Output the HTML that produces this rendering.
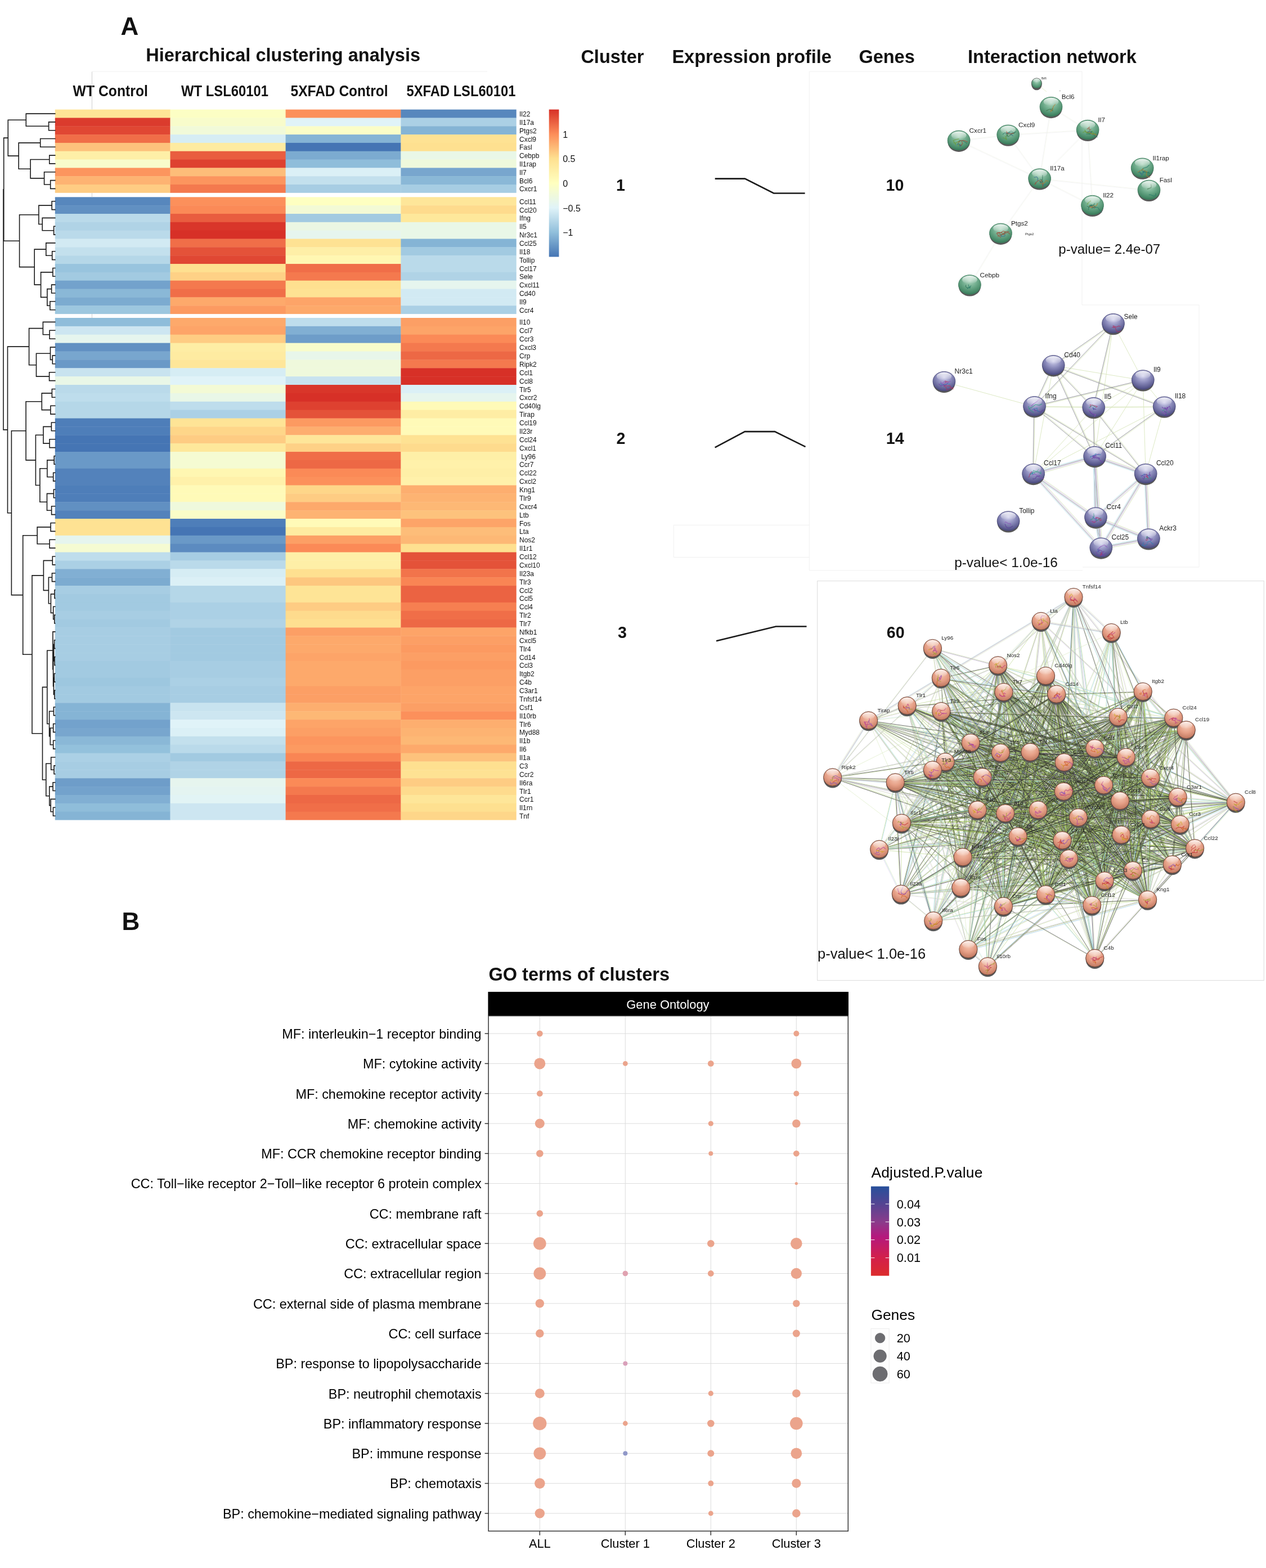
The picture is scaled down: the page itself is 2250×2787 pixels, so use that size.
<!DOCTYPE html>
<html lang="en"><head><meta charset="utf-8"><title>Figure</title>
<style>
html,body{margin:0;padding:0;background:#fff;}
body{width:2250px;height:2787px;overflow:hidden;}
svg{display:block;}
text{white-space:pre;}
</style></head><body>
<svg width="2250" height="2787" viewBox="0 0 2250 2787">
<rect width="2250" height="2787" fill="#fff"/>
<g>
<rect x="97.8" y="194.65" width="205.1" height="15.22" fill="#fee496"/>
<rect x="302.5" y="194.65" width="205.5" height="15.22" fill="#fcfec4"/>
<rect x="507.6" y="194.65" width="205.2" height="15.22" fill="#fc905b"/>
<rect x="712.4" y="194.65" width="205.3" height="15.22" fill="#5787bd"/>
<rect x="97.8" y="209.47" width="205.1" height="15.22" fill="#db3b2d"/>
<rect x="302.5" y="209.47" width="205.5" height="15.22" fill="#f8fccb"/>
<rect x="507.6" y="209.47" width="205.2" height="15.22" fill="#e0f3f8"/>
<rect x="712.4" y="209.47" width="205.3" height="15.22" fill="#abd0e5"/>
<rect x="97.8" y="224.28" width="205.1" height="15.22" fill="#e04733"/>
<rect x="302.5" y="224.28" width="205.5" height="15.22" fill="#f1fad9"/>
<rect x="507.6" y="224.28" width="205.2" height="15.22" fill="#fafdc8"/>
<rect x="712.4" y="224.28" width="205.3" height="15.22" fill="#85b4d5"/>
<rect x="97.8" y="239.1" width="205.1" height="15.22" fill="#f06e48"/>
<rect x="302.5" y="239.1" width="205.5" height="15.22" fill="#d6edf4"/>
<rect x="507.6" y="239.1" width="205.2" height="15.22" fill="#85b4d5"/>
<rect x="712.4" y="239.1" width="205.3" height="15.22" fill="#fee293"/>
<rect x="97.8" y="253.91" width="205.1" height="15.22" fill="#fdc27c"/>
<rect x="302.5" y="253.91" width="205.5" height="15.22" fill="#feeba1"/>
<rect x="507.6" y="253.91" width="205.2" height="15.22" fill="#4575b4"/>
<rect x="712.4" y="253.91" width="205.3" height="15.22" fill="#fee090"/>
<rect x="97.8" y="268.73" width="205.1" height="15.22" fill="#feefa7"/>
<rect x="302.5" y="268.73" width="205.5" height="15.22" fill="#e95d3f"/>
<rect x="507.6" y="268.73" width="205.2" height="15.22" fill="#7cabd0"/>
<rect x="712.4" y="268.73" width="205.3" height="15.22" fill="#e9f7e7"/>
<rect x="97.8" y="283.54" width="205.1" height="15.22" fill="#f8fccb"/>
<rect x="302.5" y="283.54" width="205.5" height="15.22" fill="#de4130"/>
<rect x="507.6" y="283.54" width="205.2" height="15.22" fill="#8fbdda"/>
<rect x="712.4" y="283.54" width="205.3" height="15.22" fill="#eff9dc"/>
<rect x="97.8" y="298.36" width="205.1" height="15.22" fill="#fc955e"/>
<rect x="302.5" y="298.36" width="205.5" height="15.22" fill="#fdbd79"/>
<rect x="507.6" y="298.36" width="205.2" height="15.22" fill="#dbf0f6"/>
<rect x="712.4" y="298.36" width="205.3" height="15.22" fill="#78a6ce"/>
<rect x="97.8" y="313.17" width="205.1" height="15.22" fill="#fdb372"/>
<rect x="302.5" y="313.17" width="205.5" height="15.22" fill="#fc955e"/>
<rect x="507.6" y="313.17" width="205.2" height="15.22" fill="#c3e0ed"/>
<rect x="712.4" y="313.17" width="205.3" height="15.22" fill="#8ab8d7"/>
<rect x="97.8" y="327.99" width="205.1" height="14.82" fill="#fecc83"/>
<rect x="302.5" y="327.99" width="205.5" height="14.82" fill="#f4794e"/>
<rect x="507.6" y="327.99" width="205.2" height="14.82" fill="#a7cde3"/>
<rect x="712.4" y="327.99" width="205.3" height="14.82" fill="#a7cde3"/>
<rect x="97.8" y="350.3" width="205.1" height="15.24" fill="#5787bd"/>
<rect x="302.5" y="350.3" width="205.5" height="15.24" fill="#fc905b"/>
<rect x="507.6" y="350.3" width="205.2" height="15.24" fill="#feffc1"/>
<rect x="712.4" y="350.3" width="205.3" height="15.24" fill="#fee699"/>
<rect x="97.8" y="365.14" width="205.1" height="15.24" fill="#6190c2"/>
<rect x="302.5" y="365.14" width="205.5" height="15.24" fill="#fb8a57"/>
<rect x="507.6" y="365.14" width="205.2" height="15.24" fill="#f3fad5"/>
<rect x="712.4" y="365.14" width="205.3" height="15.24" fill="#fedb8d"/>
<rect x="97.8" y="379.99" width="205.1" height="15.24" fill="#badaea"/>
<rect x="302.5" y="379.99" width="205.5" height="15.24" fill="#e95d3f"/>
<rect x="507.6" y="379.99" width="205.2" height="15.24" fill="#a2cae1"/>
<rect x="712.4" y="379.99" width="205.3" height="15.24" fill="#fee89b"/>
<rect x="97.8" y="394.83" width="205.1" height="15.24" fill="#b0d3e6"/>
<rect x="302.5" y="394.83" width="205.5" height="15.24" fill="#d9362a"/>
<rect x="507.6" y="394.83" width="205.2" height="15.24" fill="#ebf7e3"/>
<rect x="712.4" y="394.83" width="205.3" height="15.24" fill="#e9f7e7"/>
<rect x="97.8" y="409.67" width="205.1" height="15.24" fill="#badaea"/>
<rect x="302.5" y="409.67" width="205.5" height="15.24" fill="#d73027"/>
<rect x="507.6" y="409.67" width="205.2" height="15.24" fill="#e6f5ee"/>
<rect x="712.4" y="409.67" width="205.3" height="15.24" fill="#e9f7e7"/>
<rect x="97.8" y="424.51" width="205.1" height="15.24" fill="#d2eaf3"/>
<rect x="302.5" y="424.51" width="205.5" height="15.24" fill="#f06e48"/>
<rect x="507.6" y="424.51" width="205.2" height="15.24" fill="#fee293"/>
<rect x="712.4" y="424.51" width="205.3" height="15.24" fill="#85b4d5"/>
<rect x="97.8" y="439.36" width="205.1" height="15.24" fill="#c3e0ed"/>
<rect x="302.5" y="439.36" width="205.5" height="15.24" fill="#e45239"/>
<rect x="507.6" y="439.36" width="205.2" height="15.24" fill="#feefa7"/>
<rect x="712.4" y="439.36" width="205.3" height="15.24" fill="#a2cae1"/>
<rect x="97.8" y="454.2" width="205.1" height="15.24" fill="#b5d7e8"/>
<rect x="302.5" y="454.2" width="205.5" height="15.24" fill="#e04733"/>
<rect x="507.6" y="454.2" width="205.2" height="15.24" fill="#fff7b2"/>
<rect x="712.4" y="454.2" width="205.3" height="15.24" fill="#badaea"/>
<rect x="97.8" y="469.04" width="205.1" height="15.24" fill="#98c4de"/>
<rect x="302.5" y="469.04" width="205.5" height="15.24" fill="#fee090"/>
<rect x="507.6" y="469.04" width="205.2" height="15.24" fill="#f06e48"/>
<rect x="712.4" y="469.04" width="205.3" height="15.24" fill="#badaea"/>
<rect x="97.8" y="483.89" width="205.1" height="15.24" fill="#a2cae1"/>
<rect x="302.5" y="483.89" width="205.5" height="15.24" fill="#fed186"/>
<rect x="507.6" y="483.89" width="205.2" height="15.24" fill="#f4794e"/>
<rect x="712.4" y="483.89" width="205.3" height="15.24" fill="#b0d3e6"/>
<rect x="97.8" y="498.73" width="205.1" height="15.24" fill="#73a2cc"/>
<rect x="302.5" y="498.73" width="205.5" height="15.24" fill="#f4794e"/>
<rect x="507.6" y="498.73" width="205.2" height="15.24" fill="#fee090"/>
<rect x="712.4" y="498.73" width="205.3" height="15.24" fill="#e6f5ee"/>
<rect x="97.8" y="513.57" width="205.1" height="15.24" fill="#8ab8d7"/>
<rect x="302.5" y="513.57" width="205.5" height="15.24" fill="#f06e48"/>
<rect x="507.6" y="513.57" width="205.2" height="15.24" fill="#fee293"/>
<rect x="712.4" y="513.57" width="205.3" height="15.24" fill="#d2eaf3"/>
<rect x="97.8" y="528.41" width="205.1" height="15.24" fill="#7cabd0"/>
<rect x="302.5" y="528.41" width="205.5" height="15.24" fill="#fda96b"/>
<rect x="507.6" y="528.41" width="205.2" height="15.24" fill="#fda468"/>
<rect x="712.4" y="528.41" width="205.3" height="15.24" fill="#d2eaf3"/>
<rect x="97.8" y="543.26" width="205.1" height="14.84" fill="#9dc7df"/>
<rect x="302.5" y="543.26" width="205.5" height="14.84" fill="#fc9a61"/>
<rect x="507.6" y="543.26" width="205.2" height="14.84" fill="#fda96b"/>
<rect x="712.4" y="543.26" width="205.3" height="14.84" fill="#abd0e5"/>
<rect x="97.8" y="565" width="205.1" height="15.28" fill="#8fbdda"/>
<rect x="302.5" y="565" width="205.5" height="15.28" fill="#fda96b"/>
<rect x="507.6" y="565" width="205.2" height="15.28" fill="#beddec"/>
<rect x="712.4" y="565" width="205.3" height="15.28" fill="#fc9f65"/>
<rect x="97.8" y="579.88" width="205.1" height="15.28" fill="#cde6f1"/>
<rect x="302.5" y="579.88" width="205.5" height="15.28" fill="#fda468"/>
<rect x="507.6" y="579.88" width="205.2" height="15.28" fill="#81afd3"/>
<rect x="712.4" y="579.88" width="205.3" height="15.28" fill="#fda468"/>
<rect x="97.8" y="594.75" width="205.1" height="15.28" fill="#e6f5ee"/>
<rect x="302.5" y="594.75" width="205.5" height="15.28" fill="#fecc83"/>
<rect x="507.6" y="594.75" width="205.2" height="15.28" fill="#6e9dc9"/>
<rect x="712.4" y="594.75" width="205.3" height="15.28" fill="#fb8a57"/>
<rect x="97.8" y="609.63" width="205.1" height="15.28" fill="#6190c2"/>
<rect x="302.5" y="609.63" width="205.5" height="15.28" fill="#feeda4"/>
<rect x="507.6" y="609.63" width="205.2" height="15.28" fill="#f8fccb"/>
<rect x="712.4" y="609.63" width="205.3" height="15.28" fill="#f4794e"/>
<rect x="97.8" y="624.51" width="205.1" height="15.28" fill="#78a6ce"/>
<rect x="302.5" y="624.51" width="205.5" height="15.28" fill="#feeba1"/>
<rect x="507.6" y="624.51" width="205.2" height="15.28" fill="#e8f6ea"/>
<rect x="712.4" y="624.51" width="205.3" height="15.28" fill="#ed6845"/>
<rect x="97.8" y="639.38" width="205.1" height="15.28" fill="#6a99c7"/>
<rect x="302.5" y="639.38" width="205.5" height="15.28" fill="#fee699"/>
<rect x="507.6" y="639.38" width="205.2" height="15.28" fill="#eff9dc"/>
<rect x="712.4" y="639.38" width="205.3" height="15.28" fill="#f4794e"/>
<rect x="97.8" y="654.26" width="205.1" height="15.28" fill="#c8e3ef"/>
<rect x="302.5" y="654.26" width="205.5" height="15.28" fill="#d6edf4"/>
<rect x="507.6" y="654.26" width="205.2" height="15.28" fill="#eff9dc"/>
<rect x="712.4" y="654.26" width="205.3" height="15.28" fill="#d73027"/>
<rect x="97.8" y="669.14" width="205.1" height="15.28" fill="#e9f7e7"/>
<rect x="302.5" y="669.14" width="205.5" height="15.28" fill="#e0f3f8"/>
<rect x="507.6" y="669.14" width="205.2" height="15.28" fill="#c8e3ef"/>
<rect x="712.4" y="669.14" width="205.3" height="15.28" fill="#d73027"/>
<rect x="97.8" y="684.01" width="205.1" height="15.28" fill="#badaea"/>
<rect x="302.5" y="684.01" width="205.5" height="15.28" fill="#f3fad5"/>
<rect x="507.6" y="684.01" width="205.2" height="15.28" fill="#d9362a"/>
<rect x="712.4" y="684.01" width="205.3" height="15.28" fill="#dbf0f6"/>
<rect x="97.8" y="698.89" width="205.1" height="15.28" fill="#beddec"/>
<rect x="302.5" y="698.89" width="205.5" height="15.28" fill="#e9f7e7"/>
<rect x="507.6" y="698.89" width="205.2" height="15.28" fill="#d73027"/>
<rect x="712.4" y="698.89" width="205.3" height="15.28" fill="#e6f5ee"/>
<rect x="97.8" y="713.77" width="205.1" height="15.28" fill="#b5d7e8"/>
<rect x="302.5" y="713.77" width="205.5" height="15.28" fill="#beddec"/>
<rect x="507.6" y="713.77" width="205.2" height="15.28" fill="#de4130"/>
<rect x="712.4" y="713.77" width="205.3" height="15.28" fill="#fffab8"/>
<rect x="97.8" y="728.64" width="205.1" height="15.28" fill="#b5d7e8"/>
<rect x="302.5" y="728.64" width="205.5" height="15.28" fill="#abd0e5"/>
<rect x="507.6" y="728.64" width="205.2" height="15.28" fill="#e45239"/>
<rect x="712.4" y="728.64" width="205.3" height="15.28" fill="#feeda4"/>
<rect x="97.8" y="743.52" width="205.1" height="15.28" fill="#4e7eb9"/>
<rect x="302.5" y="743.52" width="205.5" height="15.28" fill="#fee496"/>
<rect x="507.6" y="743.52" width="205.2" height="15.28" fill="#fc9a61"/>
<rect x="712.4" y="743.52" width="205.3" height="15.28" fill="#fffab8"/>
<rect x="97.8" y="758.4" width="205.1" height="15.28" fill="#4e7eb9"/>
<rect x="302.5" y="758.4" width="205.5" height="15.28" fill="#fed689"/>
<rect x="507.6" y="758.4" width="205.2" height="15.28" fill="#fdae6f"/>
<rect x="712.4" y="758.4" width="205.3" height="15.28" fill="#fffab8"/>
<rect x="97.8" y="773.27" width="205.1" height="15.28" fill="#4575b4"/>
<rect x="302.5" y="773.27" width="205.5" height="15.28" fill="#fecc83"/>
<rect x="507.6" y="773.27" width="205.2" height="15.28" fill="#fee699"/>
<rect x="712.4" y="773.27" width="205.3" height="15.28" fill="#fee293"/>
<rect x="97.8" y="788.15" width="205.1" height="15.28" fill="#4575b4"/>
<rect x="302.5" y="788.15" width="205.5" height="15.28" fill="#fee89b"/>
<rect x="507.6" y="788.15" width="205.2" height="15.28" fill="#fed186"/>
<rect x="712.4" y="788.15" width="205.3" height="15.28" fill="#fedb8d"/>
<rect x="97.8" y="803.03" width="205.1" height="15.28" fill="#6a99c7"/>
<rect x="302.5" y="803.03" width="205.5" height="15.28" fill="#f5fbd2"/>
<rect x="507.6" y="803.03" width="205.2" height="15.28" fill="#f06e48"/>
<rect x="712.4" y="803.03" width="205.3" height="15.28" fill="#feefa7"/>
<rect x="97.8" y="817.9" width="205.1" height="15.28" fill="#6a99c7"/>
<rect x="302.5" y="817.9" width="205.5" height="15.28" fill="#f5fbd2"/>
<rect x="507.6" y="817.9" width="205.2" height="15.28" fill="#ed6845"/>
<rect x="712.4" y="817.9" width="205.3" height="15.28" fill="#fff1aa"/>
<rect x="97.8" y="832.78" width="205.1" height="15.28" fill="#5382bb"/>
<rect x="302.5" y="832.78" width="205.5" height="15.28" fill="#fff7b2"/>
<rect x="507.6" y="832.78" width="205.2" height="15.28" fill="#fb8a57"/>
<rect x="712.4" y="832.78" width="205.3" height="15.28" fill="#feefa7"/>
<rect x="97.8" y="847.66" width="205.1" height="15.28" fill="#5382bb"/>
<rect x="302.5" y="847.66" width="205.5" height="15.28" fill="#fff1aa"/>
<rect x="507.6" y="847.66" width="205.2" height="15.28" fill="#fc905b"/>
<rect x="712.4" y="847.66" width="205.3" height="15.28" fill="#fff1aa"/>
<rect x="97.8" y="862.53" width="205.1" height="15.28" fill="#4e7eb9"/>
<rect x="302.5" y="862.53" width="205.5" height="15.28" fill="#fffab8"/>
<rect x="507.6" y="862.53" width="205.2" height="15.28" fill="#fed689"/>
<rect x="712.4" y="862.53" width="205.3" height="15.28" fill="#fdae6f"/>
<rect x="97.8" y="877.41" width="205.1" height="15.28" fill="#4e7eb9"/>
<rect x="302.5" y="877.41" width="205.5" height="15.28" fill="#fffab8"/>
<rect x="507.6" y="877.41" width="205.2" height="15.28" fill="#fecc83"/>
<rect x="712.4" y="877.41" width="205.3" height="15.28" fill="#fdb372"/>
<rect x="97.8" y="892.29" width="205.1" height="15.28" fill="#6190c2"/>
<rect x="302.5" y="892.29" width="205.5" height="15.28" fill="#eff9dc"/>
<rect x="507.6" y="892.29" width="205.2" height="15.28" fill="#fda96b"/>
<rect x="712.4" y="892.29" width="205.3" height="15.28" fill="#fdb875"/>
<rect x="97.8" y="907.16" width="205.1" height="15.28" fill="#5382bb"/>
<rect x="302.5" y="907.16" width="205.5" height="15.28" fill="#fafdc8"/>
<rect x="507.6" y="907.16" width="205.2" height="15.28" fill="#fdb372"/>
<rect x="712.4" y="907.16" width="205.3" height="15.28" fill="#fdc27c"/>
<rect x="97.8" y="922.04" width="205.1" height="15.28" fill="#fee293"/>
<rect x="302.5" y="922.04" width="205.5" height="15.28" fill="#4e7eb9"/>
<rect x="507.6" y="922.04" width="205.2" height="15.28" fill="#fffab8"/>
<rect x="712.4" y="922.04" width="205.3" height="15.28" fill="#fda468"/>
<rect x="97.8" y="936.92" width="205.1" height="15.28" fill="#fee293"/>
<rect x="302.5" y="936.92" width="205.5" height="15.28" fill="#4575b4"/>
<rect x="507.6" y="936.92" width="205.2" height="15.28" fill="#feeba1"/>
<rect x="712.4" y="936.92" width="205.3" height="15.28" fill="#fdbd79"/>
<rect x="97.8" y="951.79" width="205.1" height="15.28" fill="#e6f5ee"/>
<rect x="302.5" y="951.79" width="205.5" height="15.28" fill="#6a99c7"/>
<rect x="507.6" y="951.79" width="205.2" height="15.28" fill="#fc9f65"/>
<rect x="712.4" y="951.79" width="205.3" height="15.28" fill="#fdb875"/>
<rect x="97.8" y="966.67" width="205.1" height="15.28" fill="#f5fbd2"/>
<rect x="302.5" y="966.67" width="205.5" height="15.28" fill="#5c8bc0"/>
<rect x="507.6" y="966.67" width="205.2" height="15.28" fill="#fb8a57"/>
<rect x="712.4" y="966.67" width="205.3" height="15.28" fill="#fee090"/>
<rect x="97.8" y="981.55" width="205.1" height="15.28" fill="#beddec"/>
<rect x="302.5" y="981.55" width="205.5" height="15.28" fill="#a7cde3"/>
<rect x="507.6" y="981.55" width="205.2" height="15.28" fill="#feefa7"/>
<rect x="712.4" y="981.55" width="205.3" height="15.28" fill="#e45239"/>
<rect x="97.8" y="996.42" width="205.1" height="15.28" fill="#abd0e5"/>
<rect x="302.5" y="996.42" width="205.5" height="15.28" fill="#badaea"/>
<rect x="507.6" y="996.42" width="205.2" height="15.28" fill="#feefa7"/>
<rect x="712.4" y="996.42" width="205.3" height="15.28" fill="#e45239"/>
<rect x="97.8" y="1011.3" width="205.1" height="15.28" fill="#81afd3"/>
<rect x="302.5" y="1011.3" width="205.5" height="15.28" fill="#d6edf4"/>
<rect x="507.6" y="1011.3" width="205.2" height="15.28" fill="#fee090"/>
<rect x="712.4" y="1011.3" width="205.3" height="15.28" fill="#f2744b"/>
<rect x="97.8" y="1026.18" width="205.1" height="15.28" fill="#7cabd0"/>
<rect x="302.5" y="1026.18" width="205.5" height="15.28" fill="#dbf0f6"/>
<rect x="507.6" y="1026.18" width="205.2" height="15.28" fill="#fdc77f"/>
<rect x="712.4" y="1026.18" width="205.3" height="15.28" fill="#f98554"/>
<rect x="97.8" y="1041.05" width="205.1" height="15.28" fill="#a7cde3"/>
<rect x="302.5" y="1041.05" width="205.5" height="15.28" fill="#b5d7e8"/>
<rect x="507.6" y="1041.05" width="205.2" height="15.28" fill="#fee496"/>
<rect x="712.4" y="1041.05" width="205.3" height="15.28" fill="#eb6342"/>
<rect x="97.8" y="1055.93" width="205.1" height="15.28" fill="#a2cae1"/>
<rect x="302.5" y="1055.93" width="205.5" height="15.28" fill="#b5d7e8"/>
<rect x="507.6" y="1055.93" width="205.2" height="15.28" fill="#fee496"/>
<rect x="712.4" y="1055.93" width="205.3" height="15.28" fill="#eb6342"/>
<rect x="97.8" y="1070.81" width="205.1" height="15.28" fill="#a2cae1"/>
<rect x="302.5" y="1070.81" width="205.5" height="15.28" fill="#abd0e5"/>
<rect x="507.6" y="1070.81" width="205.2" height="15.28" fill="#fecc83"/>
<rect x="712.4" y="1070.81" width="205.3" height="15.28" fill="#f67f51"/>
<rect x="97.8" y="1085.68" width="205.1" height="15.28" fill="#a7cde3"/>
<rect x="302.5" y="1085.68" width="205.5" height="15.28" fill="#abd0e5"/>
<rect x="507.6" y="1085.68" width="205.2" height="15.28" fill="#fedb8d"/>
<rect x="712.4" y="1085.68" width="205.3" height="15.28" fill="#f06e48"/>
<rect x="97.8" y="1100.56" width="205.1" height="15.28" fill="#a2cae1"/>
<rect x="302.5" y="1100.56" width="205.5" height="15.28" fill="#b0d3e6"/>
<rect x="507.6" y="1100.56" width="205.2" height="15.28" fill="#fee090"/>
<rect x="712.4" y="1100.56" width="205.3" height="15.28" fill="#ed6845"/>
<rect x="97.8" y="1115.44" width="205.1" height="15.28" fill="#a7cde3"/>
<rect x="302.5" y="1115.44" width="205.5" height="15.28" fill="#a2cae1"/>
<rect x="507.6" y="1115.44" width="205.2" height="15.28" fill="#fc9f65"/>
<rect x="712.4" y="1115.44" width="205.3" height="15.28" fill="#fda468"/>
<rect x="97.8" y="1130.31" width="205.1" height="15.28" fill="#a7cde3"/>
<rect x="302.5" y="1130.31" width="205.5" height="15.28" fill="#a2cae1"/>
<rect x="507.6" y="1130.31" width="205.2" height="15.28" fill="#fda96b"/>
<rect x="712.4" y="1130.31" width="205.3" height="15.28" fill="#fc9f65"/>
<rect x="97.8" y="1145.19" width="205.1" height="15.28" fill="#a7cde3"/>
<rect x="302.5" y="1145.19" width="205.5" height="15.28" fill="#a2cae1"/>
<rect x="507.6" y="1145.19" width="205.2" height="15.28" fill="#fda96b"/>
<rect x="712.4" y="1145.19" width="205.3" height="15.28" fill="#fc9a61"/>
<rect x="97.8" y="1160.07" width="205.1" height="15.28" fill="#a7cde3"/>
<rect x="302.5" y="1160.07" width="205.5" height="15.28" fill="#a2cae1"/>
<rect x="507.6" y="1160.07" width="205.2" height="15.28" fill="#fda468"/>
<rect x="712.4" y="1160.07" width="205.3" height="15.28" fill="#fc9f65"/>
<rect x="97.8" y="1174.94" width="205.1" height="15.28" fill="#a2cae1"/>
<rect x="302.5" y="1174.94" width="205.5" height="15.28" fill="#a7cde3"/>
<rect x="507.6" y="1174.94" width="205.2" height="15.28" fill="#fda96b"/>
<rect x="712.4" y="1174.94" width="205.3" height="15.28" fill="#fc9a61"/>
<rect x="97.8" y="1189.82" width="205.1" height="15.28" fill="#a2cae1"/>
<rect x="302.5" y="1189.82" width="205.5" height="15.28" fill="#a7cde3"/>
<rect x="507.6" y="1189.82" width="205.2" height="15.28" fill="#fda96b"/>
<rect x="712.4" y="1189.82" width="205.3" height="15.28" fill="#fc9f65"/>
<rect x="97.8" y="1204.7" width="205.1" height="15.28" fill="#9dc7df"/>
<rect x="302.5" y="1204.7" width="205.5" height="15.28" fill="#abd0e5"/>
<rect x="507.6" y="1204.7" width="205.2" height="15.28" fill="#fda96b"/>
<rect x="712.4" y="1204.7" width="205.3" height="15.28" fill="#fc9f65"/>
<rect x="97.8" y="1219.57" width="205.1" height="15.28" fill="#a2cae1"/>
<rect x="302.5" y="1219.57" width="205.5" height="15.28" fill="#a7cde3"/>
<rect x="507.6" y="1219.57" width="205.2" height="15.28" fill="#fc9f65"/>
<rect x="712.4" y="1219.57" width="205.3" height="15.28" fill="#fda468"/>
<rect x="97.8" y="1234.45" width="205.1" height="15.28" fill="#a2cae1"/>
<rect x="302.5" y="1234.45" width="205.5" height="15.28" fill="#a7cde3"/>
<rect x="507.6" y="1234.45" width="205.2" height="15.28" fill="#fc9f65"/>
<rect x="712.4" y="1234.45" width="205.3" height="15.28" fill="#fda468"/>
<rect x="97.8" y="1249.33" width="205.1" height="15.28" fill="#85b4d5"/>
<rect x="302.5" y="1249.33" width="205.5" height="15.28" fill="#c8e3ef"/>
<rect x="507.6" y="1249.33" width="205.2" height="15.28" fill="#fdae6f"/>
<rect x="712.4" y="1249.33" width="205.3" height="15.28" fill="#fc9f65"/>
<rect x="97.8" y="1264.2" width="205.1" height="15.28" fill="#85b4d5"/>
<rect x="302.5" y="1264.2" width="205.5" height="15.28" fill="#cde6f1"/>
<rect x="507.6" y="1264.2" width="205.2" height="15.28" fill="#fdb875"/>
<rect x="712.4" y="1264.2" width="205.3" height="15.28" fill="#fc905b"/>
<rect x="97.8" y="1279.08" width="205.1" height="15.28" fill="#73a2cc"/>
<rect x="302.5" y="1279.08" width="205.5" height="15.28" fill="#e0f3f8"/>
<rect x="507.6" y="1279.08" width="205.2" height="15.28" fill="#fda468"/>
<rect x="712.4" y="1279.08" width="205.3" height="15.28" fill="#fdae6f"/>
<rect x="97.8" y="1293.96" width="205.1" height="15.28" fill="#78a6ce"/>
<rect x="302.5" y="1293.96" width="205.5" height="15.28" fill="#dbf0f6"/>
<rect x="507.6" y="1293.96" width="205.2" height="15.28" fill="#fc9f65"/>
<rect x="712.4" y="1293.96" width="205.3" height="15.28" fill="#fdb372"/>
<rect x="97.8" y="1308.83" width="205.1" height="15.28" fill="#8ab8d7"/>
<rect x="302.5" y="1308.83" width="205.5" height="15.28" fill="#c3e0ed"/>
<rect x="507.6" y="1308.83" width="205.2" height="15.28" fill="#fc955e"/>
<rect x="712.4" y="1308.83" width="205.3" height="15.28" fill="#fdb875"/>
<rect x="97.8" y="1323.71" width="205.1" height="15.28" fill="#93c1dc"/>
<rect x="302.5" y="1323.71" width="205.5" height="15.28" fill="#badaea"/>
<rect x="507.6" y="1323.71" width="205.2" height="15.28" fill="#fc9a61"/>
<rect x="712.4" y="1323.71" width="205.3" height="15.28" fill="#fda96b"/>
<rect x="97.8" y="1338.59" width="205.1" height="15.28" fill="#abd0e5"/>
<rect x="302.5" y="1338.59" width="205.5" height="15.28" fill="#a2cae1"/>
<rect x="507.6" y="1338.59" width="205.2" height="15.28" fill="#f98554"/>
<rect x="712.4" y="1338.59" width="205.3" height="15.28" fill="#fdc27c"/>
<rect x="97.8" y="1353.46" width="205.1" height="15.28" fill="#a7cde3"/>
<rect x="302.5" y="1353.46" width="205.5" height="15.28" fill="#b0d3e6"/>
<rect x="507.6" y="1353.46" width="205.2" height="15.28" fill="#ed6845"/>
<rect x="712.4" y="1353.46" width="205.3" height="15.28" fill="#fee090"/>
<rect x="97.8" y="1368.34" width="205.1" height="15.28" fill="#a7cde3"/>
<rect x="302.5" y="1368.34" width="205.5" height="15.28" fill="#b0d3e6"/>
<rect x="507.6" y="1368.34" width="205.2" height="15.28" fill="#ed6845"/>
<rect x="712.4" y="1368.34" width="205.3" height="15.28" fill="#fee293"/>
<rect x="97.8" y="1383.22" width="205.1" height="15.28" fill="#6e9dc9"/>
<rect x="302.5" y="1383.22" width="205.5" height="15.28" fill="#e6f5ee"/>
<rect x="507.6" y="1383.22" width="205.2" height="15.28" fill="#fb8a57"/>
<rect x="712.4" y="1383.22" width="205.3" height="15.28" fill="#fecc83"/>
<rect x="97.8" y="1398.09" width="205.1" height="15.28" fill="#73a2cc"/>
<rect x="302.5" y="1398.09" width="205.5" height="15.28" fill="#e4f4f1"/>
<rect x="507.6" y="1398.09" width="205.2" height="15.28" fill="#f4794e"/>
<rect x="712.4" y="1398.09" width="205.3" height="15.28" fill="#fedb8d"/>
<rect x="97.8" y="1412.97" width="205.1" height="15.28" fill="#81afd3"/>
<rect x="302.5" y="1412.97" width="205.5" height="15.28" fill="#e2f4f5"/>
<rect x="507.6" y="1412.97" width="205.2" height="15.28" fill="#ed6845"/>
<rect x="712.4" y="1412.97" width="205.3" height="15.28" fill="#fee699"/>
<rect x="97.8" y="1427.85" width="205.1" height="15.28" fill="#8fbdda"/>
<rect x="302.5" y="1427.85" width="205.5" height="15.28" fill="#cde6f1"/>
<rect x="507.6" y="1427.85" width="205.2" height="15.28" fill="#f06e48"/>
<rect x="712.4" y="1427.85" width="205.3" height="15.28" fill="#fee090"/>
<rect x="97.8" y="1442.72" width="205.1" height="14.88" fill="#85b4d5"/>
<rect x="302.5" y="1442.72" width="205.5" height="14.88" fill="#cde6f1"/>
<rect x="507.6" y="1442.72" width="205.2" height="14.88" fill="#f4794e"/>
<rect x="712.4" y="1442.72" width="205.3" height="14.88" fill="#fed689"/>
</g>
<g font-family="'Liberation Sans', Arial, Helvetica, sans-serif" font-size="12" fill="#111">
<text x="923" y="207.1" xml:space="preserve">Il22</text>
<text x="923" y="221.9" xml:space="preserve">Il17a</text>
<text x="923" y="236.7" xml:space="preserve">Ptgs2</text>
<text x="923" y="251.5" xml:space="preserve">Cxcl9</text>
<text x="923" y="266.3" xml:space="preserve">Fasl</text>
<text x="923" y="281.1" xml:space="preserve">Cebpb</text>
<text x="923" y="295.9" xml:space="preserve">Il1rap</text>
<text x="923" y="310.8" xml:space="preserve">Il7</text>
<text x="923" y="325.6" xml:space="preserve">Bcl6</text>
<text x="923" y="340.4" xml:space="preserve">Cxcr1</text>
<text x="923" y="362.7" xml:space="preserve">Ccl11</text>
<text x="923" y="377.6" xml:space="preserve">Ccl20</text>
<text x="923" y="392.4" xml:space="preserve">Ifng</text>
<text x="923" y="407.2" xml:space="preserve">Il5</text>
<text x="923" y="422.1" xml:space="preserve">Nr3c1</text>
<text x="923" y="436.9" xml:space="preserve">Ccl25</text>
<text x="923" y="451.8" xml:space="preserve">Il18</text>
<text x="923" y="466.6" xml:space="preserve">Tollip</text>
<text x="923" y="481.5" xml:space="preserve">Ccl17</text>
<text x="923" y="496.3" xml:space="preserve">Sele</text>
<text x="923" y="511.1" xml:space="preserve">Cxcl11</text>
<text x="923" y="526" xml:space="preserve">Cd40</text>
<text x="923" y="540.8" xml:space="preserve">Il9</text>
<text x="923" y="555.7" xml:space="preserve">Ccr4</text>
<text x="923" y="577.4" xml:space="preserve">Il10</text>
<text x="923" y="592.3" xml:space="preserve">Ccl7</text>
<text x="923" y="607.2" xml:space="preserve">Ccr3</text>
<text x="923" y="622.1" xml:space="preserve">Cxcl3</text>
<text x="923" y="636.9" xml:space="preserve">Crp</text>
<text x="923" y="651.8" xml:space="preserve">Ripk2</text>
<text x="923" y="666.7" xml:space="preserve">Ccl1</text>
<text x="923" y="681.6" xml:space="preserve">Ccl8</text>
<text x="923" y="696.5" xml:space="preserve">Tlr5</text>
<text x="923" y="711.3" xml:space="preserve">Cxcr2</text>
<text x="923" y="726.2" xml:space="preserve">Cd40lg</text>
<text x="923" y="741.1" xml:space="preserve">Tirap</text>
<text x="923" y="756" xml:space="preserve">Ccl19</text>
<text x="923" y="770.8" xml:space="preserve">Il23r</text>
<text x="923" y="785.7" xml:space="preserve">Ccl24</text>
<text x="923" y="800.6" xml:space="preserve">Cxcl1</text>
<text x="923" y="815.5" xml:space="preserve"> Ly96</text>
<text x="923" y="830.3" xml:space="preserve">Ccr7</text>
<text x="923" y="845.2" xml:space="preserve">Ccl22</text>
<text x="923" y="860.1" xml:space="preserve">Cxcl2</text>
<text x="923" y="875" xml:space="preserve">Kng1</text>
<text x="923" y="889.8" xml:space="preserve">Tlr9</text>
<text x="923" y="904.7" xml:space="preserve">Cxcr4</text>
<text x="923" y="919.6" xml:space="preserve">Ltb</text>
<text x="923" y="934.5" xml:space="preserve">Fos</text>
<text x="923" y="949.4" xml:space="preserve">Lta</text>
<text x="923" y="964.2" xml:space="preserve">Nos2</text>
<text x="923" y="979.1" xml:space="preserve">Il1r1</text>
<text x="923" y="994" xml:space="preserve">Ccl12</text>
<text x="923" y="1008.9" xml:space="preserve">Cxcl10</text>
<text x="923" y="1023.7" xml:space="preserve">Il23a</text>
<text x="923" y="1038.6" xml:space="preserve">Tlr3</text>
<text x="923" y="1053.5" xml:space="preserve">Ccl2</text>
<text x="923" y="1068.4" xml:space="preserve">Ccl5</text>
<text x="923" y="1083.2" xml:space="preserve">Ccl4</text>
<text x="923" y="1098.1" xml:space="preserve">Tlr2</text>
<text x="923" y="1113" xml:space="preserve">Tlr7</text>
<text x="923" y="1127.9" xml:space="preserve">Nfkb1</text>
<text x="923" y="1142.8" xml:space="preserve">Cxcl5</text>
<text x="923" y="1157.6" xml:space="preserve">Tlr4</text>
<text x="923" y="1172.5" xml:space="preserve">Cd14</text>
<text x="923" y="1187.4" xml:space="preserve">Ccl3</text>
<text x="923" y="1202.3" xml:space="preserve">Itgb2</text>
<text x="923" y="1217.1" xml:space="preserve">C4b</text>
<text x="923" y="1232" xml:space="preserve">C3ar1</text>
<text x="923" y="1246.9" xml:space="preserve">Tnfsf14</text>
<text x="923" y="1261.8" xml:space="preserve">Csf1</text>
<text x="923" y="1276.6" xml:space="preserve">Il10rb</text>
<text x="923" y="1291.5" xml:space="preserve">Tlr6</text>
<text x="923" y="1306.4" xml:space="preserve">Myd88</text>
<text x="923" y="1321.3" xml:space="preserve">Il1b</text>
<text x="923" y="1336.1" xml:space="preserve">Il6</text>
<text x="923" y="1351" xml:space="preserve">Il1a</text>
<text x="923" y="1365.9" xml:space="preserve">C3</text>
<text x="923" y="1380.8" xml:space="preserve">Ccr2</text>
<text x="923" y="1395.7" xml:space="preserve">Il6ra</text>
<text x="923" y="1410.5" xml:space="preserve">Tlr1</text>
<text x="923" y="1425.4" xml:space="preserve">Ccr1</text>
<text x="923" y="1440.3" xml:space="preserve">Il1rn</text>
<text x="923" y="1455.2" xml:space="preserve">Tnf</text>
</g>
<path d="M86.6 216.9L97.8 216.9M86.6 231.7L97.8 231.7M86.6 216.9L86.6 231.7M46.3 202.1L97.8 202.1M46.3 224.3L86.6 224.3M46.3 202.1L46.3 224.3M71.7 246.5L97.8 246.5M71.7 261.3L97.8 261.3M71.7 246.5L71.7 261.3M87.8 276.1L97.8 276.1M87.8 290.9L97.8 290.9M87.8 276.1L87.8 290.9M89.7 320.6L97.8 320.6M89.7 335.4L97.8 335.4M89.7 320.6L89.7 335.4M78.6 305.8L97.8 305.8M78.6 328L89.7 328M78.6 305.8L78.6 328M54.1 283.5L87.8 283.5M54.1 316.9L78.6 316.9M54.1 283.5L54.1 316.9M33.2 253.9L71.7 253.9M33.2 300.2L54.1 300.2M33.2 253.9L33.2 300.2M14.3 213.2L46.3 213.2M14.3 277.1L33.2 277.1M14.3 213.2L14.3 277.1M92.2 357.7L97.8 357.7M92.2 372.6L97.8 372.6M92.2 357.7L92.2 372.6M95.6 402.2L97.8 402.2M95.6 417.1L97.8 417.1M95.6 402.2L95.6 417.1M75.2 387.4L97.8 387.4M75.2 409.7L95.6 409.7M75.2 387.4L75.2 409.7M68.9 365.1L92.2 365.1M68.9 398.5L75.2 398.5M68.9 365.1L68.9 398.5M92.7 446.8L97.8 446.8M92.7 461.6L97.8 461.6M92.7 446.8L92.7 461.6M81.8 431.9L97.8 431.9M81.8 454.2L92.7 454.2M81.8 431.9L81.8 454.2M93.9 476.5L97.8 476.5M93.9 491.3L97.8 491.3M93.9 476.5L93.9 491.3M91.6 506.1L97.8 506.1M91.6 521L97.8 521M91.6 506.1L91.6 521M88.9 535.8L97.8 535.8M88.9 550.7L97.8 550.7M88.9 535.8L88.9 550.7M83.9 513.6L91.6 513.6M83.9 543.3L88.9 543.3M83.9 513.6L83.9 543.3M72.6 483.9L93.9 483.9M72.6 528.4L83.9 528.4M72.6 483.9L72.6 528.4M61.2 443.1L81.8 443.1M61.2 506.1L72.6 506.1M61.2 443.1L61.2 506.1M34.6 381.8L68.9 381.8M34.6 474.6L61.2 474.6M34.6 381.8L34.6 474.6M6.7 245.1L14.3 245.1M6.7 428.2L34.6 428.2M6.7 245.1L6.7 428.2M88.1 587.3L97.8 587.3M88.1 602.2L97.8 602.2M88.1 587.3L88.1 602.2M76.4 572.4L97.8 572.4M76.4 594.8L88.1 594.8M76.4 572.4L76.4 594.8M93.3 631.9L97.8 631.9M93.3 646.8L97.8 646.8M93.3 631.9L93.3 646.8M89.5 617.1L97.8 617.1M89.5 639.4L93.3 639.4M89.5 617.1L89.5 639.4M87.6 661.7L97.8 661.7M87.6 676.6L97.8 676.6M87.6 661.7L87.6 676.6M64.5 628.2L89.5 628.2M64.5 669.1L87.6 669.1M64.5 628.2L64.5 669.1M51.6 583.6L76.4 583.6M51.6 648.7L64.5 648.7M51.6 583.6L51.6 648.7M92.4 691.5L97.8 691.5M92.4 706.3L97.8 706.3M92.4 691.5L92.4 706.3M89.9 721.2L97.8 721.2M89.9 736.1L97.8 736.1M89.9 721.2L89.9 736.1M74.3 698.9L92.4 698.9M74.3 728.6L89.9 728.6M74.3 698.9L74.3 728.6M91.4 751L97.8 751M91.4 765.8L97.8 765.8M91.4 751L91.4 765.8M88.1 780.7L97.8 780.7M88.1 795.6L97.8 795.6M88.1 780.7L88.1 795.6M77 758.4L91.4 758.4M77 788.1L88.1 788.1M77 758.4L77 788.1M96.2 810.5L97.8 810.5M96.2 825.3L97.8 825.3M96.2 810.5L96.2 825.3M94.7 840.2L97.8 840.2M94.7 855.1L97.8 855.1M94.7 840.2L94.7 855.1M83.9 817.9L96.2 817.9M83.9 847.7L94.7 847.7M83.9 817.9L83.9 847.7M95.4 870L97.8 870M95.4 884.8L97.8 884.8M95.4 870L95.4 884.8M91.6 899.7L97.8 899.7M91.6 914.6L97.8 914.6M91.6 899.7L91.6 914.6M83.5 877.4L95.4 877.4M83.5 907.2L91.6 907.2M83.5 877.4L83.5 907.2M70.9 832.8L83.9 832.8M70.9 892.3L83.5 892.3M70.9 832.8L70.9 892.3M63.4 773.3L77 773.3M63.4 862.5L70.9 862.5M63.4 773.3L63.4 862.5M46.1 713.8L74.3 713.8M46.1 817.9L63.4 817.9M46.1 713.8L46.1 817.9M90.1 929.5L97.8 929.5M90.1 944.4L97.8 944.4M90.1 929.5L90.1 944.4M88.1 959.2L97.8 959.2M88.1 974.1L97.8 974.1M88.1 959.2L88.1 974.1M66.2 936.9L90.1 936.9M66.2 966.7L88.1 966.7M66.2 936.9L66.2 966.7M93.3 989L97.8 989M93.3 1003.9L97.8 1003.9M93.3 989L93.3 1003.9M92.5 1018.7L97.8 1018.7M92.5 1033.6L97.8 1033.6M92.5 1018.7L92.5 1033.6M97 1048.5L97.8 1048.5M97 1063.4L97.8 1063.4M97 1048.5L97 1063.4M96.8 1093.1L97.8 1093.1M96.8 1108L97.8 1108M96.8 1093.1L96.8 1108M94.7 1078.2L97.8 1078.2M94.7 1100.6L96.8 1100.6M94.7 1078.2L94.7 1100.6M90.4 1055.9L97 1055.9M90.4 1089.4L94.7 1089.4M90.4 1055.9L90.4 1089.4M86.4 1026.2L92.5 1026.2M86.4 1072.7L90.4 1072.7M86.4 1026.2L86.4 1072.7M77.4 996.4L93.3 996.4M77.4 1049.4L86.4 1049.4M77.4 996.4L77.4 1049.4M96.6 1137.8L97.8 1137.8M96.6 1152.6L97.8 1152.6M96.6 1137.8L96.6 1152.6M97 1167.5L97.8 1167.5M97 1182.4L97.8 1182.4M97 1167.5L97 1182.4M95.6 1145.2L96.6 1145.2M95.6 1174.9L97 1174.9M95.6 1145.2L95.6 1174.9M96.4 1197.3L97.8 1197.3M96.4 1212.1L97.8 1212.1M96.4 1197.3L96.4 1212.1M96.9 1227L97.8 1227M96.9 1241.9L97.8 1241.9M96.9 1227L96.9 1241.9M95.4 1204.7L96.4 1204.7M95.4 1234.4L96.9 1234.4M95.4 1204.7L95.4 1234.4M94.6 1160.1L95.6 1160.1M94.6 1219.6L95.4 1219.6M94.6 1160.1L94.6 1219.6M93.9 1122.9L97.8 1122.9M93.9 1189.8L94.6 1189.8M93.9 1122.9L93.9 1189.8M95.4 1256.8L97.8 1256.8M95.4 1271.6L97.8 1271.6M95.4 1256.8L95.4 1271.6M94.7 1286.5L97.8 1286.5M94.7 1301.4L97.8 1301.4M94.7 1286.5L94.7 1301.4M94.7 1316.3L97.8 1316.3M94.7 1331.1L97.8 1331.1M94.7 1316.3L94.7 1331.1M89.3 1294L94.7 1294M89.3 1323.7L94.7 1323.7M89.3 1294L89.3 1323.7M87.6 1264.2L95.4 1264.2M87.6 1308.8L89.3 1308.8M87.6 1264.2L87.6 1308.8M83.8 1156.3L93.9 1156.3M83.8 1286.5L87.6 1286.5M83.8 1156.3L83.8 1286.5M96 1360.9L97.8 1360.9M96 1375.8L97.8 1375.8M96 1360.9L96 1375.8M90.7 1346L97.8 1346M90.7 1368.3L96 1368.3M90.7 1346L90.7 1368.3M94.1 1390.7L97.8 1390.7M94.1 1405.5L97.8 1405.5M94.1 1390.7L94.1 1405.5M94.5 1435.3L97.8 1435.3M94.5 1450.2L97.8 1450.2M94.5 1435.3L94.5 1450.2M90.2 1420.4L97.8 1420.4M90.2 1442.7L94.5 1442.7M90.2 1420.4L90.2 1442.7M87.8 1398.1L94.1 1398.1M87.8 1431.6L90.2 1431.6M87.8 1398.1L87.8 1431.6M81.8 1357.2L90.7 1357.2M81.8 1414.8L87.8 1414.8M81.8 1357.2L81.8 1414.8M75.5 1221.4L83.8 1221.4M75.5 1386L81.8 1386M75.5 1221.4L75.5 1386M57 1022.9L77.4 1022.9M57 1303.7L75.5 1303.7M57 1022.9L57 1303.7M40.7 951.8L66.2 951.8M40.7 1163.3L57 1163.3M40.7 951.8L40.7 1163.3M20.4 765.8L46.1 765.8M20.4 1057.6L40.7 1057.6M20.4 765.8L20.4 1057.6M13.5 616.1L51.6 616.1M13.5 911.7L20.4 911.7M13.5 616.1L13.5 911.7M6 336.7L6.7 336.7M6 763.9L13.5 763.9M6 336.7L6 763.9" stroke="#1a1a1a" stroke-width="1.6" fill="none" stroke-linecap="square"/>
<defs><linearGradient id="hb" x1="0" y1="0" x2="0" y2="1">
<stop offset="0%" stop-color="#D73027"/>
<stop offset="16.7%" stop-color="#FC8D59"/>
<stop offset="33.3%" stop-color="#FEE090"/>
<stop offset="50%" stop-color="#FFFFBF"/>
<stop offset="66.7%" stop-color="#E0F3F8"/>
<stop offset="83.3%" stop-color="#91BFDB"/>
<stop offset="100%" stop-color="#4575B4"/>
</linearGradient></defs>
<rect x="975.7" y="194.6" width="17.7" height="261.9" fill="url(#hb)"/>
<g font-family="'Liberation Sans', Arial, Helvetica, sans-serif" font-size="16" fill="#111">
<text x="1000.2" y="244.6">1</text>
<text x="1000.2" y="288.3">0.5</text>
<text x="1000.2" y="331.9">0</text>
<text x="1000.2" y="375.6">−0.5</text>
<text x="1000.2" y="419.2">−1</text>
</g>
<text x="214.5" y="62.3" font-family="'Liberation Sans', Arial, Helvetica, sans-serif" font-size="44" font-weight="bold" text-anchor="start" fill="#111">A</text>
<text x="216.5" y="1653.2" font-family="'Liberation Sans', Arial, Helvetica, sans-serif" font-size="44" font-weight="bold" text-anchor="start" fill="#111">B</text>
<text x="259.3" y="109.2" font-family="'Liberation Sans', Arial, Helvetica, sans-serif" font-size="32.5" font-weight="bold" text-anchor="start" fill="#111">Hierarchical clustering analysis</text>
<text x="1032.4" y="111.6" font-family="'Liberation Sans', Arial, Helvetica, sans-serif" font-size="32.5" font-weight="bold" text-anchor="start" fill="#111">Cluster</text>
<text x="1194.4" y="111.6" font-family="'Liberation Sans', Arial, Helvetica, sans-serif" font-size="32.5" font-weight="bold" text-anchor="start" fill="#111">Expression profile</text>
<text x="1526.4" y="111.6" font-family="'Liberation Sans', Arial, Helvetica, sans-serif" font-size="32.5" font-weight="bold" text-anchor="start" fill="#111">Genes</text>
<text x="1720" y="111.6" font-family="'Liberation Sans', Arial, Helvetica, sans-serif" font-size="32.5" font-weight="bold" text-anchor="start" fill="#111">Interaction network</text>
<text x="129.6" y="171" font-family="'Liberation Sans', Arial, Helvetica, sans-serif" font-size="27" font-weight="bold" text-anchor="start" fill="#111" textLength="133.4" lengthAdjust="spacingAndGlyphs">WT Control</text>
<text x="322" y="171" font-family="'Liberation Sans', Arial, Helvetica, sans-serif" font-size="27" font-weight="bold" text-anchor="start" fill="#111" textLength="155" lengthAdjust="spacingAndGlyphs">WT LSL60101</text>
<text x="516.5" y="171" font-family="'Liberation Sans', Arial, Helvetica, sans-serif" font-size="27" font-weight="bold" text-anchor="start" fill="#111" textLength="173.1" lengthAdjust="spacingAndGlyphs">5XFAD Control</text>
<text x="722.6" y="171" font-family="'Liberation Sans', Arial, Helvetica, sans-serif" font-size="27" font-weight="bold" text-anchor="start" fill="#111" textLength="193.8" lengthAdjust="spacingAndGlyphs">5XFAD LSL60101</text>
<text x="1103" y="338.5" font-family="'Liberation Sans', Arial, Helvetica, sans-serif" font-size="28.6" font-weight="bold" text-anchor="middle" fill="#111">1</text>
<text x="1103.5" y="788.9" font-family="'Liberation Sans', Arial, Helvetica, sans-serif" font-size="28.6" font-weight="bold" text-anchor="middle" fill="#111">2</text>
<text x="1106" y="1134.4" font-family="'Liberation Sans', Arial, Helvetica, sans-serif" font-size="28.6" font-weight="bold" text-anchor="middle" fill="#111">3</text>
<text x="1590.5" y="338.5" font-family="'Liberation Sans', Arial, Helvetica, sans-serif" font-size="28.6" font-weight="bold" text-anchor="middle" fill="#111">10</text>
<text x="1590.7" y="788.9" font-family="'Liberation Sans', Arial, Helvetica, sans-serif" font-size="28.6" font-weight="bold" text-anchor="middle" fill="#111">14</text>
<text x="1591.7" y="1134.4" font-family="'Liberation Sans', Arial, Helvetica, sans-serif" font-size="28.6" font-weight="bold" text-anchor="middle" fill="#111">60</text>
<polyline points="1270.7,317.6 1324,317.6 1375.1,343.5 1430.6,343.5" fill="none" stroke="#1a1a1a" stroke-width="2.6" stroke-linejoin="miter"/>
<polyline points="1270.6,795.3 1323.8,767.1 1377,767.1 1431.5,794.1" fill="none" stroke="#1a1a1a" stroke-width="2.6" stroke-linejoin="miter"/>
<polyline points="1273,1139.3 1379,1113.5 1433.5,1113.5" fill="none" stroke="#1a1a1a" stroke-width="2.6" stroke-linejoin="miter"/>
<g stroke="#f0f0f0" stroke-width="1" fill="none">
<path d="M163.5 127H866"/>
<path d="M163.5 127.5V194.5M163.5 343V350.3M163.5 558.1V565" stroke="#cfcfcf"/>
<path d="M1438.5 127H1923V542H2131V1008H1924"/>
<path d="M1438.3 127V1013.9H1924"/>
<path d="M1438.3 933.2H1197.2V990.5H1438.3"/>
</g>
<rect x="1452.6" y="1032.6" width="793.7" height="710" fill="none" stroke="#dcdcdc" stroke-width="1"/>
<defs>
<radialGradient id="gG" cx="0.5" cy="0.3" r="0.75"><stop offset="0" stop-color="#b0d6c0"/><stop offset="0.45" stop-color="#6fac8c"/><stop offset="0.85" stop-color="#408462"/><stop offset="1" stop-color="#2a6248"/></radialGradient>
<radialGradient id="gP" cx="0.5" cy="0.3" r="0.75"><stop offset="0" stop-color="#d0d0ec"/><stop offset="0.45" stop-color="#8c8cbc"/><stop offset="0.85" stop-color="#55558a"/><stop offset="1" stop-color="#3e3e6a"/></radialGradient>
<radialGradient id="gR" cx="0.5" cy="0.3" r="0.75"><stop offset="0" stop-color="#f4c6b2"/><stop offset="0.5" stop-color="#e6a087"/><stop offset="0.88" stop-color="#c47c64"/><stop offset="1" stop-color="#8a5040"/></radialGradient>
<linearGradient id="hl" x1="0" y1="0" x2="0" y2="1"><stop offset="0" stop-color="#fff" stop-opacity="0.85"/><stop offset="1" stop-color="#fff" stop-opacity="0"/></linearGradient>
</defs>
<path d="M1704 249.7L1791.6 239.6M1791.7 239.6L1933.1 230.9M1792.2 239.8L1848.1 317.6M1704.4 249.7L1847.9 317.4M1868.3 190L1933.4 230.9M1868.6 190.7L1848.2 318.1M1933.6 232L1848.1 318.5M1933.7 231.5L1942.1 365.5M1847.9 317.4L1941.8 364.9M1847.7 317.4L2042.1 337.8M1848.1 318.4L1779 415.7M1779.1 415.6L1724 507.2" stroke="#f0f2e6" stroke-width="0.65" fill="none"/>
<path d="M1704.2 250.9L1791.8 240.8M1791.7 240.8L1933.1 232.1M1791.2 240.6L1847.1 318.4M1703.8 250.9L1847.3 318.6M1867.7 191.2L1932.8 232.1M1867.4 190.5L1847 317.9M1932.6 231L1847.1 317.5M1932.5 231.5L1940.9 365.5M1847.3 318.6L1941.2 366.1M1847.5 318.6L2041.9 339M1847.1 317.6L1778 414.9M1777.9 415L1722.8 506.6" stroke="#efeff2" stroke-width="0.65" fill="none"/>
<path d="M1842.4 148.9L1860 163" stroke="#e6edcc" stroke-width="0.9" fill="none"/>
<ellipse cx="1842.4" cy="150.8" rx="9.2" ry="9.5" fill="#585858"/>
<ellipse cx="1842.4" cy="148" rx="9.1" ry="9.1" fill="url(#gG)" stroke="#555" stroke-width="0.9"/>
<ellipse cx="1842.4" cy="143.2" rx="6.3" ry="3.8" fill="url(#hl)"/>
<ellipse cx="1868" cy="192.5" rx="19.7" ry="17.7" fill="#585858"/>
<ellipse cx="1868" cy="189.7" rx="19.9" ry="17.3" fill="url(#gG)" stroke="#3f7a5e" stroke-width="0.9"/>
<polyline points="1859.5,196.9 1864.4,194.5 1866.9,194 1870.9,196.9 1869.7,192.2" fill="none" stroke="#3f6f4a" stroke-width="1.2" opacity="0.7"/>
<polyline points="1867.2,195.3 1867.6,198.3 1871,194.4 1871.8,189.7 1875.7,184.8" fill="none" stroke="#b07a30" stroke-width="1.2" opacity="0.7"/>
<ellipse cx="1868" cy="180.9" rx="13.4" ry="7.1" fill="url(#hl)"/>
<ellipse cx="1933.1" cy="233.4" rx="19.7" ry="17.7" fill="#585858"/>
<ellipse cx="1933.1" cy="230.6" rx="19.9" ry="17.3" fill="url(#gG)" stroke="#3f7a5e" stroke-width="0.9"/>
<polyline points="1931.8,234.4 1936.7,238.8 1939.8,237.3 1943.9,239.8 1950.6,244.1" fill="none" stroke="#2a7a6a" stroke-width="1.2" opacity="0.7"/>
<polyline points="1924.2,235.5 1928.7,233.5 1933.5,237.4 1940.4,237.4 1947.2,237.5" fill="none" stroke="#6a9a30" stroke-width="1.2" opacity="0.7"/>
<polyline points="1930.1,238.2 1935.8,238.3 1939.2,233.7 1939.3,236.6 1941.1,233.4" fill="none" stroke="#2a7a6a" stroke-width="1.2" opacity="0.7"/>
<polyline points="1931.9,229.8 1936,225.9 1935.4,229.3 1936.8,231.6 1939.1,229.7" fill="none" stroke="#a04838" stroke-width="1.2" opacity="0.7"/>
<polyline points="1927.7,230.7 1930.3,235.4 1935.3,235.8 1941.1,233.2 1943.8,237.6" fill="none" stroke="#6a9a30" stroke-width="1.2" opacity="0.7"/>
<polyline points="1931,235.3 1935.6,234.2 1941.4,238.6 1948,238.8 1947.1,241.5" fill="none" stroke="#b07a30" stroke-width="1.2" opacity="0.7"/>
<polyline points="1933.5,234.9 1933.3,234.9 1935.7,233.5 1936.9,233.9 1940.5,235" fill="none" stroke="#356a90" stroke-width="1.2" opacity="0.7"/>
<ellipse cx="1933.1" cy="221.8" rx="13.4" ry="7.1" fill="url(#hl)"/>
<ellipse cx="1791.7" cy="242.1" rx="19.7" ry="17.7" fill="#585858"/>
<ellipse cx="1791.7" cy="239.3" rx="19.9" ry="17.3" fill="url(#gG)" stroke="#3f7a5e" stroke-width="0.9"/>
<polyline points="1789.3,243.4 1788.9,239.3 1791.9,242.8 1798.4,238.2 1805,233.9" fill="none" stroke="#3f6f4a" stroke-width="1.2" opacity="0.7"/>
<polyline points="1790.8,240.2 1789.7,241.4 1790.8,237.2 1790.3,237.4 1789.8,235.2" fill="none" stroke="#6a9a30" stroke-width="1.2" opacity="0.7"/>
<polyline points="1787.6,238.8 1788.4,237.2 1793.7,234.8 1793.9,237.1 1800.8,241.7" fill="none" stroke="#356a90" stroke-width="1.2" opacity="0.7"/>
<polyline points="1781.8,239.1 1786.3,235.7 1790.7,237.5 1793.7,234.7 1800.5,237.7" fill="none" stroke="#2a7a6a" stroke-width="1.2" opacity="0.7"/>
<polyline points="1781.9,244.7 1787.2,246.3 1789.1,248.6 1788.2,245.8 1786.6,241.5" fill="none" stroke="#6a9a30" stroke-width="1.2" opacity="0.7"/>
<polyline points="1790.6,242 1790.9,237.1 1796.9,232.5 1802.3,237.1 1805.5,233.9" fill="none" stroke="#2a7a6a" stroke-width="1.2" opacity="0.7"/>
<polyline points="1789.1,237.9 1788.9,234 1792.1,237.9 1795.5,237.8 1802.1,236.7" fill="none" stroke="#a04838" stroke-width="1.2" opacity="0.7"/>
<ellipse cx="1791.7" cy="230.5" rx="13.4" ry="7.1" fill="url(#hl)"/>
<ellipse cx="1704.1" cy="252.2" rx="19.7" ry="17.7" fill="#585858"/>
<ellipse cx="1704.1" cy="249.4" rx="19.9" ry="17.3" fill="url(#gG)" stroke="#3f7a5e" stroke-width="0.9"/>
<polyline points="1704.6,257.2 1702.7,254.2 1703.7,259 1708.8,257.5 1708.7,259.2" fill="none" stroke="#6a9a30" stroke-width="1.2" opacity="0.7"/>
<polyline points="1705.1,256.5 1707.9,259.2 1710.8,254.9 1709.1,251.2 1708.6,251.6" fill="none" stroke="#a04838" stroke-width="1.2" opacity="0.7"/>
<polyline points="1704.2,251.6 1705.3,249.5 1711.2,250.5 1717.9,254.3 1717.1,254.9" fill="none" stroke="#2f6f58" stroke-width="1.2" opacity="0.7"/>
<polyline points="1698.6,258.2 1697.9,254.4 1696.9,255.3 1703.3,251.1 1706.3,251.8" fill="none" stroke="#6a9a30" stroke-width="1.2" opacity="0.7"/>
<polyline points="1700.8,257.5 1703,255.2 1708.1,258.5 1706.2,260.2 1705,256.4" fill="none" stroke="#356a90" stroke-width="1.2" opacity="0.7"/>
<polyline points="1703.5,253.9 1703,253.4 1707.2,250 1712.8,249.4 1719.6,252.4" fill="none" stroke="#a04838" stroke-width="1.2" opacity="0.7"/>
<polyline points="1697,252.7 1695.9,254.2 1694.3,249.4 1701.2,247.3 1704.6,246.9" fill="none" stroke="#6a9a30" stroke-width="1.2" opacity="0.7"/>
<ellipse cx="1704.1" cy="240.6" rx="13.4" ry="7.1" fill="url(#hl)"/>
<ellipse cx="1847.6" cy="319.9" rx="19.7" ry="17.7" fill="#585858"/>
<ellipse cx="1847.6" cy="317.1" rx="19.9" ry="17.3" fill="url(#gG)" stroke="#3f7a5e" stroke-width="0.9"/>
<polyline points="1849.3,325.6 1848.2,322.8 1851.9,327.6 1854.8,329.4 1858.8,327" fill="none" stroke="#356a90" stroke-width="1.2" opacity="0.7"/>
<polyline points="1841.8,324 1840.6,326.5 1839.4,327.3 1840.5,324.6 1847.3,320" fill="none" stroke="#a04838" stroke-width="1.2" opacity="0.7"/>
<polyline points="1848.3,318.6 1849.4,319 1852.6,319.9 1852.8,315.2 1853,311" fill="none" stroke="#2f6f58" stroke-width="1.2" opacity="0.7"/>
<polyline points="1837.7,315.5 1842.5,314.1 1844.8,317.6 1843.7,320.4 1844.7,320.5" fill="none" stroke="#356a90" stroke-width="1.2" opacity="0.7"/>
<polyline points="1849.4,324.1 1850.3,320.2 1853,324.3 1853.7,328.2 1852.9,332.3" fill="none" stroke="#a04838" stroke-width="1.2" opacity="0.7"/>
<polyline points="1847.2,325 1852.9,327.4 1857.2,324.2 1859.1,320.8 1863.6,322.5" fill="none" stroke="#b07a30" stroke-width="1.2" opacity="0.7"/>
<polyline points="1847.3,321.2 1850.2,324.6 1852.3,323.6 1853.4,321.2 1851.6,322.7" fill="none" stroke="#2f6f58" stroke-width="1.2" opacity="0.7"/>
<ellipse cx="1847.6" cy="308.3" rx="13.4" ry="7.1" fill="url(#hl)"/>
<ellipse cx="2030.2" cy="301.1" rx="19.7" ry="17.7" fill="#585858"/>
<ellipse cx="2030.2" cy="298.3" rx="19.9" ry="17.3" fill="url(#gG)" stroke="#3f7a5e" stroke-width="0.9"/>
<polyline points="2028.5,302.7 2031.9,299.1 2038.8,296.9 2041.9,293.7 2040.7,293.5" fill="none" stroke="#2a7a6a" stroke-width="1.2" opacity="0.7"/>
<polyline points="2031.3,306.4 2035.1,303.7 2035.9,305.5 2042.6,307.6 2043.7,308.7" fill="none" stroke="#2a7a6a" stroke-width="1.2" opacity="0.7"/>
<polyline points="2022.7,306.3 2027.7,307.8 2029,307.9 2034.2,304.9 2034.9,303" fill="none" stroke="#2a7a6a" stroke-width="1.2" opacity="0.7"/>
<polyline points="2029,302.9 2034.8,306.8 2041.6,307.5 2041.1,305 2041.1,305.7" fill="none" stroke="#2a7a6a" stroke-width="1.2" opacity="0.7"/>
<polyline points="2024.8,303.3 2026.3,306.7 2029.3,311.6 2032,307.6 2032.3,303.6" fill="none" stroke="#356a90" stroke-width="1.2" opacity="0.7"/>
<polyline points="2031.9,303.1 2038.7,304.9 2037.4,308.4 2037.5,311.9 2044.1,315.9" fill="none" stroke="#b07a30" stroke-width="1.2" opacity="0.7"/>
<polyline points="2021.6,306.2 2028.3,302.4 2031.8,301.5 2030.8,299.5 2031.1,302" fill="none" stroke="#b07a30" stroke-width="1.2" opacity="0.7"/>
<ellipse cx="2030.2" cy="289.5" rx="13.4" ry="7.1" fill="url(#hl)"/>
<ellipse cx="2042" cy="340.3" rx="19.7" ry="17.7" fill="#585858"/>
<ellipse cx="2042" cy="337.5" rx="19.9" ry="17.3" fill="url(#gG)" stroke="#3f7a5e" stroke-width="0.9"/>
<polyline points="2038.9,336.1 2045.8,333.5 2046.1,330.3 2045.4,327.3 2046.2,329.9" fill="none" stroke="#3f6f4a" stroke-width="1.2" opacity="0.7"/>
<polyline points="2041.7,346.1 2044.7,346 2050.4,348.6 2053.6,347.5 2054.2,343.6" fill="none" stroke="#2a7a6a" stroke-width="1.2" opacity="0.7"/>
<ellipse cx="2042" cy="328.7" rx="13.4" ry="7.1" fill="url(#hl)"/>
<ellipse cx="1941.5" cy="367.4" rx="19.7" ry="17.7" fill="#585858"/>
<ellipse cx="1941.5" cy="364.6" rx="19.9" ry="17.3" fill="url(#gG)" stroke="#3f7a5e" stroke-width="0.9"/>
<polyline points="1931.5,366 1935.6,368.2 1939.5,364 1940.9,367 1942.9,368.8" fill="none" stroke="#2f6f58" stroke-width="1.2" opacity="0.7"/>
<polyline points="1936.7,367.6 1937.5,366.6 1942.6,368.4 1945.1,369.9 1946.5,367" fill="none" stroke="#a04838" stroke-width="1.2" opacity="0.7"/>
<polyline points="1940.1,370.7 1944.8,367.7 1951.2,368.7 1953.9,373 1958.3,377.8" fill="none" stroke="#2a7a6a" stroke-width="1.2" opacity="0.7"/>
<polyline points="1937.8,366.7 1935.8,365.6 1937.7,364.6 1943.5,365.5 1948.2,369.4" fill="none" stroke="#2a7a6a" stroke-width="1.2" opacity="0.7"/>
<polyline points="1934.4,373.1 1935,368.4 1939.6,365 1944.6,363.9 1945.1,360.8" fill="none" stroke="#2f6f58" stroke-width="1.2" opacity="0.7"/>
<polyline points="1935.6,365.7 1940,369.4 1943,365.9 1948.6,365.8 1950.8,361.3" fill="none" stroke="#b07a30" stroke-width="1.2" opacity="0.7"/>
<polyline points="1932.2,363.6 1934.2,360.2 1938.7,356.9 1937.5,358.2 1938,356.3" fill="none" stroke="#6a9a30" stroke-width="1.2" opacity="0.7"/>
<ellipse cx="1941.5" cy="355.8" rx="13.4" ry="7.1" fill="url(#hl)"/>
<ellipse cx="1778.5" cy="417.2" rx="19.7" ry="17.7" fill="#585858"/>
<ellipse cx="1778.5" cy="414.4" rx="19.9" ry="17.3" fill="url(#gG)" stroke="#3f7a5e" stroke-width="0.9"/>
<polyline points="1771.6,413.4 1777.2,413.7 1778.5,413.8 1783.2,410.5 1787.2,412.6" fill="none" stroke="#a04838" stroke-width="1.2" opacity="0.7"/>
<polyline points="1777.4,416.8 1779,416.6 1779.3,417.7 1783.8,415.4 1787.4,412.8" fill="none" stroke="#3f6f4a" stroke-width="1.2" opacity="0.7"/>
<polyline points="1775.9,416 1777.8,418.6 1783,415.5 1786.7,412.2 1793.5,411.7" fill="none" stroke="#a04838" stroke-width="1.2" opacity="0.7"/>
<polyline points="1779.9,417.5 1779.3,420.3 1785.5,419.7 1786.3,418.7 1785.3,415.8" fill="none" stroke="#356a90" stroke-width="1.2" opacity="0.7"/>
<polyline points="1773.2,417.9 1772.1,414.8 1770.5,415.7 1776.6,412.9 1774.9,414.9" fill="none" stroke="#a04838" stroke-width="1.2" opacity="0.7"/>
<polyline points="1773.7,419.7 1774.2,420.8 1773.8,418 1773.9,417.6 1778.7,422.2" fill="none" stroke="#a04838" stroke-width="1.2" opacity="0.7"/>
<polyline points="1775.4,414.9 1779.9,413.2 1783.3,417.3 1790.4,412.8 1795.6,416.3" fill="none" stroke="#a04838" stroke-width="1.2" opacity="0.7"/>
<ellipse cx="1778.5" cy="405.6" rx="13.4" ry="7.1" fill="url(#hl)"/>
<ellipse cx="1723.4" cy="508.8" rx="19.7" ry="17.7" fill="#585858"/>
<ellipse cx="1723.4" cy="506" rx="19.9" ry="17.3" fill="url(#gG)" stroke="#3f7a5e" stroke-width="0.9"/>
<polyline points="1716.7,506.3 1716.2,509.5 1720.1,512.4 1718.3,511.3 1724.3,511.7" fill="none" stroke="#2f6f58" stroke-width="1.2" opacity="0.7"/>
<polyline points="1718.9,513.2 1725.1,508.6 1723.7,511.9 1722,509.7 1721.1,505.6" fill="none" stroke="#2a7a6a" stroke-width="1.2" opacity="0.7"/>
<ellipse cx="1723.4" cy="497.2" rx="13.4" ry="7.1" fill="url(#hl)"/>
<g font-family="'Liberation Sans', Arial, Helvetica, sans-serif" font-size="11.7" fill="#1c1c1c">
<text x="1886.8" y="176.3">Bcl6</text>
<text x="1951.6" y="217.2">Il7</text>
<text x="1810.1" y="225.8">Cxcl9</text>
<text x="1722.6" y="235.9">Cxcr1</text>
<text x="1866.3" y="303">Il17a</text>
<text x="2048.6" y="284.6">Il1rap</text>
<text x="2060.7" y="323.7">Fasl</text>
<text x="1960.2" y="351.1">Il22</text>
<text x="1796.9" y="400.9">Ptgs2</text>
<text x="1741.6" y="492.5">Cebpb</text>
<text x="1851" y="140.8" font-size="4.5">Bcl6</text>
<text x="1822" y="417.5" font-size="6">Ptgs2</text>
<text x="1882.5" y="162" font-size="2.5">Il7</text>
</g>
<text x="1881.3" y="451.3" font-family="'Liberation Sans', Arial, Helvetica, sans-serif" font-size="24" font-weight="normal" text-anchor="start" fill="#111">p-value= 2.4e-07</text>
<path d="M1979 576.4L1872.7 650.5M1979.1 576.3L1839.1 723.4M1979.3 575.9L1944.5 724.9M1978.5 575.7L2031.3 676M1978.5 575.7L1945.6 811.6M1872.2 649.8L2031.3 676M1872.5 649L2069.5 722.4M1873 650.2L1839.3 723.2M1872.8 649.2L1944.3 724.1M1873 649.4L1946.4 811.2M1872.2 649.8L1836.6 842.6M1677.9 678.6L1838.5 722.8M2031.5 676.8L1838.7 723.6M2031.3 676L1943.7 724.7M2031.3 676L2069.2 723.2M2031.3 676L2036.2 842.6M2031.3 676L1945.6 811.6M2031.3 676L1836.6 842.6M1838.5 722.8L1943.7 724.7M1838.5 722.8L2069.2 723.2M1839 722.1L1946.1 810.9M1839.3 722.8L1837.4 842.6M1838.9 722.1L2036.6 841.9M1943.7 724.7L2069.2 723.2M1944.5 724.7L1946.4 811.6M1944.4 724.2L2036.9 842.1M1943.7 724.7L1836.6 842.6M2069.7 723.9L1946.1 812.3M2069.2 723.2L2036.2 842.6M2069.2 723.2L1836.6 842.6M1946.3 814.1L1837.3 845.1M1946.4 809.2L2037 840.2M1948.1 811.6L1950 920.1M1948.1 811.4L1959.3 973.9M1838.1 840.5L1949 918M1838.5 840.9L1958.7 972.4M2037.9 844.5L1949.2 922M2038.7 842.5L2043.9 957.9M2038.4 843.9L1959 975.4M1948.5 917.7L2042.4 955.6M1950 919.7L1959.3 973.7M2041.9 960.5L1957.3 976.6" stroke="#d9e6bd" stroke-width="0.9" fill="none"/>
<path d="M1978 575L1871.7 649.1M1977.9 575.1L1837.9 722.2M1977.7 575.5L1942.9 724.5M1871.9 650.6L2068.9 724M1871.4 649.4L1837.7 722.4M1871.6 650.4L1943.1 725.3M1871.4 650.2L1944.8 812M2031.1 675.2L1838.3 722M1838 723.5L1945.1 812.3M1837.7 722.8L1835.8 842.6M1838.1 723.5L2035.8 843.3M1942.9 724.7L1944.8 811.6M1943 725.2L2035.5 843.1M2068.7 722.5L1945.1 810.9M1945.4 810.8L1836.4 841.8M1945.3 812.4L2035.9 843.4M1944.8 811.6L1946.7 920.1M1944.8 811.7L1956 974.2M1836.1 843.3L1947 920.8M1836 843.2L1956.2 974.7M2035.6 842L1946.9 919.5M2035.4 842.6L2040.6 958M2035.5 842.2L1956.1 973.7M1947.2 920.9L2041.1 958.8M1946.7 920.2L1956 974.2M2041.2 957.2L1956.6 973.3" stroke="#8e8e96" stroke-width="0.9" fill="none"/>
<path d="M1945.8 812.4L1836.8 843.4M1945.9 810.8L2036.5 841.8M1946.4 811.6L1948.3 920.1M1946.4 811.5L1957.6 974M1837.1 841.9L1948 919.4M1837.2 842L1957.4 973.5M2036.8 843.2L1948.1 920.7M2037 842.6L2042.2 958M2036.9 843L1957.5 974.5M1947.8 919.3L2041.7 957.2M1948.3 920L1957.6 974M2041.6 958.8L1957 974.9" stroke="#cdbbe2" stroke-width="0.9" fill="none"/>
<path d="M1944.9 809.1L1835.9 840.1M1944.8 814L2035.4 845M1943.1 811.6L1945 920.1M1943.1 811.8L1954.3 974.3M1835.1 844.7L1946 922.2M1834.7 844.3L1954.9 975.8M2034.5 840.7L1945.8 918.2M2033.7 842.7L2038.9 958.1M2034 841.3L1954.6 972.8M1946.5 922.5L2040.4 960.4M1945 920.5L1954.3 974.5M2040.9 955.5L1956.3 971.6" stroke="#b8deeb" stroke-width="0.9" fill="none"/>
<ellipse cx="1978.5" cy="577.6" rx="19.7" ry="17.7" fill="#585858"/>
<ellipse cx="1978.5" cy="574.8" rx="19.9" ry="17.3" fill="url(#gP)" stroke="#4a4a78" stroke-width="0.9"/>
<polyline points="1980,583.1 1978.5,579 1984.1,581.3 1988.2,579.4 1991.7,580.5" fill="none" stroke="#b03060" stroke-width="1.2" opacity="0.7"/>
<polyline points="1976.1,581.6 1982,581.7 1983.3,586 1985.9,589.9 1991.8,588.6" fill="none" stroke="#b03060" stroke-width="1.2" opacity="0.7"/>
<ellipse cx="1978.5" cy="566" rx="13.4" ry="7.1" fill="url(#hl)"/>
<ellipse cx="1872.2" cy="651.7" rx="19.7" ry="17.7" fill="#585858"/>
<ellipse cx="1872.2" cy="648.9" rx="19.9" ry="17.3" fill="url(#gP)" stroke="#4a4a78" stroke-width="0.9"/>
<ellipse cx="1872.2" cy="640.1" rx="13.4" ry="7.1" fill="url(#hl)"/>
<ellipse cx="1677.9" cy="680.5" rx="19.7" ry="17.7" fill="#585858"/>
<ellipse cx="1677.9" cy="677.7" rx="19.9" ry="17.3" fill="url(#gP)" stroke="#4a4a78" stroke-width="0.9"/>
<polyline points="1678.6,681.5 1681.7,678.9 1679.9,677.2 1679.1,677.3 1686.2,679" fill="none" stroke="#b03060" stroke-width="1.2" opacity="0.7"/>
<polyline points="1676.7,685.6 1681.6,688.4 1682.8,693.2 1689.6,689.8 1694.5,692" fill="none" stroke="#b03060" stroke-width="1.2" opacity="0.7"/>
<polyline points="1671.1,681.2 1673.8,684.2 1677.8,683.7 1684.1,682.2 1688.7,682.8" fill="none" stroke="#2f7fb0" stroke-width="1.2" opacity="0.7"/>
<polyline points="1677.7,684.8 1683.7,685.9 1688.7,685.7 1689.4,688.7 1695,689.3" fill="none" stroke="#b03060" stroke-width="1.2" opacity="0.7"/>
<polyline points="1671.5,678.2 1674.2,682.4 1677.9,678.2 1683.3,680.5 1689.6,677.4" fill="none" stroke="#8a50b8" stroke-width="1.2" opacity="0.7"/>
<polyline points="1668.3,682.2 1672.6,686.3 1677.4,682.7 1677.8,686 1684.4,681.6" fill="none" stroke="#7040a8" stroke-width="1.2" opacity="0.7"/>
<ellipse cx="1677.9" cy="668.9" rx="13.4" ry="7.1" fill="url(#hl)"/>
<ellipse cx="2031.3" cy="677.9" rx="19.7" ry="17.7" fill="#585858"/>
<ellipse cx="2031.3" cy="675.1" rx="19.9" ry="17.3" fill="url(#gP)" stroke="#4a4a78" stroke-width="0.9"/>
<ellipse cx="2031.3" cy="666.3" rx="13.4" ry="7.1" fill="url(#hl)"/>
<ellipse cx="1838.5" cy="724.7" rx="19.7" ry="17.7" fill="#585858"/>
<ellipse cx="1838.5" cy="721.9" rx="19.9" ry="17.3" fill="url(#gP)" stroke="#4a4a78" stroke-width="0.9"/>
<polyline points="1832.8,722 1836.9,717.8 1843.6,713.2 1848.2,708.4 1848.5,711.5" fill="none" stroke="#8a50b8" stroke-width="1.2" opacity="0.7"/>
<polyline points="1828.4,726.4 1833.6,723.9 1840.4,719 1847,720.3 1851.8,718.1" fill="none" stroke="#2f9a80" stroke-width="1.2" opacity="0.7"/>
<polyline points="1837.7,728 1843.9,730.5 1849.7,732.6 1852,729.8 1856,728" fill="none" stroke="#5a3a98" stroke-width="1.2" opacity="0.7"/>
<polyline points="1834.7,728.4 1837.1,726.7 1843,725.2 1843.4,729.8 1847.3,731.8" fill="none" stroke="#2f7fb0" stroke-width="1.2" opacity="0.7"/>
<polyline points="1828.8,721.9 1827.6,723.2 1830.2,728 1836.7,732.9 1836.8,732.3" fill="none" stroke="#2f9a80" stroke-width="1.2" opacity="0.7"/>
<polyline points="1838,726.8 1839.2,728.6 1839.8,731.1 1839.1,729.9 1838.5,730" fill="none" stroke="#7040a8" stroke-width="1.2" opacity="0.7"/>
<ellipse cx="1838.5" cy="713.1" rx="13.4" ry="7.1" fill="url(#hl)"/>
<ellipse cx="1943.7" cy="726.6" rx="19.7" ry="17.7" fill="#585858"/>
<ellipse cx="1943.7" cy="723.8" rx="19.9" ry="17.3" fill="url(#gP)" stroke="#4a4a78" stroke-width="0.9"/>
<polyline points="1935.8,724.5 1935.7,724.7 1937.9,722.8 1941.8,720 1948,724.6" fill="none" stroke="#2f9a80" stroke-width="1.2" opacity="0.7"/>
<polyline points="1933.8,728.3 1939.8,732.6 1943.1,736.7 1947.1,736.5 1945.3,741.1" fill="none" stroke="#8a50b8" stroke-width="1.2" opacity="0.7"/>
<polyline points="1945.5,726 1943.7,727.8 1942.6,725.9 1948.2,727.6 1946.3,727.1" fill="none" stroke="#5a3a98" stroke-width="1.2" opacity="0.7"/>
<polyline points="1944.4,728.6 1942.4,723.8 1943.2,726.1 1943.1,726 1942.2,724.7" fill="none" stroke="#2f7fb0" stroke-width="1.2" opacity="0.7"/>
<polyline points="1938.4,723.3 1937.4,719.2 1943.2,720.6 1949.9,722.5 1948.1,724.1" fill="none" stroke="#b03060" stroke-width="1.2" opacity="0.7"/>
<polyline points="1937.1,732.2 1936.4,731 1938.7,734.6 1943.3,736.9 1945.1,736.8" fill="none" stroke="#5a3a98" stroke-width="1.2" opacity="0.7"/>
<ellipse cx="1943.7" cy="715" rx="13.4" ry="7.1" fill="url(#hl)"/>
<ellipse cx="2069.2" cy="725.1" rx="19.7" ry="17.7" fill="#585858"/>
<ellipse cx="2069.2" cy="722.3" rx="19.9" ry="17.3" fill="url(#gP)" stroke="#4a4a78" stroke-width="0.9"/>
<polyline points="2065,723.3 2066.9,725.1 2073.2,725.9 2078.7,721.9 2079.9,726.8" fill="none" stroke="#7040a8" stroke-width="1.2" opacity="0.7"/>
<polyline points="2068.8,730.2 2073,733.3 2071.3,738 2072.8,740 2078.9,738.3" fill="none" stroke="#5a3a98" stroke-width="1.2" opacity="0.7"/>
<polyline points="2065.6,730.6 2070.5,726.6 2073.2,728.8 2073.5,732.7 2075.7,734.7" fill="none" stroke="#2f9a80" stroke-width="1.2" opacity="0.7"/>
<polyline points="2067.9,725.5 2072.5,728.6 2073.9,730.9 2075.5,726.5 2076,724" fill="none" stroke="#8a50b8" stroke-width="1.2" opacity="0.7"/>
<polyline points="2064.8,730.7 2065.8,733.2 2069.8,735.8 2075.5,733 2079.2,732.1" fill="none" stroke="#8a50b8" stroke-width="1.2" opacity="0.7"/>
<polyline points="2070.2,723.9 2072.9,727.9 2075.2,724.7 2074,723.7 2074,724.4" fill="none" stroke="#7040a8" stroke-width="1.2" opacity="0.7"/>
<ellipse cx="2069.2" cy="713.5" rx="13.4" ry="7.1" fill="url(#hl)"/>
<ellipse cx="1945.6" cy="813.5" rx="19.7" ry="17.7" fill="#585858"/>
<ellipse cx="1945.6" cy="810.7" rx="19.9" ry="17.3" fill="url(#gP)" stroke="#4a4a78" stroke-width="0.9"/>
<polyline points="1940.2,814.9 1945.5,812.6 1951.9,813.4 1954.3,814.5 1952.4,816.3" fill="none" stroke="#5a3a98" stroke-width="1.2" opacity="0.7"/>
<polyline points="1941.1,811.1 1947.9,806.9 1945.9,806.8 1951.6,808.3 1956.4,808.2" fill="none" stroke="#2f7fb0" stroke-width="1.2" opacity="0.7"/>
<polyline points="1946.1,813.8 1953.1,815 1954.3,817.5 1960.8,822.4 1961.1,823.7" fill="none" stroke="#7040a8" stroke-width="1.2" opacity="0.7"/>
<polyline points="1937.4,813 1939.6,811 1937.7,811.5 1944.5,810.2 1947.4,809" fill="none" stroke="#2f7fb0" stroke-width="1.2" opacity="0.7"/>
<polyline points="1941.5,810.4 1945.8,812.5 1946.5,810.1 1947.4,808.4 1954,806.6" fill="none" stroke="#7040a8" stroke-width="1.2" opacity="0.7"/>
<polyline points="1941.6,811.2 1945.1,814.6 1944.4,814.7 1943.2,810.1 1949.8,810.7" fill="none" stroke="#7040a8" stroke-width="1.2" opacity="0.7"/>
<ellipse cx="1945.6" cy="801.9" rx="13.4" ry="7.1" fill="url(#hl)"/>
<ellipse cx="1836.6" cy="844.5" rx="19.7" ry="17.7" fill="#585858"/>
<ellipse cx="1836.6" cy="841.7" rx="19.9" ry="17.3" fill="url(#gP)" stroke="#4a4a78" stroke-width="0.9"/>
<polyline points="1827.8,848.6 1829.2,847.3 1830.1,843.1 1832.3,839.8 1834.3,837.8" fill="none" stroke="#b03060" stroke-width="1.2" opacity="0.7"/>
<polyline points="1838.5,842.2 1839,838.9 1845.1,838.6 1849.9,842 1849.6,838.4" fill="none" stroke="#2f9a80" stroke-width="1.2" opacity="0.7"/>
<polyline points="1834.2,844.2 1839.7,842.6 1845.6,846.8 1848.2,848.7 1854.8,851.1" fill="none" stroke="#8a50b8" stroke-width="1.2" opacity="0.7"/>
<polyline points="1835.6,850.3 1836.3,851.5 1840.4,850.2 1841.9,847 1848.7,845.6" fill="none" stroke="#5a3a98" stroke-width="1.2" opacity="0.7"/>
<polyline points="1830.3,844 1837.1,840.1 1836.6,835.9 1842.6,838.2 1846.5,833.3" fill="none" stroke="#2f9a80" stroke-width="1.2" opacity="0.7"/>
<polyline points="1831.2,843 1835,839.5 1835.9,843.7 1834.7,840.2 1834.5,837.7" fill="none" stroke="#2f7fb0" stroke-width="1.2" opacity="0.7"/>
<ellipse cx="1836.6" cy="832.9" rx="13.4" ry="7.1" fill="url(#hl)"/>
<ellipse cx="2036.2" cy="844.5" rx="19.7" ry="17.7" fill="#585858"/>
<ellipse cx="2036.2" cy="841.7" rx="19.9" ry="17.3" fill="url(#gP)" stroke="#4a4a78" stroke-width="0.9"/>
<polyline points="2028.3,847.4 2033,843 2039.5,844.4 2043.1,848 2042.7,843.7" fill="none" stroke="#2f7fb0" stroke-width="1.2" opacity="0.7"/>
<polyline points="2032.4,848.9 2033.5,851.6 2037,850.5 2044.1,849.5 2046.4,850.6" fill="none" stroke="#2f9a80" stroke-width="1.2" opacity="0.7"/>
<polyline points="2027.2,845.4 2031.2,845.3 2032.8,847.2 2032.3,846.1 2034.5,849.8" fill="none" stroke="#7040a8" stroke-width="1.2" opacity="0.7"/>
<polyline points="2037.5,847.2 2043.8,843 2044.6,845.9 2042.6,842 2043.8,838.8" fill="none" stroke="#7040a8" stroke-width="1.2" opacity="0.7"/>
<polyline points="2030.1,848.6 2032.4,852.2 2034.7,847.9 2033.9,843.2 2038.2,843.6" fill="none" stroke="#7040a8" stroke-width="1.2" opacity="0.7"/>
<polyline points="2036.1,845.5 2040.3,849.2 2039.5,849.1 2038.7,845.3 2037.6,842.5" fill="none" stroke="#b03060" stroke-width="1.2" opacity="0.7"/>
<ellipse cx="2036.2" cy="832.9" rx="13.4" ry="7.1" fill="url(#hl)"/>
<ellipse cx="1792.1" cy="928.8" rx="19.7" ry="17.7" fill="#585858"/>
<ellipse cx="1792.1" cy="926" rx="19.9" ry="17.3" fill="url(#gP)" stroke="#4a4a78" stroke-width="0.9"/>
<polyline points="1786.1,931.1 1787.6,935.4 1790.4,938.2 1794.5,938.3 1800.1,934.9" fill="none" stroke="#5a3a98" stroke-width="1.2" opacity="0.7"/>
<polyline points="1785.6,928.8 1787.4,927.8 1792.7,930.9 1795.8,930.6 1796.4,933.2" fill="none" stroke="#8a50b8" stroke-width="1.2" opacity="0.7"/>
<ellipse cx="1792.1" cy="917.2" rx="13.4" ry="7.1" fill="url(#hl)"/>
<ellipse cx="1947.5" cy="922" rx="19.7" ry="17.7" fill="#585858"/>
<ellipse cx="1947.5" cy="919.2" rx="19.9" ry="17.3" fill="url(#gP)" stroke="#4a4a78" stroke-width="0.9"/>
<polyline points="1939,923.2 1937.9,924.3 1942.8,921.4 1944.3,916.9 1943.6,912.1" fill="none" stroke="#2f9a80" stroke-width="1.2" opacity="0.7"/>
<polyline points="1937.9,925.6 1943.4,929 1946.9,924.4 1946.6,920.5 1950.4,920.9" fill="none" stroke="#8a50b8" stroke-width="1.2" opacity="0.7"/>
<polyline points="1948.3,922.4 1948.9,919.5 1954.4,921.5 1954.9,925.5 1958.1,924.6" fill="none" stroke="#b03060" stroke-width="1.2" opacity="0.7"/>
<polyline points="1941,926.6 1944.8,928.9 1951.4,924.1 1953.1,921.8 1957.8,922.7" fill="none" stroke="#b03060" stroke-width="1.2" opacity="0.7"/>
<polyline points="1946.8,924.8 1951.9,924.3 1954,922.8 1956.3,920.3 1956,920.1" fill="none" stroke="#2f9a80" stroke-width="1.2" opacity="0.7"/>
<polyline points="1941.5,918.2 1942.8,919.4 1945.1,922.1 1949,922.9 1948.2,927.2" fill="none" stroke="#2f7fb0" stroke-width="1.2" opacity="0.7"/>
<ellipse cx="1947.5" cy="910.4" rx="13.4" ry="7.1" fill="url(#hl)"/>
<ellipse cx="2041.4" cy="959.9" rx="19.7" ry="17.7" fill="#585858"/>
<ellipse cx="2041.4" cy="957.1" rx="19.9" ry="17.3" fill="url(#gP)" stroke="#4a4a78" stroke-width="0.9"/>
<polyline points="2032.4,963.7 2030.7,968.6 2029.2,968.9 2034.4,970.5 2039.9,966.3" fill="none" stroke="#2f7fb0" stroke-width="1.2" opacity="0.7"/>
<polyline points="2038.3,956.7 2037.7,957.8 2039.1,953.5 2042.4,957.6 2046.3,957.6" fill="none" stroke="#5a3a98" stroke-width="1.2" opacity="0.7"/>
<polyline points="2038.1,964.3 2043.9,961.6 2047.5,965.8 2048.6,967 2050.1,966.1" fill="none" stroke="#2f7fb0" stroke-width="1.2" opacity="0.7"/>
<polyline points="2039.4,956.8 2043,955.7 2045,960.4 2046.5,960.1 2047.9,957.3" fill="none" stroke="#7040a8" stroke-width="1.2" opacity="0.7"/>
<polyline points="2038.6,961.1 2036.6,960 2038.5,957.3 2039,956 2040.2,960.4" fill="none" stroke="#b03060" stroke-width="1.2" opacity="0.7"/>
<polyline points="2040.2,957.7 2038.4,957.5 2037.5,953.9 2038.5,954.3 2042,955.8" fill="none" stroke="#2f9a80" stroke-width="1.2" opacity="0.7"/>
<ellipse cx="2041.4" cy="948.3" rx="13.4" ry="7.1" fill="url(#hl)"/>
<ellipse cx="1956.8" cy="976" rx="19.7" ry="17.7" fill="#585858"/>
<ellipse cx="1956.8" cy="973.2" rx="19.9" ry="17.3" fill="url(#gP)" stroke="#4a4a78" stroke-width="0.9"/>
<polyline points="1953.2,978.6 1952.5,980.7 1950.7,980.8 1951.2,976.3 1954.2,978.9" fill="none" stroke="#2f7fb0" stroke-width="1.2" opacity="0.7"/>
<polyline points="1948,979.8 1949.2,984.2 1953,987.2 1959.2,987.3 1966,982.6" fill="none" stroke="#7040a8" stroke-width="1.2" opacity="0.7"/>
<polyline points="1950.9,981.8 1953.8,977.3 1957.8,979.2 1960.4,981.9 1962.3,979.3" fill="none" stroke="#7040a8" stroke-width="1.2" opacity="0.7"/>
<polyline points="1953.9,981.7 1959.4,983.4 1960.1,987.4 1958.4,984.9 1963.6,988.8" fill="none" stroke="#7040a8" stroke-width="1.2" opacity="0.7"/>
<polyline points="1958,981.1 1958.2,981.6 1957.1,983.5 1955.8,987 1959.1,984.3" fill="none" stroke="#b03060" stroke-width="1.2" opacity="0.7"/>
<polyline points="1951.9,979.7 1951.2,976.1 1955.9,971.7 1962.6,968.5 1968.1,972.9" fill="none" stroke="#8a50b8" stroke-width="1.2" opacity="0.7"/>
<ellipse cx="1956.8" cy="964.4" rx="13.4" ry="7.1" fill="url(#hl)"/>
<g font-family="'Liberation Sans', Arial, Helvetica, sans-serif" font-size="12" fill="#1c1c1c">
<text x="1997.6" y="566.7">Sele</text>
<text x="1891.3" y="635.2">Cd40</text>
<text x="1696.6" y="663.6">Nr3c1</text>
<text x="2050" y="661.1">Il9</text>
<text x="1857.6" y="707.5">Ifng</text>
<text x="1962.4" y="709">Il5</text>
<text x="2087.9" y="708.2">Il18</text>
<text x="1964.3" y="796.2">Ccl11</text>
<text x="1855" y="827.3">Ccl17</text>
<text x="2054.9" y="827.3">Ccl20</text>
<text x="1811.2" y="911.9">Tollip</text>
<text x="1966.6" y="905.1">Ccr4</text>
<text x="2060.2" y="943">Ackr3</text>
<text x="1975.5" y="959.1">Ccl25</text>
</g>
<text x="1696.2" y="1008.1" font-family="'Liberation Sans', Arial, Helvetica, sans-serif" font-size="24.4" font-weight="normal" text-anchor="start" fill="#111">p-value&lt; 1.0e-16</text>
<path d="M1907.2 1060.7L1542.8 1280M1908 1062L1963.1 1566.2M1672.4 1205.7L1612.2 1255.2M1612.2 1255.2L2196.3 1426.7M1672.7 1264.5L1543.5 1280.8M1602.9 1463.3L1755.9 1718" stroke="#cdeaf2" stroke-width="0.65" fill="none"/>
<path d="M1908.3 1062.4L1543.9 1281.7M1974.7 1124.8L1720.4 1687.8M1657.1 1154L1773.3 1184.3M1657.7 1152.6L1946.1 1330.4M1772.1 1183.6L1782.4 1231.2M1775.1 1183.8L1726.6 1321.5M1772.6 1183.1L1710.1 1524M1774.5 1182.7L2014.3 1547.4M1858.6 1202.5L1543.7 1281.8M1673.1 1206.5L1612.9 1256M1673.4 1205.4L1738.2 1440M1672.9 1205.8L1602.9 1463.7M1782.9 1229.7L1590.2 1390.1M1877.7 1234.6L1591.2 1391.3M2032.4 1229L2197.5 1425.7M2031.2 1230L1602.4 1463.6M1672.3 1264.9L1656.9 1369.2M1544 1280.3L1890.7 1406.6M1726.6 1321.3L1660.3 1637.5M1961.3 1396L1658.5 1636.8M1990.6 1425L2196.3 1427.7M2196.1 1426.2L2097.2 1465.4M2196.1 1425.7L1808.9 1486.4M2195.8 1425.8L1962.6 1565.3M1887.6 1494L1658.5 1636.8M2123.3 1506.8L1707.5 1576.8M2123.8 1508.9L1783.6 1612M2083.8 1537.6L2040 1600.1M1963.1 1566.2L1720.9 1688M1707.9 1577.4L1940.8 1608.6M2039.7 1600.3L1721 1688.5" stroke="#e0d2ec" stroke-width="0.65" fill="none"/>
<path d="M1908.8 1063.3L1544.4 1282.6M1908.5 1061.8L2001.8 1346.4M1907 1062.1L1962.1 1566.3M1850.5 1104.6L2001.7 1346.3M1975.2 1125L2097.4 1465.9M1975.2 1125L1858.5 1590.5M1975.7 1125.2L1721.4 1688.2M1657.7 1152L1773.9 1182.3M1657.1 1153.4L1945.5 1331.2M1657 1152.7L1479.3 1382.1M1772.7 1183.9L2012.5 1548.6M1671.7 1204.9L1611.5 1254.4M1671.9 1205.7L1679.5 1355M1671.9 1205.6L1601.9 1463.5M1783.9 1230.9L1479.7 1382.4M1783.6 1230.5L1590.9 1390.9M1611.9 1256.2L2196 1427.7M1672.9 1265.5L1543.7 1281.8M1671.2 1264.8L1655.8 1369.1M1673.2 1264.7L1946.2 1703.6M1543.6 1281.3L1591.2 1391.3M1777.8 1338.7L1754.9 1718.3M1680.4 1356L1591.6 1392.3M1680 1355L1601.4 1589.6M1961.9 1396.8L1659.1 1637.6M1961.6 1396.4L1720.9 1688M2196.3 1426.7L1963.1 1566.2M1787.6 1446.9L1659.7 1637.8M2045.4 1457.1L1601.6 1590.1M2097.3 1465.4L1707.7 1577.9M1603.4 1463.3L1659.8 1636.9M1601.9 1463.9L1754.9 1718.6M1887 1493.9L1754.5 1717.8M2123.4 1507.9L1783.2 1611M1783.1 1612L1945.5 1704.4" stroke="#dcebc2" stroke-width="0.65" fill="none"/>
<path d="M1849.6 1105.2L2044.7 1456.9M1975.7 1125.1L1916.9 1453.9M1656.6 1154.3L1945 1332.1M1656.7 1153.7L1992.2 1485.3M1775.1 1183L1785.4 1230.6M1772.1 1182.8L1723.6 1320.5M1773.1 1183.2L1745.6 1381.9M1773.6 1183.3L2013.4 1548M1774.1 1183.1L1963.6 1566M1856.6 1202.9L1991 1485.5M1782.9 1230.8L1777.3 1338.6M1783.1 1230.2L1656.6 1368.6M1784.9 1232.1L1592.2 1392.5M1784.4 1230L2196.8 1425.8M1783.9 1230.9L1786.7 1446.3M1783.4 1230.9L1782.9 1611.5M1877.7 1234.6L1658.8 1637.2M2030.7 1229.8L1961.1 1396.2M2030 1231L2195.1 1427.7M2031.7 1230.9L1602.9 1464.5M2029.8 1229.4L1898.2 1526.4M1674.4 1265.2L1659 1369.5M1671.8 1266.2L1915.4 1455M1672.3 1265.9L2123.1 1509.3M1986.9 1274.2L1745.7 1381M1986.5 1274.6L1889.5 1407M2086.3 1278.1L1746.6 1383.5M2084.2 1275.2L1886.3 1493M1724.6 1321.9L1992.4 1485.5M1725.9 1320.3L1900.4 1526.3M1724.6 1320.9L1658.3 1637.1M1776.8 1339.2L1857 1591M1830.1 1338.2L1962.2 1566.7M1945.8 1330.8L1916.4 1453.8M1945.4 1330.5L1808.7 1487.1M2000.5 1345.9L1915.6 1453.1M1891.2 1355.9L1680 1355M1890.2 1355.8L1857.5 1590.4M1889.7 1355.3L1781.9 1610.9M1891.7 1355.8L1946.3 1703.8M1679.6 1354L1590.8 1390.3M1679 1354.7L1600.4 1589.3M1657.4 1369.3L1887.9 1494.4M1658 1368.4L1900.2 1526.1M1657.6 1368.8L2013.6 1547.5M1657 1369.6L1945.4 1704.2M1746.5 1381L1916.8 1452.8M1746 1382.5L2097.3 1466.4M1746.6 1382.1L1708.3 1578.5M2044.6 1382.8L1737.1 1439.8M1961.1 1395.5L1808.6 1486.5M1891.2 1406.3L1993.8 1483.3M1990.6 1424L2196.3 1426.7M1990.6 1424L1916.4 1453.8M2094.4 1418.4L1941.9 1610.6M2196.3 1426.7L1809.1 1487.4M1736.5 1441.7L1898.9 1528.4M1737.2 1440.3L1858.5 1590.5M1786.7 1446.3L1658.8 1637.2M1844.9 1439.3L1602.3 1462.6M1844.6 1440L1808.7 1487.1M1845.3 1439.9L2013.7 1547.6M1916 1453.5L1887.5 1494.1M2045.3 1457.1L1809.2 1487.9M2045.3 1457.6L1562.8 1511.2M2045 1456.1L1601.2 1589.1M1602.4 1463.6L1658.8 1637.2M1888.8 1494.9L1756.3 1718.8M2123.5 1507.9L1707.7 1577.9M1710.9 1524.7L1858.3 1591M2013.5 1549L1601.5 1590.6M1962.9 1565.2L1858.3 1589.5M1964 1566.7L1941.6 1610.1M1962.6 1565.3L1720.4 1687.1M1707.7 1579.4L1940.6 1610.6M2040 1601.3L1721.3 1689.5" stroke="#9cd6e8" stroke-width="0.65" fill="none"/>
<path d="M1775.2 1183.3L1779.9 1338.7M1772 1183.1L1735.6 1440.1M1774.1 1183.3L1787.2 1446.3M1773.6 1183.3L1916.4 1453.8M1773.2 1183.7L2044.8 1457M1774.6 1182.9L1888.9 1494M1859.5 1201.8L1892.2 1355.7M1858.5 1202L1992.9 1484.6M1783.9 1230.9L1778.3 1338.7M1879.3 1234.4L1892.8 1355.7M1878.2 1235.5L1680.5 1355.9M2031.7 1230.2L1962.1 1396.6M2030.8 1229.7L1889.9 1407.3M2032.2 1230.2L1964.1 1566.4M1987.3 1275.2L1831 1337.7M1986.8 1275.4L2044.2 1383.5M1988.1 1275.8L1891.1 1408.2M1985.8 1274.6L1914.9 1453.2M1987.3 1275.2L1992.9 1484.6M1988.8 1275.7L1901.1 1527.5M2085.6 1275.6L1830.8 1336.7M2085.3 1275.1L1745.6 1380.5M2087.4 1278L1889.5 1495.8M1725.4 1319.5L2045 1381.8M1725 1321.5L2093.1 1417.9M1778.7 1337.7L1991 1423M1777.7 1339.6L1992.3 1485.5M1778.5 1338.2L2123.8 1507.9M1831.1 1338.7L1680.1 1356M1830.8 1338.7L2196.1 1427.7M1831.8 1338.4L1738 1441M1945.7 1330.3L1657.3 1368.8M1945.4 1329.8L1602 1462.6M1945.1 1331.5L2122.9 1509.1M1945.3 1330.8L1940.2 1609.6M2002.9 1346.5L2015 1547.9M2000.9 1346.3L1783 1611.2M1892.5 1355.1L2014.7 1547.2M1679.4 1355.9L1887.3 1495.3M1679.5 1355.9L2012.9 1548.9M1658.1 1367.9L2014.1 1546.6M1746.1 1382L1916.4 1453.8M1746.1 1382L1992.9 1484.6M2044.9 1384.3L1961.8 1397.4M1890 1407.2L1710.8 1523.8M2093.5 1417.8L1783.7 1611.9M2196.3 1426.7L1845 1440.3M1737.7 1440.5L1711.6 1524.4M1737.9 1438.9L1900.3 1525.6M1844.3 1439.6L1707.1 1577.7M1916.5 1452.2L2097.5 1464.3M1917.7 1454.7L1889.2 1495.3M2045.2 1456.6L2097.4 1465.9M2045.8 1455.7L2124.2 1507.5M2045 1456.1L1707.6 1577.9M1809.2 1486.4L1888 1493.4M1711.1 1525.2L2083.4 1538.3M1707.9 1576.8L1858.6 1588.9" stroke="#c3a8dc" stroke-width="0.65" fill="none"/>
<path d="M1908.5 1062.2L1778.8 1338.9M1850.1 1104.9L1657.4 1369.3M1850.6 1104.6L2045.7 1456.3M1850.1 1104.9L2083.4 1537.3M1974.7 1124.8L1889.8 1407.4M1974.7 1124.9L1915.9 1453.7M1657.4 1153L1992.9 1484.6M1773.7 1183.8L1672.5 1206.2M1774.1 1183.2L1784.4 1230.8M1773.1 1183.1L1724.6 1320.8M1774.6 1183.5L1712.1 1524.4M1773.1 1183.5L1962.6 1566.4M1858.3 1201.5L1672.6 1264.5M1858.4 1201.5L1543.5 1280.8M1858.9 1202.3L1601.8 1589.9M1672.3 1206.2L2108.1 1298.6M1671.4 1206L1736.2 1440.6M1783.4 1231.8L2195.8 1427.6M1878.2 1235.5L1591.7 1392.2M1877.3 1234.3L1601 1589.3M1878.6 1235.1L1659.7 1637.7M2030.8 1230.3L2195.9 1427M2030.7 1229.1L1601.9 1462.7M2031.2 1230L1707.8 1578.4M1612.2 1255.2L1725.1 1321M1612.2 1255.2L1711.1 1524.2M1612.7 1255.1L1708.3 1578.3M1673.3 1264.1L2124.1 1507.5M1543.6 1281.3L1680 1355M1543.6 1281.3L1890.3 1407.6M1543.4 1281.8L1990.4 1424.5M1543.8 1280.8L1845.2 1439.8M2108.7 1298.1L2124.1 1508.4M2107.7 1298L2039.1 1599.7M2108.7 1298.3L1946.3 1704.1M1725.6 1321.1L1659.3 1637.3M1778.4 1339.2L1479.8 1382.9M1891.2 1355.9L1601.4 1589.6M1891.2 1355.9L1755.4 1718.3M1890.7 1356L1945.3 1704M1657.4 1369.3L1602.4 1463.6M1657.8 1369L1946.2 1703.6M2044.7 1383.3L1945.8 1703.9M1990.6 1423L2196.3 1425.7M2093.4 1417.9L1659 1637.7M2196.5 1427.2L2097.6 1466.4M2196.5 1427.7L1809.3 1488.4M2196.3 1426.7L1711.1 1524.2M2045.2 1456.6L1562.7 1510.2M1602.4 1463.6L2013.4 1548M1888.2 1494.8L1659.1 1637.6M2123.7 1508.9L1707.9 1578.9M2083.6 1537.8L1940.9 1610.1M2083 1537L2039.2 1599.5M2013.3 1547L1601.3 1588.6M1963.1 1565.7L1601.4 1589.1M1963.6 1567.1L1721.4 1688.9M1707.8 1578.4L1940.7 1609.6M2039.5 1599.3L1720.8 1687.5" stroke="#bdd78c" stroke-width="0.65" fill="none"/>
<path d="M1773.1 1183.3L1777.8 1338.7M1774.1 1183.4L1746.6 1382.1M1773.6 1183.3L1961.6 1396.4M1772.8 1184L1960.8 1397.1M1775.2 1183.5L1738.8 1440.5M1773.1 1183.2L1736.7 1440.2M1775.2 1183.2L1788.3 1446.2M1773.1 1183.3L1786.2 1446.3M1772.7 1183.8L1915.5 1454.3M1774 1182.9L2045.6 1456.2M1772.6 1183.7L1886.9 1494.8M1858.2 1202.5L1987 1275.7M1859.4 1202.5L1779.2 1339.2M1858.1 1202.3L1945.4 1331.1M1858.9 1201.6L2001.7 1346.2M1858.5 1202L1891.2 1355.9M1858.5 1202L1890.3 1407.6M1858 1202L1844.5 1440.3M1860.4 1201.1L1994.8 1483.7M1858.5 1202L1711.1 1524.2M1672.7 1205.3L1961.9 1396M1784.3 1231.2L1725.5 1321.3M1783.5 1230.6L1724.7 1320.7M1784.9 1231L1779.3 1338.8M1783.3 1231.8L1945.2 1331.7M1784.7 1231.6L1658.2 1370M1783.4 1230.8L1736.7 1440.2M1782.9 1230.9L1785.7 1446.3M1784.4 1230.6L1916.9 1453.5M1784.2 1230.5L2097.7 1465.5M1783.6 1231.3L2097.1 1466.3M1784.4 1230.9L1783.9 1611.5M1877.7 1235.1L2031.2 1230.5M1878.1 1235L1778.7 1339.1M1877.7 1234.6L1831 1337.7M1876.7 1234.2L1830 1337.3M1878.1 1234.3L1946.2 1330.5M1877.3 1234.9L1945.4 1331.1M1878.2 1234.5L1891.7 1355.8M1877.7 1234.6L1680 1355M1878 1234.2L2093.5 1417M1877.3 1234.3L1736.8 1440M1877.7 1234.6L2045.2 1456.6M2032.7 1230.6L1963.1 1397M2031.6 1230.3L1890.7 1407.9M2031.5 1230.4L1787 1446.7M2030.9 1229.6L1786.4 1445.9M2031.2 1230L1916.4 1453.8M2030.3 1229.5L1915.5 1453.3M2031.7 1230.2L1900.1 1527.2M2030.7 1229.8L1899.1 1526.8M2031.2 1230L1963.1 1566.2M1612.6 1254.2L1831.4 1336.7M1612.2 1255.2L1891.2 1355.9M1672.8 1265L1725.1 1321M1672.8 1265L1890.3 1407.6M1673.1 1264.6L1916.7 1453.4M1672.5 1265.4L1916.1 1454.2M1673.8 1264.8L1712.1 1524M1671.8 1265.2L1710.1 1524.4M1673.3 1264.7L1859 1590.2M1987.7 1276.2L1831.4 1338.7M1987.7 1276.2L1746.5 1383M1988.7 1274.5L2046.1 1382.6M1987.3 1275.2L1890.3 1407.6M1987.3 1275.2L2093.2 1417.4M1986.5 1275.8L2092.4 1418M1988.8 1275.8L1917.9 1454.4M1987.8 1275.4L1916.9 1454M1987.8 1275.4L1888.4 1494.6M1988.3 1275.2L1993.9 1484.6M1985.8 1274.7L1898.1 1526.5M2086.3 1278.6L1831.5 1339.7M2086 1277.6L1831.2 1338.7M2086 1277.1L1746.3 1382.5M2085.8 1276.6L1737.2 1440.3M2086.6 1277.3L1888.7 1495.1M2085 1275.9L1887.1 1493.7M2108.1 1297.6L1891.1 1355.4M2108.1 1297.6L1746 1381.5M2108 1297.6L1737 1439.8M1725.1 1321L1778.3 1338.7M1724.8 1322L1778 1339.7M1724.8 1320.6L1679.7 1354.6M1724.8 1322.5L2044.4 1384.8M1725.2 1320.5L2093.3 1416.9M1724.7 1322.5L2092.8 1418.9M1725.3 1320.5L2097.6 1465.4M1725.6 1320.1L1993.4 1483.7M1724.3 1321.7L1898.8 1527.7M1778.3 1338.7L1680 1355M1778.3 1338.7L1990.6 1424M1778.6 1338.3L1916.7 1453.4M1779.3 1338.5L1810.1 1487.2M1777.3 1338.9L1808.1 1487.6M1778.3 1338.7L1887.9 1494.4M1778.9 1337.8L1993.5 1483.7M1778.1 1339.2L2123.4 1508.9M1779.8 1338.2L1860 1590M1777.8 1338.9L1858 1590.7M1831 1337.7L1680 1355M1831 1337.7L2196.3 1426.7M1831 1337.7L1737.2 1440.3M1831.5 1337.5L1888.4 1494.2M1831.9 1337.2L1964 1565.7M1830.1 1337.2L1706.9 1577.9M1945.9 1331.3L1657.5 1369.8M1946 1330.3L2044.9 1382.8M1945.6 1330.3L1737 1439.8M1945.8 1330.8L1786.7 1446.3M1946.8 1331L1917.4 1454M1944.8 1330.6L1915.4 1453.6M1946.2 1331.8L1602.8 1464.6M1945.8 1330.8L1602.4 1463.6M1946.2 1331.1L1809.5 1487.7M1946.5 1330.1L2124.3 1507.7M1946.3 1330.8L1963.6 1566.2M1944.2 1330.9L1961.5 1566.3M1946.3 1330.8L1941.2 1609.6M1944.2 1330.8L1939.1 1609.6M2001.2 1346.1L1746 1381.5M2001.6 1346.2L2093.5 1417M2001.5 1347.1L1737.4 1440.8M2000.8 1345.1L1736.7 1438.8M2002.1 1347.3L1917.2 1454.5M2001.3 1346.6L2123.6 1508.4M2002.3 1346.2L2084.4 1536.9M2001.8 1346.6L2013.9 1548M2000.8 1346.6L2012.9 1548M2000.1 1345.6L1782.2 1610.5M1891.2 1356.9L1680 1356M1890.5 1355.1L1786 1445.5M1890.7 1355.9L1899.1 1527M1891.6 1355.6L2013.8 1547.7M1892.2 1356L1859.5 1590.6M1892.7 1356.5L1784.9 1612.1M1890.7 1355.7L1782.9 1611.3M1680.2 1354.5L1746.3 1381.5M1680.2 1354.5L1845.2 1439.8M1680.2 1354.5L1916.6 1453.3M1680 1355L1887.9 1494.4M1680 1355L1711.1 1524.2M1679 1355.2L1710.1 1524.4M1680.3 1354.6L1899.9 1526.6M1680 1355L2013.4 1548M1680.5 1354.8L1783.9 1611.3M1657.4 1369.3L2044.7 1383.3M1657.2 1370.3L1890.1 1408.6M1657.4 1369.3L1990.6 1424M1657.5 1368.3L2093.3 1416.4M1657.9 1368.4L1888.4 1493.5M1657.4 1369.3L1711.1 1524.2M1656.4 1369.6L1710.1 1524.5M1657.4 1369.3L1899.6 1527M1657.2 1369.8L2013.2 1548.5M1656.7 1370.7L2012.7 1549.4M1745.9 1383L1890.1 1408.6M1747.1 1382.2L1738.2 1440.5M1746.4 1381.5L1845.3 1439.8M1746.9 1380.1L1917.2 1451.9M1745.3 1383.9L1915.6 1455.7M1746.2 1381.5L2097.5 1465.4M1745.7 1383L1992.5 1485.6M1746.1 1382L2013.4 1548M1746.1 1382L1963.1 1566.2M1745.6 1381.9L1707.3 1578.3M1746.9 1381.3L1941.5 1608.9M1591.4 1390.8L1737.4 1439.8M1591 1391.8L1737 1440.8M1591.4 1390.8L1809.3 1486.9M1591.6 1390.3L1900 1526M2044.5 1382.3L1961.4 1395.4M2044.6 1382.8L1890.2 1407.1M2045 1384.8L1737.5 1441.8M2044.8 1383.8L1737.3 1440.8M2045.1 1383L2097.8 1465.6M2044.3 1383.6L2097 1466.2M2045 1383.7L1888.2 1494.8M2045.4 1384L1900.3 1527.7M2044 1382.6L1898.9 1526.3M2045.2 1383.5L1963.6 1566.4M2045 1383.8L1708.1 1578.9M1961.8 1395.4L2093.4 1416.4M1961.6 1396.4L2093.2 1417.4M1962 1396.7L1916.8 1454.1M1962.1 1397.3L1809.6 1488.3M1961.6 1396.4L1992.9 1484.6M1962.1 1396.6L1859 1590.7M1890.3 1407.6L2097.4 1465.9M1890.6 1407.2L1993.2 1484.2M1890 1408L1992.6 1485M1890.1 1408.1L2123.4 1508.9M1891.2 1408.9L1712 1525.5M1889.4 1406.3L1710.2 1522.9M1890.6 1407.2L2083.7 1536.9M1890.8 1407.5L1941.2 1609.5M1990.5 1423.5L1786.6 1445.8M1990.2 1423L1916 1452.8M2093.5 1417.8L2045.5 1457M2092.9 1417L2044.9 1456.2M2093.6 1417.7L1963.5 1566.5M2092.9 1417L1783.1 1611.1M2093.6 1417.7L1941.1 1609.9M2196.3 1427.7L1845 1441.3M2196.2 1426.2L1916.3 1453.3M1737.2 1440.8L2097.4 1466.4M1736.7 1440.1L1710.6 1524M1737.4 1439.8L1899.8 1526.5M1736.4 1441L1857.7 1591.2M1737.7 1440.2L1783.9 1611.4M1845.1 1439.3L2045.3 1455.6M1845 1440.3L2045.2 1456.6M1845 1440.3L1602.4 1463.6M1843.7 1439.3L1807.8 1486.4M1844.7 1440.7L2013.1 1548.4M1845 1440.3L1707.8 1578.4M1916.4 1454.3L2097.4 1466.4M1916.3 1455.4L2097.3 1467.5M1916.8 1454.1L1888.3 1494.7M2045.4 1455.6L2097.6 1464.9M2045.1 1456.1L1809 1486.9M2044.6 1457.5L2123 1509.3M2045.4 1457.1L1708 1578.9M2044.7 1456.6L2039.1 1599.8M2097.7 1466.3L1963.4 1566.6M2097.1 1465.5L1962.8 1565.8M2097.4 1465.9L1940.7 1609.6M2096.7 1465.1L1940 1608.8M1602.4 1464.1L1992.9 1485.1M1809 1488.4L1887.8 1495.4M1809.1 1487.4L1899.6 1527M1888 1493.9L2083.5 1536.8M1887.9 1494.4L2013.4 1548M1993 1484.1L2123.7 1507.9M1992.9 1484.6L2083.4 1537.3M1992.9 1484.6L1858.5 1590.5M1992.3 1483.8L1857.9 1589.7M1993.4 1484.8L1941.2 1609.8M1711.1 1524.2L2083.4 1537.3M1711.3 1523.2L1963.3 1565.2M1711.1 1524.2L1963.1 1566.2M1711.3 1523.7L1858.7 1590M1711.9 1523.5L1784.2 1610.8M1710.3 1524.9L1782.6 1612.2M1963.3 1567.2L1858.7 1591.5M1962.2 1565.7L1939.8 1609.1M1707.8 1577.9L1858.5 1590M1707.7 1580L1858.4 1592.1" stroke="#a6c65c" stroke-width="0.65" fill="none"/>
<path d="M1907.7 1061.6L1543.3 1280.9M1907.5 1061.8L1777.8 1338.5M1909 1061.9L1964.1 1566.1M1849.7 1105.2L2000.9 1346.9M1975.7 1125.2L1890.8 1407.8M1657.4 1153L1773.6 1183.3M1657.8 1153.3L1480.1 1382.7M1773.1 1183.4L1783.4 1231M1773.6 1183.3L1711.1 1524.2M1858.7 1202.5L1673 1265.5M1672.5 1205.2L2108.3 1297.6M1877.2 1233.7L1590.7 1390.4M1876.8 1234.1L1657.9 1636.7M2031.6 1229.7L2196.7 1426.4M1612.5 1254.2L2196.6 1425.7M1611.7 1255.3L1707.3 1578.5M1543.8 1280.8L1990.8 1423.5M2108.7 1298.2L2040.1 1599.9M1723.6 1320.7L1657.3 1636.9M1681 1355.3L1602.4 1589.9M2093 1416.9L1658.6 1636.7M2196.8 1427.6L1963.6 1567.1M2045.1 1455.6L1562.6 1509.2M1601.4 1463.9L1657.8 1637.5M2083.2 1536.8L1940.5 1609.1M2013.4 1548L1601.4 1589.6M1963.1 1566.7L1601.4 1590.1M2039.2 1598.3L1720.5 1686.5" stroke="#a6a6a6" stroke-width="0.65" fill="none"/>
<path d="M1907.5 1062.2L2000.8 1346.8M1658.2 1151.7L1946.6 1329.5M1658.1 1152.3L1993.6 1483.9M1773.5 1182.8L1672.3 1205.2M1774.1 1183.5L1725.6 1321.2M1774.1 1183.3L1778.8 1338.7M1772 1183.3L1776.7 1338.7M1774.4 1182.6L1962.4 1395.7M1774.1 1183.4L1737.7 1440.4M1772 1183.4L1785.1 1446.4M1774.5 1182.8L1917.3 1453.3M1773.6 1183.3L1887.9 1494.4M1858.8 1201.5L1987.6 1274.7M1858.5 1202L1778.3 1338.7M1857.6 1201.5L1777.4 1338.2M1858.9 1201.7L1946.2 1330.5M1858.1 1202.4L2000.9 1347M1857.5 1202.2L1890.2 1356.1M1859.5 1201.8L1891.3 1407.4M1857.5 1202.2L1889.3 1407.8M1859 1202L1845.5 1440.3M1859.4 1201.5L1993.8 1484.1M1857.6 1202.5L1992 1485.1M1858.1 1201.7L1601 1589.3M1672.9 1205.7L1680.5 1355M1672.1 1206.1L1961.3 1396.8M1672.4 1205.7L1737.2 1440.3M1784.5 1230L1946.4 1329.9M1783.9 1230.9L1945.8 1330.8M1783.9 1230.9L1657.4 1369.3M1784.2 1231.3L1591.5 1391.7M1783.9 1230.9L2196.3 1426.7M1784.4 1231L1737.7 1440.4M1784.9 1230.9L1787.7 1446.3M1783.4 1231.2L1915.9 1454.1M1877.7 1234.1L2031.2 1229.5M1877.3 1234.2L1777.9 1338.3M1878.7 1235L1832 1338.1M1879 1233.7L1947.1 1329.9M1876.4 1235.5L1944.5 1331.7M1877.2 1234.7L1890.7 1356M1876.1 1234.8L1889.6 1356.1M1877.2 1233.7L1679.5 1354.1M1877.4 1235L2092.9 1417.8M1878.1 1234.9L1737.6 1440.6M1878.1 1234.9L1601.8 1589.9M2029.7 1229.4L1960.1 1395.8M2032.1 1230.5L1917.3 1454.3M2032.6 1230.6L1901 1527.6M2030.2 1229.8L1962.1 1566M1612.2 1255.2L1831 1337.7M1611.8 1256.2L1830.6 1338.7M1673.3 1265.1L1657.9 1369.4M1673.8 1263.8L1917.4 1452.6M1672.8 1265L2123.6 1508.4M1672.8 1265L1711.1 1524.2M1672.3 1265.3L1858 1590.8M1672.4 1265.3L1945.4 1704.2M1543.2 1282.3L1889.9 1408.6M1543.4 1281.8L1844.8 1440.8M1986.9 1274.2L1830.6 1336.7M1987.3 1275.2L1746.1 1382M1987.8 1275L2045.2 1383.1M1985.9 1275.9L2043.3 1384M1988.1 1274.6L2094 1416.8M1986.8 1275L1915.9 1453.6M1986.8 1275L1887.4 1494.2M1986.3 1275.2L1991.9 1484.6M1987.8 1275.4L1900.1 1527.2M1986.8 1275L1899.1 1526.8M2085.8 1276.6L1831 1337.7M2085.3 1274.6L1830.5 1335.7M2085.6 1276.1L1745.9 1381.5M2085.8 1276.6L1887.9 1494.4M2108.3 1298.6L1891.3 1356.4M2108.3 1298.6L1746.2 1382.5M2108.4 1298.6L1737.4 1440.8M2107.7 1298.1L2123.1 1508.4M2107.7 1297.9L1945.3 1703.7M1725.4 1320L1778.6 1337.7M1725.4 1321.4L1680.3 1355.4M1725.2 1320.5L2044.8 1382.8M1725 1321.5L2044.6 1383.8M1725.5 1319.5L2093.6 1415.9M1724.9 1321.5L2097.2 1466.4M1725.1 1321L1992.9 1484.6M1725.1 1321L1899.6 1527M1778.5 1339.7L1680.2 1356M1778.1 1337.7L1679.8 1354M1778.2 1338.2L1479.6 1381.9M1777.9 1339.7L1990.2 1425M1778 1339.1L1916.1 1454.2M1778.3 1338.7L1809.1 1487.4M1778.3 1338.7L1992.9 1484.6M1778.8 1338.5L1859 1590.3M1778.8 1338.7L1755.9 1718.3M1830.9 1336.7L1679.9 1354M1831.2 1336.7L2196.5 1425.7M1830.2 1337L1736.4 1439.6M1830.5 1337.9L1887.4 1494.6M1831 1337.7L1963.1 1566.2M1831.9 1338.2L1708.7 1578.9M1831 1337.7L1707.8 1578.4M1945.6 1331.3L2044.5 1383.8M1946 1331.3L1737.4 1440.8M1945.8 1330.8L2123.6 1508.4M1947.4 1330.7L1964.7 1566.1M1945.3 1330.8L1962.6 1566.2M1947.4 1330.8L1942.3 1609.6M2001.4 1347.1L1746.2 1382.5M2001 1347L2092.9 1417.8M2001.8 1348.1L1737.7 1441.8M2001.1 1346.1L1737 1439.8M2001.3 1346.6L1916.4 1453.8M2001.3 1346.6L2083.4 1537.3M2000.3 1347L2082.4 1537.7M1999.7 1346.7L2011.8 1548.1M2002.5 1347.6L1784.6 1612.5M2001.7 1346.9L1783.8 1611.8M1891.2 1354.9L1680 1354M1891.9 1356.7L1787.4 1447.1M1891.2 1355.9L1786.7 1446.3M1891.7 1355.9L1900.1 1527M1890.8 1356.2L2013 1548.3M1889.9 1356.7L2012.1 1548.8M1891.2 1355.9L1858.5 1590.5M1891.7 1356.1L1783.9 1611.7M1679.8 1355.5L1745.9 1382.5M1680 1355L1591.2 1391.3M1679.8 1355.5L1844.8 1440.8M1679.8 1355.5L1916.2 1454.3M1680.6 1354.1L1888.5 1493.5M1681 1354.8L1712.1 1524M1679.7 1355.4L1899.3 1527.4M1680.5 1354.1L2013.9 1547.1M1679.5 1355.2L1782.9 1611.7M1657.4 1368.3L2044.7 1382.3M1657.4 1370.3L2044.7 1384.3M1657.6 1368.3L1890.5 1406.6M1657.4 1369.3L1890.3 1407.6M1657.4 1369.3L2093.2 1417.4M1657.3 1370.3L2093.1 1418.4M1656.9 1370.2L1887.4 1495.3M1658.4 1369L1712.1 1523.9M1656.8 1370.2L1899 1527.9M1746.3 1381L1890.5 1406.6M1746.1 1382L1890.3 1407.6M1746.1 1382L1737.2 1440.3M1745.1 1381.8L1736.2 1440.1M1745.8 1382.5L1844.7 1440.8M1745.7 1383L1916 1454.8M1746.5 1381L1993.3 1483.6M1746.1 1382L1940.7 1609.6M1745.3 1382.7L1939.9 1610.3M1591 1391.8L1808.9 1487.9M1591.2 1391.3L1899.6 1527M1590.8 1392.3L1899.2 1528M2044.7 1383.3L1961.6 1396.4M2044.8 1383.8L1890.4 1408.1M2044.4 1381.8L1736.9 1438.8M2046 1382.5L2098.7 1465.1M2043.4 1384.1L2096.1 1466.7M2044.4 1382.9L1887.6 1494M2044.7 1383.3L1899.6 1527M2044.2 1383.1L1962.6 1566M2044.4 1382.8L1707.5 1577.9M1961.4 1397.4L2093 1418.4M1961.2 1396.1L1916 1453.5M1961.6 1396.4L1809.1 1487.4M1961.1 1396.2L1858 1590.3M1889.4 1408.9L1992 1485.9M1890.5 1407.1L2123.8 1507.9M1890.6 1408L1711.4 1524.6M1890 1408L2083.1 1537.7M1889.8 1407.7L1940.2 1609.7M1990.7 1424.5L1786.8 1446.8M1991 1425L1916.8 1454.8M2092.8 1417.1L1962.7 1565.9M2092.8 1417.1L1940.3 1609.3M2092 1416.4L1939.5 1608.6M2196.3 1425.7L1845 1439.3M2196.4 1427.2L1916.5 1454.3M1737.2 1439.8L2097.4 1465.4M1737 1440.8L1899.4 1527.5M1738 1439.6L1859.3 1589.8M1736.7 1440.4L1782.9 1611.6M1785.8 1445.7L1657.9 1636.6M1844.9 1441.3L2045.1 1457.6M1845.1 1441.3L1602.5 1464.6M1846.3 1441.3L1810.4 1488.4M1845.4 1440.6L1809.5 1487.7M1845.7 1441L1708.5 1579.1M1916.4 1453.3L2097.4 1465.4M1915.1 1452.9L1886.6 1493.5M2045 1457.6L2097.2 1466.9M2045.4 1458.2L1809.3 1489M2045 1455L1808.9 1485.8M2045.2 1456.6L2123.6 1508.4M2045.7 1456.6L2040.1 1599.8M2097.5 1466.4L1707.9 1578.9M2098.1 1466.7L1941.4 1610.4M1602.4 1463.1L1992.9 1484.1M1809.1 1487.4L1887.9 1494.4M1809.5 1486.4L1900 1526M1808.7 1488.4L1899.2 1528M1887.8 1494.9L2083.3 1537.8M1888.3 1493.4L2013.8 1547M1887.5 1495.4L2013 1549M1887.9 1494.4L1755.4 1718.3M1992.8 1485.1L2123.5 1508.9M1993.4 1483.7L2083.9 1536.4M1992.4 1485.5L2082.9 1538.2M1993.5 1485.4L1859.1 1591.3M1992.4 1484.4L1940.2 1609.4M2123.9 1510L1708.1 1580M1711.1 1523.2L2083.4 1536.3M1710.9 1525.2L1962.9 1567.2M1711.1 1524.2L1783.4 1611.5M1963.1 1566.2L1858.5 1590.5M1963.1 1566.2L1940.7 1609.6M1707.8 1578.9L1858.5 1591M1783.7 1611L1946.1 1703.4" stroke="#303030" stroke-width="0.65" fill="none"/>
<path d="M1562.7 1510.2L1601.4 1589.6" stroke="#cdeaf2" stroke-width="0.65" fill="none"/>
<path d="M1908 1062L2196.3 1426.7M1908.5 1062L1900.1 1527M1850.6 1104.7L1962.1 1396.2M1850.1 1104.9L1809.1 1487.4M1974.7 1125.1L2044.7 1456.7M1657.9 1152.9L1711.6 1524.1M1657.8 1152.7L1963.5 1565.9M1773.9 1182.9L2097.7 1465.5M1772.6 1183.3L1782.4 1611.5M1859.5 1201.8L1941.7 1609.4M1672.8 1205.4L1778.7 1338.4M1878.7 1234.9L1721.9 1688.3M1612.4 1254.7L2045.4 1456.1M1543.3 1281.7L1736.9 1440.7M2107.7 1297.9L1940.2 1609.4M1592 1390.6L1711.9 1523.5M2044.7 1383.3L1562.7 1510.2M2196 1426.3L1940.4 1609.2M1845.5 1441.2L1601.9 1590.5M1993 1485.6L1562.8 1511.2M2124.2 1509.3L2084 1538.2M2122.8 1507.7L1945 1703.2M1561.8 1510.7L1600.5 1590.1M1601.3 1590.1L1783.3 1612" stroke="#e0d2ec" stroke-width="0.65" fill="none"/>
<path d="M1907.5 1062.2L2092.7 1417.6M1908.8 1061.3L2197.1 1426M1907.5 1062L1899.1 1527M1974.7 1125L1940.2 1609.6M1657 1153.3L1962.7 1566.5M1774.6 1183.3L1784.4 1611.5M1672.4 1205.7L1720.9 1688M1877.8 1234.1L2108.3 1297.6M1878.4 1235.4L1603.1 1464.4M2031.2 1230L1940.7 1609.6M1612.4 1255.7L1543.8 1281.8M1612 1255.7L2045 1457.1M1612.7 1255.1L1721.4 1687.9M1778.8 1338.8L1721.4 1688.1M1945.8 1330.8L2196.3 1426.7M2000.8 1346.5L1945.3 1703.8M1657.2 1369.8L2123.4 1508.9M1657.7 1368.9L2039.9 1599.4M1479.8 1381.9L1786.8 1445.8M1479.7 1382.4L1783.4 1611.5M1990.1 1423.9L1945.3 1703.8M2092.9 1417L1755.1 1717.9M1845 1440.3L1601.4 1589.6M1602 1464L1707.4 1578.8M1809.1 1487.4L1755.4 1718.3M1563.6 1509.7L1602.3 1589.1M1601.5 1589.1L1783.5 1611M1601.1 1590L1658.5 1637.6" stroke="#dcebc2" stroke-width="0.65" fill="none"/>
<path d="M1907 1061.9L1889.3 1407.5M1849.6 1105L1899.1 1527.1M1975.7 1125L1941.2 1609.6M1657.4 1153L1916.4 1453.8M1658.7 1152.1L1964.4 1565.3M1773.6 1183.3L1783.4 1611.5M1859 1201.7L1991.1 1423.7M1859.5 1202.3L1787.7 1446.6M1859.5 1201.8L1917.4 1453.6M1857.5 1202.2L1939.7 1609.8M1671.2 1206.7L1777.1 1339.7M1783.4 1231.8L2000.8 1347.5M1784.3 1230.6L1891.6 1355.6M1783.9 1230.9L2093.2 1417.4M1877.6 1235.1L2108.1 1298.6M1877.7 1234.6L1602.4 1463.6M1877.7 1234.6L2013.4 1548M1876.7 1234.3L1719.9 1687.7M2030.9 1229.6L1736.9 1439.9M1543.6 1281.3L2044.7 1383.3M1988.3 1275.2L1991.6 1424M1985.8 1275.7L2043.7 1457.1M2086.8 1276.7L2040.6 1599.9M2108.1 1297.6L1945.7 1330.3M1725.1 1320.5L1945.8 1330.3M1725.6 1320.8L1746.6 1381.8M1725.1 1321L1845 1440.3M1725.7 1320.1L1917 1452.9M1724.3 1320.3L1601.6 1462.9M1725.6 1321L1711.6 1524.2M1778.3 1337.7L1831 1336.7M1778.2 1340.3L2001.2 1348.2M1778.3 1338.7L1657.4 1369.3M1778.7 1337.2L2093.6 1415.9M1777 1339.6L1843.7 1441.2M1779.4 1337.6L2040.7 1598.7M1829.8 1338.7L1889.1 1408.6M1830.3 1339.1L1989.9 1425.4M1831 1337.7L2097.4 1465.9M1945.9 1331.3L1591.3 1391.8M1945.8 1330.8L1887.9 1494.4M1945.8 1330.8L2013.4 1548M1891.2 1355.9L1890.3 1407.6M1679.8 1355.5L2123.4 1508.9M1680.4 1354L2083.8 1536.3M1679.1 1356.3L1962.2 1567.5M1658.1 1368.5L1737.9 1439.5M1657.5 1368.8L2045.3 1456.1M1657.4 1369.3L1992.9 1484.6M1658.4 1369.6L1602.4 1589.9M1746 1383L1961.5 1397.4M1746 1383L2093.1 1418.4M1747.7 1381.7L1785 1611.2M1591.4 1390.3L2097.6 1464.9M1591.2 1391.3L1658.8 1637.2M2044.4 1381.8L1602.1 1462.1M2044.7 1383.3L2123.6 1508.4M1889.4 1407.1L1720 1687.5M1992.1 1423.6L2041.1 1599.4M1991.1 1424.1L1946.3 1704M2093.2 1417.4L1899.6 1527M1737.4 1439.3L1993.1 1483.6M1787.1 1445.3L2013.8 1547M1785.7 1446.3L1782.4 1611.5M1845 1440.3L2097.4 1465.9M1917.4 1454.2L1859.5 1590.9M2045.2 1456.6L1887.9 1494.4M2097.2 1464.9L1992.7 1483.6M2097.7 1466.4L1721.2 1688.5M1888.6 1493.6L1963.8 1565.4M1887.6 1494.8L2039.3 1600.2M2123.6 1508.4L1899.6 1527M1899.5 1528L2083.3 1538.3M2083.5 1537.8L2013.5 1548.5M2083.3 1536.8L1963 1565.7M1783.4 1611.5L1755.4 1718.3" stroke="#9cd6e8" stroke-width="0.65" fill="none"/>
<path d="M1774.6 1183L1846 1440M1857.1 1202.8L1989.2 1424.8M1857.5 1201.8L1808.1 1487.2M1672.4 1205.7L1891.2 1355.9M1782.8 1232.7L2092.1 1419.2M1876.8 1235.1L1960.7 1396.9M2031.7 1230.9L1831.5 1338.6M1988.8 1274.7L2046.7 1456.1M1987.8 1275.4L1859 1590.7M1987.7 1275.5L1783.8 1611.8M2086.6 1278L1787.5 1447.7M2085.3 1276.5L2012.9 1547.9M2107.8 1297.7L1899.2 1526.6M1725.8 1320.3L1845.7 1439.6M1779.6 1337.8L1846.3 1439.4M1777.9 1339.1L2039.2 1600.2M1831.7 1336.3L1991.3 1422.6M1831 1337.7L1845 1440.3M1831.8 1337L2014.2 1547.3M1945.7 1331.3L2001.2 1347.1M2000.3 1347L2044.2 1457M1891.2 1356.4L1657.4 1369.8M1890.9 1357.5L2044.4 1384.9M1679.7 1355.4L1962.8 1566.6M1657.9 1368.4L1787.2 1445.4M1656.5 1369.8L1782.5 1612M1745.2 1382.5L1808.2 1487.9M1746.6 1381.9L1783.9 1611.4M2044.7 1383.3L1858.5 1590.5M2045.2 1383.5L1941.2 1609.8M1961.9 1396L2123.9 1508M1960.6 1396.8L2038.6 1600.2M1990.6 1424L1845 1440.3M1991.4 1422.6L2046 1455.2M1990.6 1424L1602.4 1463.6M2093.6 1418.4L1708.2 1579.4M1786.6 1447.3L2097.3 1466.9M1786.7 1446.3L2013.4 1548M2045.4 1457.6L1888.1 1495.4M2044.5 1455.2L1992.2 1483.2M1993.6 1486L1900.3 1528.4M1713.2 1524.3L1709.9 1578.5M1899.6 1527L2013.4 1548M2083.3 1536.8L2013.3 1547.5M2013.7 1548.4L1941 1610" stroke="#c3a8dc" stroke-width="0.65" fill="none"/>
<path d="M1909 1062.1L1891.3 1407.7M1908.5 1062.2L1787.2 1446.5M1849.6 1105.1L1961.1 1396.6M1849.1 1104.8L1808.1 1487.3M1849.6 1104.7L1710.6 1524M1850.6 1104.8L1900.1 1526.9M1975.7 1124.9L2045.7 1456.5M1975.2 1125L1887.9 1494.4M1974.7 1125.2L2123.1 1508.6M1656.6 1153.7L1915.6 1454.5M1656.9 1153.1L1710.6 1524.3M1773.3 1183.7L2097.1 1466.3M1858.9 1201.7L2083.8 1537M1858.5 1202L1940.7 1609.6M1673.6 1204.7L1779.5 1337.7M1877.7 1234.6L1562.7 1510.2M1877.7 1234.6L1720.9 1688M2030.7 1230.1L2096.9 1466M1612.2 1255.2L1746.1 1382M1612.2 1255.2L1899.6 1527M1543.8 1280.3L2044.9 1382.3M1543.9 1280.9L1737.5 1439.9M1987.6 1275.6L1601.7 1590M2085.8 1276.6L2039.6 1599.8M2108.7 1298.2L2083.9 1537.4M2108.7 1298.3L1941.2 1609.8M1725.1 1321L1755.4 1718.3M2001.3 1346.6L1720.9 1688M1680.2 1354.5L2123.8 1507.9M1656.4 1369L1600.4 1589.3M1591.2 1391.3L2097.4 1465.9M1591.2 1391.3L1711.1 1524.2M1592.2 1391L1659.8 1636.9M2045 1384.3L1563 1511.2M1890.3 1407.6L1720.9 1688M2092.7 1417.6L2123.1 1508.6M2196.6 1427.1L1941 1610M1786.7 1446.3L1562.7 1510.2M2097.1 1465.4L1720.6 1687.5M1809.1 1487.4L1720.9 1688M1992.8 1483.6L1562.6 1509.2M1992.4 1484.5L1945.3 1703.8M2123.6 1508.4L2083.4 1537.3M2123.6 1508.4L1945.8 1703.9M1711.1 1524.2L1601.4 1589.6M1710.6 1524L1658.3 1637M1899.6 1527L1755.4 1718.3M1858.5 1590.5L1945.8 1703.9M1783.4 1612L2039.6 1600.3M1782.4 1611.2L1754.4 1718" stroke="#bdd78c" stroke-width="0.65" fill="none"/>
<path d="M1774.1 1183.1L1831.5 1337.5M1774.1 1183.1L1890.8 1407.4M1772.6 1183.6L1844 1440.6M1859.9 1201.2L1879.1 1233.8M1858 1202.3L1877.2 1234.9M1858.8 1202.4L1680.3 1355.4M1857.6 1201.4L1745.2 1381.4M1859.4 1201.5L1962.5 1395.9M1858.5 1202L1961.6 1396.4M1859.9 1201.2L1992 1423.2M1858.5 1202L1786.7 1446.3M1857.5 1202.2L1915.4 1454M1859.5 1202.2L1810.1 1487.6M1858 1202.1L1887.4 1494.5M1672.1 1206.1L1830.7 1338.1M1671.8 1206.6L1890.6 1356.8M1784.4 1230L2001.8 1345.7M1783.5 1231.2L1890.8 1356.2M1784.4 1230L2093.7 1416.5M1783.4 1231L1808.6 1487.5M1877.6 1234.1L1672.7 1264.5M1877.4 1234.1L1724.8 1320.5M1878.6 1234.1L1962.5 1395.9M1878.2 1234.3L1991.1 1423.7M1877.7 1234.6L1845 1440.3M1876.7 1234.4L1844 1440.1M1876.7 1235L2012.4 1548.4M1878.2 1234.6L1859 1590.5M1877.7 1234.6L1940.7 1609.6M2030.8 1229.6L1986.9 1274.8M2031.2 1230L1831 1337.7M2030.7 1229.1L1830.5 1336.8M2030.8 1229.7L1945.4 1330.5M2031.2 1230L2001.3 1346.6M2031.6 1230.4L1891.6 1356.3M2031 1229.5L1745.9 1381.5M2032.1 1231.3L1738.1 1441.6M1673.2 1264L1891.6 1354.9M1672.3 1265L1679.5 1355M1673.2 1264.7L1746.5 1381.7M1673.6 1264.3L1888.7 1493.7M1987.6 1276.2L1778.6 1339.7M1988.3 1275L2002.3 1346.4M1986.3 1275.4L2000.3 1346.8M1986.8 1275.1L1961.1 1396.3M1987.3 1275.2L1990.6 1424M1987.8 1275L2045.7 1456.4M1986.3 1275.1L1962.1 1566.1M1988.8 1275.8L1860 1591.1M1986.8 1275L1858 1590.3M1986.9 1274.9L1783 1611.2M2085.5 1276.1L1786.4 1445.8M2086.3 1276.7L2013.9 1548.1M2084.3 1276.2L2011.9 1547.6M2108.2 1298.1L1725.1 1321M2108.1 1297.1L1725 1320M2108.3 1298.6L1945.9 1331.3M2108.9 1298.9L1917.1 1454.6M2108.2 1298.1L1992.9 1484.6M2108.6 1298.5L1900 1527.4M2107 1297L1898.4 1525.9M1725.1 1321.5L1945.8 1331.3M1726.6 1320.5L1747.6 1381.5M1723.6 1321.5L1744.6 1382.5M1724.9 1321.5L1990.4 1424.5M1724.6 1321.1L1736.7 1440.4M1724.4 1321.7L1844.3 1441M1723.6 1322.5L1843.5 1441.8M1724.5 1321.9L1915.8 1454.7M1725.9 1321.7L1603.2 1464.3M1724.6 1321.2L1808.6 1487.6M1725.1 1321L1887.9 1494.4M1724.6 1321L1710.6 1524.2M1778.3 1338.7L1831 1337.7M1778.3 1339.2L2001.3 1347.1M1778 1337.7L1657.1 1368.3M1778.7 1339L1746.5 1382.3M1778.4 1338.2L2093.3 1416.9M1778.2 1339.2L2093.1 1417.9M1779.9 1338.6L1788.3 1446.2M1777.8 1338.7L1786.2 1446.3M1777.9 1339L1844.6 1440.6M1778 1338.3L1602.1 1463.2M1778.7 1338.3L2040 1599.4M1831 1337.7L1746.1 1382M1831.2 1337.2L1961.8 1395.9M1832.2 1336.7L1891.5 1406.6M1831.4 1337.4L1890.7 1407.3M1831.2 1337.2L1990.8 1423.5M1830 1337.8L1844 1440.4M1831.5 1336.8L2045.7 1455.7M1831.5 1336.8L2097.9 1465M1830.2 1338.4L2012.6 1548.7M1946.2 1329.3L2001.7 1345.1M1945.9 1330.3L2001.4 1346.1M1945.8 1330.3L1680 1354.5M1945.7 1330.3L1591.1 1390.8M1946.6 1331.5L1845.8 1441M1946.8 1331.2L1888.9 1494.8M1944.8 1330.4L1886.9 1494M1944.8 1331.1L2012.4 1548.3M1943.8 1331.4L2011.4 1548.6M1946.6 1331.5L1708.6 1579.1M1945.8 1330.8L1707.8 1578.4M1945.3 1330.6L1858 1590.3M2001.3 1347.1L1657.4 1369.8M2001.7 1346.9L1962 1396.7M2000.9 1346.3L1961.2 1396.1M2000.9 1345.6L1786.3 1445.3M2002.3 1346.2L2046.2 1456.2M2000.8 1346.6L1992.4 1484.6M2000.8 1346.5L1962.6 1566.1M1891.3 1357.5L1657.5 1370.9M1891.1 1354.3L1657.3 1367.7M1891.1 1355.4L1746 1381.5M1891.5 1354.3L2045 1381.7M1891.3 1355.4L2044.8 1382.8M1892.2 1355.9L1891.3 1407.6M1680 1355L2044.7 1383.3M1680.1 1354.5L1990.7 1423.5M1680.1 1354.5L2097.5 1465.4M1680 1355L1992.9 1484.6M1679.6 1356L1992.5 1485.6M1680 1355L2083.4 1537.3M1680.9 1353.7L1964 1564.9M1657.4 1369.3L1737.2 1440.3M1656.9 1370.2L1786.2 1447.2M1657.3 1369.8L2045.1 1457.1M1657.7 1368.3L1993.2 1483.6M1657.8 1368.9L1858.9 1590.1M1658.3 1368.8L1784.3 1611M1746.1 1382L1591.2 1391.3M1746.1 1382L1961.6 1396.4M1746.2 1381L2093.3 1416.4M1746.1 1382L2093.2 1417.4M1746.1 1382L1809.1 1487.4M1746.3 1381.5L2123.8 1507.9M1744.5 1382.3L1781.8 1611.8M1743.5 1382.4L1780.8 1611.9M1746.4 1381.6L2039.9 1599.4M2044.4 1382.9L1990.3 1423.6M2045 1384.8L1602.7 1465.1M2044.6 1382.8L1602.3 1463.1M2045.6 1382.7L2124.5 1507.8M2045.5 1384L1859.3 1591.2M2043.1 1381.9L1856.9 1589.1M2046.1 1384L1942.1 1610.3M2043.3 1382.6L1939.3 1608.9M1962.3 1395.6L1991.3 1423.2M1960.9 1397.2L1989.9 1424.8M1961.6 1396.4L1786.7 1446.3M1960.7 1397.7L2122.7 1509.7M1962.2 1397.3L1708.4 1579.3M1961.6 1396.4L1707.8 1578.4M1961.6 1396.4L1940.7 1609.6M1961.6 1396.4L2039.6 1599.8M1890.8 1407.6L1888.4 1494.4M1890.8 1407.6L1900.1 1527M1889.9 1407.9L2013 1548.3M1990.5 1423L1844.9 1439.3M1990.9 1423.5L2045.5 1456.1M1990.3 1424.5L2044.9 1457.1M1990.7 1425L1602.5 1464.6M1991.1 1425.5L1711.6 1525.7M1990.1 1422.5L1710.6 1522.7M1991 1424.3L1858.9 1590.8M1990.1 1424.1L2039.1 1599.9M1989.1 1424.4L2038.1 1600.2M2093.2 1417.4L1916.4 1453.8M2093.2 1417.4L1711.1 1524.2M2092.7 1416.5L1899.1 1526.1M2093.2 1417.4L2083.4 1537.3M2092.8 1416.4L1707.4 1577.4M2196.4 1427.2L1888 1494.9M2196.2 1426.2L1887.8 1493.9M1737 1441.3L1992.7 1485.6M1737.3 1439.8L2083.5 1536.8M1786.8 1445.3L2097.5 1464.9M1786.8 1447.3L1602.5 1464.6M1786.6 1445.3L1602.3 1462.6M1787 1445.3L2083.7 1536.3M1786.4 1447.3L2083.1 1538.3M1786.3 1447.3L2013 1549M1786.7 1446.3L1783.4 1611.5M1787.1 1445.9L1941.1 1609.2M1845.1 1439.3L2097.5 1464.9M1844.9 1441.3L2097.3 1466.9M1844.6 1440.6L1887.5 1494.7M1845.3 1440.7L1711.4 1524.6M1845.5 1440.3L1859 1590.5M1916.4 1454.8L2045.2 1457.6M1916.4 1453.8L2123.6 1508.4M1916.6 1454.3L1711.3 1524.7M1916.4 1453.8L1899.6 1527M1916.9 1454.7L1708.3 1579.3M1916.4 1453.8L1707.8 1578.4M1916.4 1453.8L1858.5 1590.5M1917.4 1453.6L1941.7 1609.4M1915.4 1454L1939.7 1609.8M2045 1455.6L1887.7 1493.4M2045 1456.1L1992.7 1484.1M2045.1 1456.1L1711 1523.7M2045.7 1456.4L2083.9 1537.1M2045.7 1457.5L1783.9 1612.4M2097.4 1465.9L1992.9 1484.6M1809.1 1487.4L1992.9 1484.6M1809.5 1487.8L1708.2 1578.8M1809.1 1487.4L2039.6 1599.8M1887.9 1494.9L1992.9 1485.1M1887.8 1493.9L1711 1523.7M1887.2 1495.2L1962.4 1567M1888.2 1494L2039.9 1599.4M1993.1 1485.1L1899.8 1527.5M1992.2 1483.2L1898.9 1525.6M2123.7 1509.4L1899.7 1528M1712.1 1524.3L1708.8 1578.5M1710.1 1524.1L1706.8 1578.3M1899.7 1526L2083.5 1536.3M1899.4 1528L2013.2 1549M1899.1 1527.2L1940.2 1609.8M2083.2 1535.7L2013.2 1546.4M2083.5 1537.8L1963.2 1566.7M2083.8 1538.8L1858.9 1592M2083 1535.8L1858.1 1589M2013.2 1547.5L1962.9 1565.7M2014.4 1549.2L1941.7 1610.8M2012.4 1546.8L1939.7 1608.4M1963.1 1565.7L1707.8 1577.9" stroke="#a6c65c" stroke-width="0.65" fill="none"/>
<path d="M1908.5 1061.8L2093.7 1417.2M1907.2 1062.7L2195.5 1427.4M1907.5 1061.8L1786.2 1446.1M1851.1 1105L1810.1 1487.5M1850.6 1105.1L1711.6 1524.4M1658.2 1152.3L1917.2 1453.1M1877 1233.8L1601.7 1462.8M2031.7 1229.9L2097.9 1465.8M1612 1254.7L1543.4 1280.8M1611.7 1255.3L1720.4 1688.1M1987 1274.8L1601.1 1589.2M2084.8 1276.5L2038.6 1599.7M2107.7 1298L2082.9 1537.2M2001.8 1346.7L1946.3 1704M1657.1 1369.7L2039.3 1600.2M1711.6 1524.4L1659.3 1637.4M1601.7 1589.2L1659.1 1636.8" stroke="#a6a6a6" stroke-width="0.65" fill="none"/>
<path d="M1908 1062L1890.3 1407.6M1975.7 1124.8L2124.1 1508.2M1656.1 1153.9L1961.8 1567.1M1773.1 1183.5L1830.5 1337.9M1773.1 1183.5L1889.8 1407.8M1773.6 1183.3L1845 1440.3M1859 1201.7L1878.2 1234.3M1857.1 1202.8L1876.3 1235.4M1858.2 1201.6L1679.7 1354.6M1859.4 1202.6L1747 1382.6M1858.5 1202L1746.1 1382M1857.6 1202.5L1960.7 1396.9M1858 1202.3L1990.1 1424.3M1857.5 1201.7L1785.7 1446M1858.5 1202L1916.4 1453.8M1858.5 1202L1809.1 1487.4M1859 1201.9L1888.4 1494.3M1858.1 1202.3L2083 1537.6M1672 1206L1777.9 1339M1672.7 1205.3L1831.3 1337.3M1673 1204.8L1891.8 1355M1783.9 1230.9L2001.3 1346.6M1785.1 1229.9L1892.4 1354.9M1782.7 1231.9L1890 1356.9M1785 1229.1L2094.3 1415.6M1783.4 1231.8L2092.7 1418.3M1784.4 1230.8L1809.6 1487.3M1877.8 1235.1L1672.9 1265.5M1878 1235.1L1725.4 1321.5M1877.7 1234.6L1961.6 1396.4M1877.2 1234.9L1990.1 1424.3M1878.7 1234.8L1846 1440.5M1878.7 1234.2L2014.4 1547.6M1877.2 1234.6L1858 1590.5M2031.6 1230.4L1987.7 1275.6M2031.6 1230.3L1946.2 1331.1M2030.8 1229.6L1890.8 1355.5M2031.4 1230.5L1746.3 1382.5M2031.5 1230.4L1737.5 1440.7M2030.3 1228.7L1736.3 1439M1672.8 1265L1891.2 1355.9M1672.4 1266L1890.8 1356.9M1673.3 1265L1680.5 1355M1672.4 1265.3L1745.7 1382.3M1672.8 1265L1887.9 1494.4M1672 1265.7L1887.1 1495.1M1543.4 1282.3L2044.5 1384.3M1987.3 1275.2L1778.3 1338.7M1987 1274.2L1778 1337.7M1987.3 1275.2L2001.3 1346.6M1987.8 1275.3L1962.1 1396.5M1986.3 1275.2L1989.6 1424M1986.8 1275.4L2044.7 1456.8M1988.3 1275.3L1964.1 1566.3M1987.3 1275.2L1963.1 1566.2M1985.8 1274.6L1857 1589.9M2086.1 1277.1L1787 1446.8M2085 1275.2L1785.9 1444.9M2087.3 1277L2014.9 1548.4M2108.3 1299.1L1725.2 1322M2108.2 1298.1L1916.4 1453.8M2107.5 1297.3L1915.7 1453M2109.4 1299.2L1900.8 1528.1M1724.6 1321.2L1745.6 1382.2M1725.3 1320.5L1990.8 1423.5M1725.6 1320.9L1737.7 1440.2M1726.6 1319.5L1846.5 1438.8M1725.1 1321L1916.4 1453.8M1725.1 1321L1602.4 1463.6M1725.6 1320.8L1809.6 1487.2M1726.7 1321.1L1712.7 1524.3M1723.5 1320.9L1709.5 1524.1M1778.3 1339.7L1831 1338.7M1778.4 1337.1L2001.4 1345M1778.3 1338.2L2001.3 1346.1M1778.6 1339.7L1657.7 1370.3M1777.9 1338.4L1745.7 1381.7M1777.9 1340.2L2092.8 1418.9M1778.8 1338.7L1787.2 1446.3M1776.7 1338.8L1785.1 1446.4M1778.7 1338.4L1845.4 1440M1778.6 1339.1L1602.7 1464M1777.2 1339.8L2038.5 1600.9M1777.8 1338.6L1720.4 1687.9M1830.8 1338.2L1961.4 1396.9M1830.6 1338L1889.9 1407.9M1830.8 1338.2L1990.4 1424.5M1832 1337.6L1846 1440.2M1831 1337.7L2045.2 1456.6M1830.5 1338.6L2044.7 1457.5M1830.5 1338.6L2096.9 1466.8M1831 1337.7L2013.4 1548M1945.4 1332.3L2000.9 1348.1M1945.8 1331.3L1680 1355.5M1945.8 1330.8L1845 1440.3M1945 1330.1L1844.2 1439.6M1947.8 1330.2L2015.4 1547.4M1946.8 1330.5L2014.4 1547.7M1945 1330.1L1707 1577.7M1946.3 1331L1859 1590.7M2001.3 1346.1L1657.4 1368.8M2001.7 1347.6L1787.1 1447.3M2001.3 1346.6L1786.7 1446.3M2001.3 1346.6L2045.2 1456.6M2001.8 1346.6L1993.4 1484.6M2001.8 1346.7L1963.6 1566.3M1891.2 1355.4L1657.4 1368.8M1891.3 1356.4L1746.2 1382.5M1891.1 1356.4L2044.6 1383.8M1890.2 1355.9L1889.3 1407.6M1679.9 1355.5L1990.5 1424.5M1679.9 1355.5L2097.3 1466.4M1680.4 1354L1993.3 1483.6M1679.6 1356L2083 1538.3M1680.3 1354.6L1963.4 1565.8M1656.7 1370.1L1736.5 1441.1M1657.4 1369.3L1786.7 1446.3M1657.1 1370.3L1992.6 1485.6M1657.6 1368.8L2123.8 1507.9M1657.4 1369.3L1601.4 1589.6M1657 1369.7L1858.1 1590.9M1657.4 1369.3L1783.4 1611.5M1746.2 1381L1961.7 1395.4M1747 1381.5L1810 1486.9M1745.9 1382.5L2123.4 1508.9M1748.7 1381.6L1786 1611.1M1745.6 1382.1L1782.9 1611.6M1745.8 1382.4L2039.3 1600.2M1479.6 1382.9L1786.6 1446.8M1591 1392.3L2097.2 1466.9M1590.4 1392L1710.3 1524.9M1590.2 1391.6L1657.8 1637.5M2045 1383.7L1990.9 1424.4M2044.8 1383.8L1602.5 1464.1M2043.8 1383.9L2122.7 1509M2044.4 1382.3L1562.4 1509.2M2046.3 1384.7L1860.1 1591.9M2043.9 1382.6L1857.7 1589.8M2044.2 1383.1L1940.2 1609.4M1961.6 1396.4L1990.6 1424M1962.5 1395.1L2124.5 1507.1M1961.3 1396.8L2123.3 1508.8M1961 1395.5L1707.2 1577.5M1962.6 1396L2040.6 1599.4M1889.8 1407.6L1887.4 1494.4M1889.8 1407.6L1899.1 1527M1890.7 1407.3L2013.8 1547.7M1891.2 1408.1L1721.8 1688.5M1990.7 1425L1845.1 1441.3M1989.8 1425.4L2044.4 1458M1990.5 1423L1602.3 1462.6M1990.8 1424.5L1711.3 1524.7M1990.4 1423.5L1710.9 1523.7M1990.2 1423.7L1858.1 1590.2M1991.1 1423.9L2040.1 1599.7M2093.7 1417.2L2124.1 1508.2M2093.7 1418.3L1900.1 1527.9M2094.2 1417.5L2084.4 1537.4M2092.2 1417.3L2082.4 1537.2M2093.2 1417.4L1707.8 1578.4M2093.5 1417.8L1755.7 1718.7M1737.2 1440.3L1992.9 1484.6M1737.1 1440.8L2083.3 1537.8M1786.7 1446.3L2097.4 1465.9M1786.7 1446.3L1602.4 1463.6M1786.7 1446.3L2083.4 1537.3M1787.7 1446.3L1784.4 1611.5M1786.3 1446.7L1940.3 1610M1845.4 1440L1888.3 1494.1M1844.7 1439.9L1710.8 1523.8M1844.5 1439.4L1600.9 1588.7M1844.5 1440.3L1858 1590.5M1916.4 1452.8L2045.2 1455.6M1916.4 1453.8L2045.2 1456.6M1916.2 1453.3L1710.9 1523.7M1915.9 1452.9L1707.3 1577.5M1915.4 1453.4L1857.5 1590.1M1916.4 1453.8L1940.7 1609.6M2045.9 1458L1993.6 1486M2045.4 1457.1L1993.1 1485.1M2045.3 1457.1L1711.2 1524.7M2044.7 1456.8L2082.9 1537.5M2045.2 1456.6L1783.4 1611.5M2044.7 1455.7L1782.9 1610.6M2097.6 1466.9L1993.1 1485.6M1602.8 1463.2L1708.2 1578M1808.7 1487L1707.4 1578M1887.9 1493.9L1992.9 1484.1M1888 1494.9L1711.2 1524.7M1887.9 1494.4L1963.1 1566.2M1992.9 1484.6L1562.7 1510.2M1992.7 1484.1L1899.4 1526.5M1993.4 1484.7L1946.3 1704M2123.5 1507.4L1899.5 1526M2123 1507.5L2082.8 1536.4M2124.4 1509.1L1946.6 1704.6M1711.1 1524.2L1707.8 1578.4M1709 1524.1L1705.7 1578.3M1899.6 1527L2083.4 1537.3M1899.8 1526L2013.6 1547M1900.1 1526.8L1941.2 1609.4M2083.6 1538.9L2013.6 1549.6M2083.5 1537.8L1858.6 1591M2083.3 1536.8L1858.4 1590M2013.6 1548.5L1963.3 1566.7M2013.1 1547.6L1940.4 1609.2M1963.1 1566.7L1707.8 1578.9M1783.4 1611L2039.6 1599.3M1784.4 1611.8L1756.4 1718.6" stroke="#303030" stroke-width="0.65" fill="none"/>
<path d="M1907 1061.6L1710.1 1523.8M1850.5 1105.3L1774 1183.7" stroke="#cdeaf2" stroke-width="0.65" fill="none"/>
<path d="M1907 1062.1L1944.8 1330.9M1850.6 1104.9L1859 1202M1850.6 1104.8L1888.4 1494.3M1974.7 1125.1L2000.8 1346.7M1974.7 1125.1L2082.9 1537.4M1657.9 1152.9L1672.9 1205.6M1657.1 1153.4L1990.3 1424.4M1657.8 1152.7L1900 1526.7M1671.9 1205.5L1590.7 1391.1M2031.9 1229.2L2108.9 1297.3M2031.7 1229.8L2093.7 1417.2M2030.7 1230.2L2123.1 1508.6M1612.2 1254.7L1987.3 1274.7M1613.2 1254.8L1658.4 1368.9M1672.8 1265L1591.2 1391.3M1543.6 1281.3L1778.3 1338.7M1543.3 1282.3L2097.1 1466.9M1986.8 1274.3L1562.2 1509.3M2084.8 1276.2L1939.7 1609.2M2108.2 1298.1L1680 1355M1680.4 1355.3L1602.8 1463.9M1479.8 1381.9L1888 1493.9M1737.7 1440.3L1721.4 1688M1845.5 1440.1L1946.3 1703.7M1601.9 1464.5L1710.6 1525.1M1809 1486.4L1562.6 1509.2M1809.3 1487.9L1601.6 1590.1M1889.4 1494L1947.3 1703.5M1993.2 1485.6L1601.7 1590.6M1899.2 1526.6L1720.5 1687.6M1940.5 1609.1L1720.7 1687.5" stroke="#e0d2ec" stroke-width="0.65" fill="none"/>
<path d="M1907.6 1061.6L1773.2 1182.9M1909 1062.4L1712.1 1524.6M1849.7 1104.5L1773.2 1182.9M1850.5 1105.3L1591.6 1391.7M1849.6 1105L1887.4 1494.5M1975.2 1125L1672.8 1265M1975.7 1124.9L2001.8 1346.5M1974.2 1125.1L1991.9 1484.7M1975.7 1124.9L2083.9 1537.2M1656.9 1153.1L1671.9 1205.8M1657.4 1153L2001.3 1346.6M1656.4 1153.4L1785.7 1446.7M1773.4 1182.8L1543.4 1280.8M1773.6 1183.3L1858.5 1590.5M1672.4 1205.7L1725.1 1321M1672.9 1205.5L1746.6 1381.8M2031.7 1229.8L2124.1 1508.2M1612.2 1255.7L1987.3 1275.7M1611.8 1255.5L1736.8 1440.6M1673.7 1265.6L1592.1 1391.9M1543.4 1281.8L1916.2 1454.3M1987.3 1275.2L1720.9 1688M2086.8 1277L1941.7 1610M2108.2 1298.1L2013.4 1548M1679.6 1354.7L1602 1463.3M1680 1355L1658.8 1637.2M1479.7 1381.9L1890.3 1407.1M1479.6 1382.9L1887.8 1494.9M1590.2 1391.5L1601.4 1463.8M1889.8 1407.7L1945.3 1704M1736.8 1439.9L1601 1589.2M1845.5 1440.5L1721.4 1688.2M1844.5 1440.5L1945.3 1704.1M1602.4 1463.6L1711.1 1524.2M1808.9 1486.9L1601.2 1589.1M1887.9 1494.4L1720.9 1688M2123.2 1508L2039.2 1599.4M1900 1527.4L1721.3 1688.4M1720.9 1688L1755.4 1718.3" stroke="#dcebc2" stroke-width="0.65" fill="none"/>
<path d="M1908 1062L1945.8 1330.8M1851.1 1104.5L1991.6 1423.6M1975.2 1125L1992.9 1484.6M1658.4 1151.8L1991.6 1422.8M1658.4 1152.6L1787.7 1445.9M1857.8 1202.8L2044 1384.1M1671.4 1206.1L1724.1 1321.4M1671.9 1205.9L1745.6 1382.2M1672 1206L1940.3 1609.9M1782.4 1231.5L1886.4 1495M1784.7 1231.6L1563.5 1510.9M1784.4 1230.7L1963.6 1566M1784.9 1230.5L1941.7 1609.2M2032.8 1229.9L2046.3 1383.2M1611.2 1255.6L1656.4 1369.7M1612.6 1254.9L1737.6 1440M1671.9 1264.4L1590.3 1390.7M1672.6 1265.5L2044.5 1383.8M1673.2 1264L1962 1395.4M1674.1 1264.2L1788 1445.5M1673.5 1264.3L1845.7 1439.6M1673.2 1264.1L2097.8 1465M1673.2 1264.7L1900 1526.7M1673.5 1264.2L2014.1 1547.2M1987.3 1274.2L2085.8 1275.6M1987.7 1275.5L1845.4 1440.6M2086.1 1277L2001.6 1347M2108.3 1299.1L1680.1 1356M2107.9 1297.7L1887.6 1494M2109.2 1298.5L2014.4 1548.4M1725.4 1320L1961.9 1395.4M1778.9 1337.8L1890.9 1406.7M1778.7 1337.7L2097.8 1464.9M1778.8 1338.7L1783.9 1611.5M1831.2 1337.2L1891.4 1355.4M1832 1337.9L1784.4 1611.7M1944.7 1328.4L1890.1 1353.5M1944.3 1331.2L1960.1 1396.8M1946.8 1330.5L1993.9 1484.3M2001.3 1346.6L1887.9 1494.4M2001.8 1347.5L1711.6 1525.1M1891.6 1356.2L1708.2 1578.7M1679.3 1355.8L1786 1447.1M1679.7 1356L2044.9 1457.6M1679 1354.9L1657.8 1637.1M1657.8 1368.3L1845.4 1439.3M1746.1 1383L2044.7 1384.3M1746.3 1381L1990.8 1423M1745.4 1382.8L1898.9 1527.8M1745.7 1383L2083 1538.3M1744.7 1382.7L1857.1 1591.2M1592.2 1391.1L1603.4 1463.4M1591.7 1391.4L1563.2 1510.3M2044.4 1382.3L1844.7 1439.3M2044.2 1382.4L1915.9 1452.9M1961.4 1395.4L1890.1 1406.6M1962.9 1397.3L1889.2 1495.3M1963 1397.1L1901 1527.7M1890 1408.6L2044.9 1457.6M1890.2 1407.1L1602.3 1463.1M1890.8 1407.4L1963.6 1566M1890.8 1407.5L1946.3 1703.8M1990.5 1422.4L1737.1 1438.7M1990 1424.9L2123 1509.3M1990.5 1423.5L1562.6 1509.7M1990.6 1424L2013.4 1548M1989.6 1423.8L1962.1 1566M2196.6 1427.7L1899.9 1528M1737.3 1439.3L1916.5 1452.8M1737.6 1440.7L1601.8 1590M1736.7 1440.3L1754.9 1718.3M1787.9 1444.6L1964.3 1564.5M2045.5 1457L1858.8 1590.9M2044.9 1456.2L1720.6 1687.6M2097.5 1466.9L1888 1495.4M1809.1 1487.4L1562.7 1510.2M1810 1486.9L1859.4 1590M1888.4 1494.3L1946.3 1703.8M1900.5 1527.6L1859.4 1591.1M1900.5 1528.3L1784.3 1612.8" stroke="#9cd6e8" stroke-width="0.65" fill="none"/>
<path d="M1671 1206.4L1807.7 1488.1M1785.4 1230.3L1889.4 1493.8M1784.4 1230.7L1900.1 1526.8M1783 1231.5L2012.5 1548.6M1877.3 1235L2000.9 1347M1877.7 1234.6L1890.3 1407.6M1878.7 1235L1787.7 1446.7M1876.7 1234.6L1886.9 1494.4M1672.6 1265.5L1830.8 1338.2M1673 1264.5L2044.9 1382.8M1987 1274.2L1657.1 1368.3M1986.8 1275.5L2096.9 1466.2M1987.3 1275.2L1707.8 1578.4M2085.8 1276.6L1945.8 1330.8M2085.6 1275.6L1679.8 1354M2108.9 1299.5L1891 1409M1725.7 1319L1962.2 1394.4M1725.1 1321L2123.6 1508.4M1724.5 1321.8L2012.8 1548.8M1778.3 1338.7L1890.3 1407.6M1778.8 1338.9L1711.6 1524.4M1778.3 1338.7L2083.4 1537.3M1945.1 1329.4L1890.5 1354.5M1946.8 1332L1712.1 1525.4M1999.6 1345.3L1886.2 1493.1M1890.8 1356.3L2083 1537.7M1679.7 1354.6L1657.1 1368.9M1680.3 1354L1890.6 1406.6M1657.5 1368.3L1746.2 1381M1657.4 1369.3L1916.4 1453.8M1657.1 1369.7L1808.8 1487.8M1746 1382.5L2045.1 1457.1M1746.4 1381.6L1888.2 1494M1745.1 1381.7L1710.1 1523.9M1746.5 1381L2083.8 1536.3M1745.6 1382.2L1858 1590.7M2044.7 1383.3L1992.9 1484.6M1991.2 1423.1L2124.2 1507.5M1991.8 1425L1900.8 1528M1991.6 1423.8L2014.4 1547.8M1992.7 1424.4L1965.2 1566.6M1786.2 1446.6L1808.6 1487.7M1786.7 1446.3L1711.1 1524.2M1844.8 1441.3L2123.4 1509.4M1844 1439.9L1782.4 1611.1M2096.9 1465L1858 1589.6M1888.7 1495.1L1784.2 1612.2M1993.9 1485L1964.1 1566.6M2013.7 1549L1858.8 1591.5M1858.1 1592L1940.3 1611.1" stroke="#c3a8dc" stroke-width="0.65" fill="none"/>
<path d="M1909 1061.9L1946.8 1330.7M1849.6 1104.9L1858 1202M1849.1 1105.3L1989.6 1424.4M1656.9 1153.2L1724.6 1321.2M1657.4 1153L1778.3 1338.7M1657.7 1152.6L1990.9 1423.6M1657 1153.3L1899.2 1527.3M1773.6 1183.3L1858.5 1202M1773.8 1182.8L1877.9 1234.1M1773.6 1183.3L1672.8 1265M1858.5 1202L1612.2 1255.2M1672.4 1205.7L1783.9 1230.9M1672.9 1205.9L1591.7 1391.5M1672.8 1205.4L1941.1 1609.3M1783.9 1230.9L2085.8 1276.6M1783.9 1230.9L1562.7 1510.2M1877.7 1234.1L1612.2 1254.7M1878.1 1234.2L2124 1508M2030.5 1230.8L2107.5 1298.9M2030.7 1230.2L2092.7 1417.6M1612.2 1255.2L1778.3 1338.7M1612.2 1255.2L1657.4 1369.3M1672.4 1265.9L2097 1466.8M1543.8 1280.3L1778.5 1337.7M1543.6 1281.3L2097.4 1465.9M1543.6 1281.3L1887.9 1494.4M1987.3 1275.2L1562.7 1510.2M2108.1 1297.1L1679.9 1354M1725.6 1321.2L1601.9 1589.8M1479.7 1382.9L1961.6 1396.9M1479.9 1381.9L1899.8 1526.5M1590.7 1391.2L1562.2 1510.1M1990.7 1424.5L1562.8 1510.7M2196.3 1426.7L1992.9 1484.6M2196 1425.7L1899.3 1526M2196.1 1426.2L1707.6 1577.9M1736.7 1440.3L1720.4 1688M1737.7 1440.3L1755.9 1718.3M2045.5 1457L1721.2 1688.4M1602.4 1463.6L1601.4 1589.6M1602.2 1464.1L1940.5 1610.1M1809.2 1488.4L1562.8 1511.2M1886.4 1494.8L1944.3 1704.3M1992.6 1483.6L1601.1 1588.6M1899.4 1526.5L1658.6 1636.7M1940.7 1609.6L2039.6 1599.8M1940.9 1610.1L1721.1 1688.5" stroke="#bdd78c" stroke-width="0.65" fill="none"/>
<path d="M1774 1182.9L1991 1423.6M1859.2 1201.2L2045.4 1382.5M1858 1201.8L1736.7 1440.1M1859 1201.9L1900.1 1526.9M1672.4 1205.7L1786.7 1446.3M1672.9 1205.5L1809.6 1487.2M1671.9 1205.9L1808.6 1487.6M1783.9 1230.4L1877.7 1234.1M1783.9 1231.4L1877.7 1235.1M1783.9 1230.9L1746.1 1382M1783.5 1231.3L1990.2 1424.4M1784.4 1230.7L1888.4 1494.2M1783.4 1231.1L1899.1 1527.2M1784.8 1230.3L2014.3 1547.4M1783.9 1230.9L2013.4 1548M1783.4 1231.1L1962.6 1566.4M1783.9 1230.9L1940.7 1609.6M1782.9 1231.3L1939.7 1610M1878.8 1233.4L2002.4 1345.4M1877.3 1234.3L1745.7 1381.7M1878.7 1234.5L1891.3 1407.5M1877.7 1234.6L1786.7 1446.3M1878.7 1234.6L1888.9 1494.4M1878.2 1234.5L1963.6 1566.1M1877.2 1234.4L1707.3 1578.2M2031.7 1230L2045.2 1383.3M2030.7 1230L2044.2 1383.3M2032 1230.7L1845.8 1441M2030.4 1229.3L1844.2 1439.6M2032.2 1229.9L2046.2 1456.5M2031.2 1230L2045.2 1456.6M2031.7 1230.3L1888.4 1494.7M2031.2 1230L1858.5 1590.5M1672.5 1265.4L1778 1339.1M1673 1264.5L1831.2 1337.2M1673.3 1263.5L2045.2 1381.8M1672.4 1266L1961.2 1397.4M1672.6 1265.5L1990.4 1424.5M1673.2 1264.7L1787.1 1446M1672.4 1265.3L1786.3 1446.6M1672.8 1265L1845 1440.3M1672.4 1265.3L1899.2 1527.3M1672.8 1265L2013.4 1548M1987.3 1276.2L2085.8 1277.6M1988.1 1275.8L1946.6 1331.4M1987.3 1275.2L1945.8 1330.8M1987.3 1275.2L1891.2 1355.9M1987.3 1275.2L1657.4 1369.3M1986.9 1274.9L1844.6 1440M1987.8 1274.9L2097.9 1465.6M1986.5 1274.5L1808.3 1486.7M1987.3 1275.2L2083.4 1537.3M1988.1 1275.9L1708.6 1579.1M2085.4 1275.6L1945.4 1329.8M2086.8 1277.8L2002.3 1347.8M2084.8 1275.4L2000.3 1345.4M2086 1277.1L1891.4 1356.4M2085.6 1276.1L1891 1355.4M2086 1277.6L1680.2 1356M2085.8 1276.6L2044.7 1383.3M2086.2 1276.9L1900 1527.3M2108.1 1297.6L1778.2 1338.2M2108.6 1298.4L2045.1 1383.6M2108.2 1298.1L1961.6 1396.4M2108.4 1298.6L1890.5 1408.1M2108 1297.6L1890.1 1407.1M2108.2 1298.1L1845 1440.3M2107.2 1296.9L1886.9 1493.2M1725 1321.5L1891.1 1356.4M1724.5 1323L1961 1398.4M1725.6 1320.1L1890.8 1406.7M1725.1 1321L1890.3 1407.6M1724.6 1321.2L1786.2 1446.5M1725.5 1320L2124 1507.4M1725.1 1321L2013.4 1548M1778.4 1339.2L1591.3 1391.8M1778.2 1338.2L1591.1 1390.8M1778.4 1338.2L2044.8 1382.8M1778.2 1339.2L2044.6 1383.8M1778.6 1337.7L1961.9 1395.4M1778 1339.7L1961.3 1397.4M1777.2 1340.5L1889.2 1409.4M1778.3 1338.7L1737.2 1440.3M1778.5 1338.2L2045.4 1456.1M1777.9 1339.7L2097 1466.9M1777.8 1338.5L1710.6 1524M1776.8 1338.2L1709.6 1523.7M1777.7 1339.6L2082.8 1538.2M1777.8 1338.7L1782.9 1611.5M1831 1337.7L1945.8 1330.8M1830.5 1339.2L1890.7 1357.4M1830.9 1337.2L1657.3 1368.8M1830.7 1337.2L1602.1 1463.1M1831.4 1337.3L1993.3 1484.2M1831.9 1338.3L1712 1524.8M1831 1337.7L1711.1 1524.2M1831.5 1337.5L1900.1 1526.8M1830.5 1337.9L1899.1 1527.2M1830 1337.5L1782.4 1611.3M1831.8 1337L2040.4 1599.1M1946 1331.3L1891.4 1356.4M1945.6 1330.3L1891 1355.4M1947.3 1330.4L1963.1 1396M1945.3 1330.9L1961.1 1396.5M1945.4 1331.1L2044.8 1456.9M1945.8 1330.8L1992.9 1484.6M1944.8 1329.6L1710.1 1523M2001.3 1347.1L1891.2 1356.4M2001.6 1346.2L2045 1382.9M2001 1346.1L1890 1407.1M2002.1 1347.2L1888.7 1495M2000.8 1345.7L1710.6 1523.3M2001.3 1346.6L1707.8 1578.4M2000.8 1346.7L2039.1 1599.9M1999.7 1346.8L2038 1600M1891.5 1355.5L1990.9 1423.6M1891.5 1356.4L1737.5 1440.8M1890.9 1355.4L1736.9 1439.8M1890.7 1356L1915.9 1453.9M1891.7 1355L2097.9 1465M1891.4 1356.4L1602.6 1464.1M1891.2 1355.9L1887.9 1494.4M1890.2 1355.9L1886.9 1494.4M1891.6 1355.5L2083.8 1536.9M1890.8 1355.6L1707.4 1578.1M1891.2 1355.9L1940.7 1609.6M1680.3 1355.4L1657.7 1369.7M1679.7 1356L1890 1408.6M1680 1355L1737.2 1440.3M1680.7 1354.2L1787.4 1445.5M1680 1355L2045.2 1456.6M1680.5 1354.9L1708.3 1578.3M1657.4 1369.3L1746.1 1382M1657.4 1369.3L1961.6 1396.4M1657.4 1369.3L1845 1440.3M1657.7 1368.3L1916.7 1452.8M1657.1 1370.3L1916.1 1454.8M1657.6 1368.3L2097.6 1464.9M1657.2 1370.3L2097.2 1466.9M1657.7 1368.9L1809.4 1487M1656.9 1369.4L1707.3 1578.5M1746.1 1382L2044.7 1383.3M1745.9 1383L1990.4 1425M1746.2 1381.5L2045.3 1456.1M1745.8 1382.4L1887.6 1494.8M1746.1 1382L1711.1 1524.2M1746.1 1382L1899.6 1527M1746.1 1382L2083.4 1537.3M1747.5 1381.3L1859.9 1589.8M1591.2 1390.3L1961.6 1395.4M1591.2 1391.3L1961.6 1396.4M1591.3 1390.8L1993 1484.1M2044.7 1383.3L1786.7 1446.3M2044.7 1383.3L1845 1440.3M2045.2 1384.2L1916.9 1454.7M2045.6 1383.8L1993.8 1485.1M2044.5 1382.8L1710.9 1523.7M1961.8 1397.4L1890.5 1408.6M1961.3 1394.3L1890 1405.5M1961.4 1395.9L1844.8 1439.8M1961.9 1396L2045.5 1456.2M1962 1396.7L1888.3 1494.7M1961.2 1396.1L1887.5 1494.1M1962.1 1396.6L1900.1 1527.2M1962.4 1395.7L2084.2 1536.6M1960.8 1397.1L2082.6 1538M1962.1 1396.2L2013.9 1547.8M1963.2 1396.4L1964.7 1566.2M1960 1396.4L1961.5 1566.2M1961.6 1396.4L1783.4 1611.5M1890.2 1408.6L2093.1 1418.4M1890.5 1408.6L1737.4 1441.3M1890.1 1406.6L1737 1439.3M1890.5 1408.1L1786.9 1446.8M1889.8 1407.9L1915.9 1454.1M1890.3 1407.6L2045.2 1456.6M1890.4 1408.1L1602.5 1464.1M1890 1406.1L1602.1 1462.1M1889.9 1407.2L1808.7 1487M1889.8 1407.8L1962.6 1566.4M1890.7 1408L1708.2 1578.8M1990.6 1424.5L1737.2 1440.8M1990.6 1423.5L1737.2 1439.8M1990.6 1424L2097.4 1465.9M1991.1 1424L1993.4 1484.6M1991.7 1422.2L2124.7 1506.6M1990.6 1424L2123.6 1508.4M1990.2 1423.7L1899.2 1526.7M1989.4 1423L1898.4 1526M1991.4 1423.3L2084.2 1536.6M1989.8 1424.7L2082.6 1538M1989.6 1424.2L2012.4 1548.2M1991.6 1424.2L1964.1 1566.4M1988.5 1423.6L1961 1565.8M1990.3 1423.5L1707.5 1577.9M2093.2 1416.9L1786.7 1445.8M2093.1 1415.8L1786.6 1444.7M2093.8 1418.3L1993.5 1485.5M2093.2 1417.4L1992.9 1484.6M1737.1 1440.8L1786.6 1446.8M1737.1 1441.3L1916.3 1454.8M1737.2 1440.3L2045.2 1456.6M1737.5 1439.9L1809.4 1487M1737 1440.8L1887.7 1494.9M1737.5 1439.8L1963.4 1565.7M1787.2 1446L1809.6 1487.1M1786.8 1445.8L1993 1484.1M1786.6 1446.8L1992.8 1485.1M1787.5 1447L1711.9 1524.9M1786.4 1446.7L1899.3 1527.4M1787.3 1445.4L1963.7 1565.3M1786.1 1447.2L1962.5 1567.1M1787 1445.9L2039.9 1599.4M1845 1440.3L1916.4 1453.8M1844.8 1441.3L1916.2 1454.8M1845 1440.3L2123.6 1508.4M1845 1440.3L1899.6 1527M1845 1440.3L1783.4 1611.5M1844.7 1440.7L2039.3 1600.2M1845.8 1441L1659.6 1637.9M1916.4 1454.3L1602.4 1464.1M1916.4 1453.3L1602.4 1463.1M2045.2 1456.6L1963.1 1566.2M2046.1 1457.9L1859.4 1591.8M2044.9 1456.2L1858.2 1590.1M2097.4 1465.4L1809.1 1486.9M2097.4 1465.9L1887.9 1494.4M2097.2 1465.4L1899.4 1526.5M2097.9 1466.8L1859 1591.4M1602.5 1462.6L1809.2 1486.4M1602.3 1464.6L1809 1488.4M1602.3 1464.1L1899.5 1527.5M1809.2 1486.4L2123.7 1507.4M1809.1 1487.4L2123.6 1508.4M1809.1 1487.4L1858.5 1590.5M1887.9 1493.9L2123.6 1507.9M1887.1 1493.7L1782.6 1610.8M1993 1485.1L1711.2 1524.7M1993.4 1484.4L2013.9 1547.8M1991.9 1484.2L1962.1 1565.8M1990.9 1483.9L1961.1 1565.5M1992.9 1484.6L1783.4 1611.5M1711.1 1523.2L1899.6 1526M1711.1 1524.2L1899.6 1527M1899.6 1527L1858.5 1590.5M1899.9 1527.4L1783.7 1611.9M1899.3 1526.6L1783.1 1611.1M1899.8 1526.5L2039.8 1599.3M2013.4 1548L1858.5 1590.5M1858.6 1590L1940.8 1609.1M1858.4 1591L1940.6 1610.1" stroke="#a6c65c" stroke-width="0.65" fill="none"/>
<path d="M1908.4 1062.4L1774 1183.7M1908 1062L1711.1 1524.2M1849.7 1104.5L1590.8 1390.9M1657.9 1152.8L1725.6 1320.8M1656.4 1154.2L1989.6 1425.2M1657.4 1153L1786.7 1446.3M1773.4 1183.8L1877.5 1235.1M1773.8 1183.8L1543.8 1281.8M1673.4 1205.3L1726.1 1320.6M1783.1 1230.2L1561.9 1509.5M1672.8 1265L2097.4 1465.9M1543.9 1280.3L2097.7 1464.9M2085.8 1276.6L1940.7 1609.6M1681 1355.1L1659.8 1637.3M1591.2 1391.3L1602.4 1463.6M2196.3 1426.7L1899.6 1527M2196.5 1427.2L1708 1578.9M1844.5 1440.1L1720.4 1687.8M1602.9 1462.7L1711.6 1523.3" stroke="#a6a6a6" stroke-width="0.65" fill="none"/>
<path d="M1850.1 1104.9L1990.6 1424M1976.2 1124.9L1993.9 1484.5M1773.2 1183.7L1990.2 1424.4M1858.5 1202L2044.7 1383.3M1859 1202.2L1737.7 1440.5M1858 1202.1L1899.1 1527.1M1673.8 1205L1810.5 1486.7M1784.3 1230.5L1991 1423.6M1783.4 1231.1L1887.4 1494.6M1785.6 1229.7L2015.1 1546.8M1782.2 1232.1L2011.7 1549.2M1877.7 1235.1L1612.2 1255.7M1878.1 1234.2L2001.7 1346.2M1876.6 1235.8L2000.2 1347.8M1878.1 1234.9L1746.5 1382.3M1876.7 1234.7L1889.3 1407.7M1876.7 1234.2L1785.7 1445.9M1877.7 1234.6L1887.9 1494.4M1877.3 1235L2123.2 1508.8M1877.2 1234.7L1962.6 1566.3M1878.2 1234.8L1708.3 1578.6M2031.2 1230L2108.2 1298.1M2029.6 1230.1L2043.1 1383.4M2031.2 1230L1845 1440.3M2030.2 1230.1L2044.2 1456.7M2030.7 1229.7L1887.4 1494.1M1673.1 1264.6L1778.6 1338.3M1672.3 1266.5L2044.2 1384.8M1672.8 1265L1961.6 1396.4M1673 1264.5L1990.8 1423.5M1671.5 1265.8L1785.4 1447.1M1672.1 1265.7L1844.3 1441M1672.1 1265.8L2012.7 1548.8M1543.4 1282.3L1778.1 1339.7M1543.8 1280.8L1916.6 1453.3M1987.3 1275.2L2085.8 1276.6M1986.5 1274.6L1945 1330.2M1987.6 1276.2L1657.7 1370.3M1988.1 1275.9L1809.9 1488.1M1987.3 1275.2L1809.1 1487.4M1987.8 1276.1L1563.2 1511.1M1986.5 1274.5L1707 1577.7M2086.2 1277.6L1946.2 1331.8M2085.5 1276.2L2001 1346.2M2085.8 1276.6L1680 1355M2086.8 1277L2045.7 1383.7M2084.8 1276.2L2043.7 1382.9M2085.4 1276.3L1899.2 1526.7M2108.3 1298.6L1778.4 1339.2M2107.8 1297.8L2044.3 1383M2107.5 1296.7L1889.6 1406.2M2109.2 1299.3L1888.9 1495.6M2108.5 1298.5L1888.2 1494.8M2107.2 1297.7L2012.4 1547.6M1725.2 1320.5L1891.3 1355.4M1725.1 1321L1961.6 1396.4M1724.8 1322L1961.3 1397.4M1724.6 1321.9L1889.8 1408.5M1725.6 1320.8L1787.2 1446.1M1724.7 1322L2123.2 1509.4M1725.7 1320.2L2014 1547.2M1724.6 1320.8L1600.9 1589.4M1778.3 1338.7L1961.6 1396.4M1779.4 1336.9L1891.4 1405.8M1777.7 1339.6L1889.7 1408.5M1778.1 1339.2L2045 1457.1M1778.3 1338.7L2097.4 1465.9M1779.8 1339.2L1712.6 1524.7M1778.9 1337.8L2084 1536.4M1831.5 1336.2L1891.7 1354.4M1830.8 1338.2L1891 1356.4M1831.1 1338.2L1657.5 1369.8M1831.3 1338.2L1602.7 1464.1M1830.6 1338.1L1992.5 1485M1830.1 1337.1L1710.2 1523.6M1831 1337.7L1783.4 1611.5M1831 1337.7L2039.6 1599.8M1830.2 1338.4L2038.8 1600.5M1946.9 1333.2L1892.3 1358.3M1946.5 1332.2L1891.9 1357.3M1946.3 1330.7L1962.1 1396.3M1946.2 1330.5L2045.6 1456.3M1944.8 1331.1L1991.9 1484.9M1946.1 1331.2L1711.4 1524.6M1945.5 1330.4L1710.8 1523.8M2001.3 1346.1L1891.2 1355.4M2001 1347L2044.4 1383.7M2001.6 1347.1L1890.6 1408.1M2003 1347.9L1889.6 1495.7M2000.5 1346L1887.1 1493.8M2001.3 1346.6L1711.1 1524.2M2002.9 1346.4L2041.2 1599.6M2001.8 1346.5L2040.1 1599.7M1890.9 1356.3L1990.3 1424.4M1891.7 1355.8L1916.9 1453.7M1891.2 1355.9L2097.4 1465.9M1890.7 1356.8L2096.9 1466.8M1891 1355.4L1602.2 1463.1M1892.2 1355.9L1888.9 1494.4M1892.4 1356.9L1709 1579.4M1890 1354.9L1706.6 1577.4M1892.2 1355.7L1941.7 1609.4M1890.2 1356.1L1939.7 1609.8M1680 1355L1890.3 1407.6M1680.9 1354.4L1738.1 1439.7M1679.1 1355.6L1736.3 1440.9M1680 1355L1786.7 1446.3M1680.3 1354L2045.5 1455.6M1679.5 1355.1L1707.3 1578.5M1657.3 1370.3L1746 1383M1657 1370.3L1844.6 1441.3M1657.4 1369.3L2097.4 1465.9M1657.9 1369.2L1708.3 1578.3M1746.1 1381L2044.7 1382.3M1746.1 1382L1990.6 1424M1746.5 1380.5L2045.6 1455.1M1745.7 1383.5L2044.8 1458.1M1747.1 1380.8L1888.9 1493.2M1745.1 1383.2L1886.9 1495.6M1747.1 1382.3L1712.1 1524.5M1746.8 1381.2L1900.3 1526.2M1746.6 1381.8L1859 1590.3M1479.7 1381.9L1961.6 1395.9M1479.7 1382.9L1890.3 1408.1M1479.5 1382.9L1899.4 1527.5M1591.2 1392.3L1961.6 1397.4M1591.1 1391.8L1992.8 1485.1M2045 1384.3L1845.3 1441.3M2044.7 1383.3L1916.4 1453.8M2043.8 1382.8L1992 1484.1M2044.9 1383.8L1711.3 1524.7M1961.9 1398.5L1890.6 1409.7M1961.6 1396.4L1890.3 1407.6M1961.8 1396.9L1845.2 1440.8M1961.3 1396.8L2044.9 1457M1960.3 1395.5L1886.6 1493.5M1961.1 1396.2L1899.1 1526.8M1960.2 1395.7L1898.2 1526.3M1961.6 1396.4L2083.4 1537.3M1961.1 1396.6L2012.9 1548.2M1962.1 1396.4L1963.6 1566.2M1961.1 1396.4L1962.6 1566.2M1890.4 1406.6L2093.3 1416.4M1890.3 1407.6L2093.2 1417.4M1890.3 1407.6L1737.2 1440.3M1890.1 1407.1L1786.5 1445.8M1890.8 1407.3L1916.9 1453.5M1890.6 1406.6L2045.5 1455.6M1890.6 1409.1L1602.7 1465.1M1890.7 1408L1809.5 1487.8M1889.9 1407.2L1707.4 1578M1990.7 1425.6L1737.3 1441.9M1991 1423L2097.8 1464.9M1990.2 1425L2097 1466.9M1990.1 1424L1992.4 1484.6M1989.5 1425.8L2122.5 1510.2M1991 1424.3L1900 1527.3M1990.6 1424L2083.4 1537.3M1990.6 1424L1963.1 1566.2M1990.9 1424.5L1708.1 1578.9M2093.3 1419L1786.8 1447.9M2093.2 1417.9L1786.7 1446.8M2092.6 1416.5L1992.3 1483.7M1737.3 1439.8L1786.8 1445.8M1737.2 1440.3L1916.4 1453.8M1736.9 1440.7L1808.8 1487.8M1737.4 1439.8L1888.1 1493.9M1736.9 1440.8L1962.8 1566.7M1788.1 1445.5L1810.5 1486.6M1785.3 1447.1L1807.7 1488.2M1785.9 1445.6L1710.3 1523.5M1787 1445.9L1899.9 1526.6M1786.7 1446.3L1963.1 1566.2M1785.5 1448L1961.9 1567.9M1786.4 1446.7L2039.3 1600.2M1845.2 1439.3L1916.6 1452.8M1845.2 1439.3L2123.8 1507.4M1846 1440.7L1784.4 1611.9M1845.3 1439.9L2039.9 1599.4M1845 1440.3L1658.8 1637.2M1844.2 1439.6L1658 1636.5M2044.3 1455.3L1857.6 1589.2M2097.4 1466.4L1809.1 1487.9M2097.3 1464.9L1887.8 1493.4M2097.6 1466.4L1899.8 1527.5M2097.4 1465.9L1858.5 1590.5M1602.4 1463.6L1809.1 1487.4M1602.5 1463.1L1899.7 1526.5M1602.6 1463.1L1940.9 1609.1M1809 1488.4L2123.5 1509.4M1808.2 1487.9L1857.6 1591M1887.9 1494.9L2123.6 1508.9M1887.9 1494.4L1783.4 1611.5M1887.4 1494.5L1945.3 1704M1992.8 1484.1L1711 1523.7M1992.4 1484.8L2012.9 1548.2M1994.9 1485.3L1965.1 1566.9M1992.9 1484.6L1963.1 1566.2M1992.9 1484.6L1601.4 1589.6M2124 1508.8L2040 1600.2M1711.1 1525.2L1899.6 1528M1898.7 1526.4L1857.6 1589.9M1898.7 1525.7L1782.5 1610.2M1899.4 1527.5L2039.4 1600.3M1899.8 1527.5L1659 1637.7M2013.1 1547L1858.2 1589.5M1858.9 1589L1941.1 1608.1" stroke="#303030" stroke-width="0.65" fill="none"/>
<path d="M1907.7 1061.6L1849.8 1104.5M1907.1 1060.7L1849.2 1103.6M1906.9 1063.1L1974.1 1126.1M1849.9 1106.5L1975 1126.6M1479.6 1384L1591.1 1392.9M1481 1383.2L1544.9 1282.1M2084.7 1277.7L2107.1 1299.2M1719.9 1689.2L1754.4 1719.5" stroke="#cdeaf2" stroke-width="0.65" fill="none"/>
<path d="M1908.5 1061.8L2045.2 1383.1M1850.6 1104.8L1891.7 1355.8M1849.4 1105.7L2195.6 1427.5M1774.8 1184.3L1592.4 1392.3M1773.2 1183L1602 1463.3M1773.6 1183.3L2039.6 1599.8M1859.1 1201.1L2196.9 1425.8M1672.4 1205.7L2045.2 1456.6M1672.4 1205.7L2013.4 1548M1671.9 1205.9L1858 1590.7M1784.7 1231.5L1603.2 1464.2M2031.5 1229.6L2086.1 1276.2M2031.2 1230L2039.6 1599.8M2085.6 1275.6L1657.2 1368.3M2107.9 1297.7L1707.5 1578M1831.4 1338.1L1601.8 1590M1746.6 1382L1721.4 1688M1479.7 1382.9L1591.2 1391.8M1479.7 1382.4L1737.2 1440.3M1591.4 1390.8L2013.6 1547.5M1592.2 1391.2L1602.4 1589.5M1590.7 1391.5L1720.4 1688.2M2093.3 1416.4L2196.4 1425.7M2196.3 1426.7L2039.6 1599.8M2046.3 1457.8L1756.5 1719.5M2097.4 1465.4L1602.4 1463.1M2123.4 1507.9L2013.2 1547.5M1898.1 1527.4L1944.3 1704.3M1707.8 1578.9L2039.6 1600.3M1940.7 1609.6L1945.8 1703.9M1908.3 1062.4L1850.4 1105.3M1908.4 1061.6L1975.6 1124.6M1850.2 1104.4L1975.3 1124.5M1479.7 1381.9L1591.2 1390.8M1479.3 1382.1L1543.2 1281M2086.2 1276.2L2108.6 1297.7M1721.2 1687.6L1755.7 1717.9" stroke="#e0d2ec" stroke-width="0.65" fill="none"/>
<path d="M1908.3 1062.4L1850.4 1105.3M1907.5 1062.2L2044.2 1383.5M1850.8 1104.1L2197 1425.9M1974.7 1124.8L1890.7 1355.7M1975.2 1125L1809.1 1487.4M1657.4 1153L1831 1337.7M1773.6 1183.3L1562.7 1510.2M1858.7 1201.5L2086 1276.1M1672.4 1205.7L1877.7 1234.6M1672.8 1206.1L1480.1 1382.8M1783.9 1230.9L1602.4 1463.6M1543.5 1281.8L2001.2 1347.1M1543.6 1281.3L1961.6 1396.4M1987.4 1275.7L1479.8 1382.9M2086 1277.6L1657.6 1370.3M2107.7 1298.1L2096.9 1465.9M2001.3 1346.6L1755.4 1718.3M1745.6 1382L1720.4 1688M1479.7 1381.9L1591.2 1390.8M1479.9 1381.4L1737.4 1439.3M1479.7 1382.4L1809.1 1487.4M1591 1391.8L2013.2 1548.5M1591.4 1390.8L1963.3 1565.7M1591.7 1391.1L1721.4 1687.8M2196.7 1427L2124 1508.7M2196.3 1426.7L1783.4 1611.5M2197.1 1427.4L2040.4 1600.5M2097.4 1466.4L1602.4 1464.1M2096.9 1465.7L2039.1 1599.6M2012.5 1548.5L2038.7 1600.3M1707.8 1577.9L2039.6 1599.3M1940.8 1610.1L1658.9 1637.7M1941.7 1609.5L1946.8 1703.8M1908.9 1063.3L1851 1106.2M1909.1 1060.9L1976.3 1123.9M1850.3 1103.3L1975.4 1123.4M1479.8 1380.8L1591.3 1389.7M1478.4 1381.6L1542.3 1280.5M2086.9 1275.5L2109.3 1297M1721.9 1686.8L1756.4 1717.1" stroke="#dcebc2" stroke-width="0.65" fill="none"/>
<path d="M1906.6 1062.6L2043.3 1383.9M1908 1062L1916.4 1453.8M1976.1 1124.5L2032.1 1229.5M1975.7 1125.2L1891.7 1356.1M1974.7 1125L1990.1 1424M1658 1152.2L2045.8 1455.8M1656.9 1153.2L1808.6 1487.6M1773.4 1183.8L2085.6 1277.1M1774 1183.6L1591.6 1391.6M1774.9 1184.1L1603.7 1464.4M1772.8 1183.9L1992.1 1485.2M1858.3 1202.5L2085.6 1277.1M1859.2 1202.8L1725.8 1321.8M1859.3 1202.7L1603.2 1464.3M1672.5 1204.7L1877.8 1233.6M1673 1204.8L2045.8 1455.7M1783.9 1230.9L2045.2 1456.6M1784.4 1231L1721.4 1688.1M1877.2 1234.5L1782.9 1611.4M2032.2 1230.1L2014.4 1548.1M1611.4 1255.9L1808.3 1488.1M1544.4 1280.7L1784.2 1610.9M1986.8 1275.1L1940.2 1609.5M2085.8 1276.6L1657.4 1369.3M2086.9 1277.7L1962.7 1397.5M2086.1 1277L1890.6 1408M2107.9 1297.6L1601.1 1589.1M1725.7 1321.9L1658 1370.2M1778.2 1339.2L1891.1 1356.4M1779 1337.9L2014.1 1547.2M1832 1338.1L1787.7 1446.7M1945.3 1331.7L2092.7 1418.3M1945.8 1330.8L2083.4 1537.3M2001.3 1346.6L2097.4 1465.9M2002.3 1346.8L1941.7 1609.8M1891.8 1355L2045.8 1455.7M1892.5 1355.1L2040.9 1599M1679.2 1355.7L1808.3 1488.1M1680.8 1354.4L1859.3 1589.9M1746.4 1382.4L1563 1510.6M1591.2 1392.9L2044.7 1384.9M1591.5 1390.3L1787 1445.3M2043.2 1383L2011.9 1547.7M2044.2 1383.3L2039.1 1599.8M1961.4 1395.4L1737 1439.3M1961.3 1394.9L1602.1 1462.1M1962.1 1397.3L1711.6 1525.1M1991.2 1424.9L1888.5 1495.3M1989.6 1423.7L1939.7 1609.3M2093.1 1418.4L2196.2 1427.7M2195.9 1426.4L2123.2 1508.1M2196.7 1427.7L1783.8 1612.5M1737.2 1440.3L1602.4 1463.6M1737.4 1439.8L2039.8 1599.3M1786.7 1446.3L1707.8 1578.4M1844.5 1440.6L1940.2 1609.9M1916.4 1453.8L1809.1 1487.4M2044.1 1455.4L1754.3 1717.1M2097 1466.2L2123.2 1508.7M1808.7 1488.9L2013 1549.5M1808.6 1487.3L1782.9 1611.4M1809.8 1488.1L1659.5 1637.9M1888.4 1494.6L1859 1590.7M1992.7 1484.1L1658.6 1636.7M1900.4 1525.7L1963.9 1564.9M1901.1 1526.6L1947.3 1703.5M2014.3 1547.5L2040.5 1599.3M1858.9 1592L1783.8 1613M1858.6 1591L1658.9 1637.7M1784.2 1612.2L1721.7 1688.7" stroke="#9cd6e8" stroke-width="0.65" fill="none"/>
<path d="M1772.6 1184.5L1944.8 1332M1859.5 1201.7L1964.1 1565.9M1671.1 1206.6L1843.7 1441.2M1783.1 1231.6L1992.1 1485.3M1878.2 1234.9L1711.6 1524.5M2032 1230.7L1809.9 1488.1M1612.5 1254.8L1845.3 1439.9M1611.6 1256.1L1915.8 1454.7M1672.8 1264L1987.3 1274.2M1988.2 1276.5L1738.1 1441.6M1987.3 1275.2L1786.7 1446.3M1988 1276L1711.8 1525M1986.3 1275.3L2012.4 1548.1M1988.9 1275.4L1942.3 1609.8M2086.7 1277.9L1891.2 1408.9M1724.9 1322L1830.8 1338.7M1724.2 1321.5L1857.6 1591M1725.1 1321L1940.7 1609.6M1778.4 1338.2L1891.3 1355.4M1778.3 1338.7L1963.1 1566.2M1831 1337.2L2001.3 1346.1M1830.8 1336.7L1591 1390.3M1830.5 1338.6L2123.1 1509.3M1946.3 1329.9L2093.7 1416.5M1944.3 1330.4L1898.1 1526.6M1944.1 1332L2081.7 1538.5M1892.1 1356.5L1810 1488M1892.8 1354.6L1994.5 1483.3M1891.6 1355.6L2040 1599.5M1680.2 1354L1961.8 1395.4M1591.2 1390.8L2044.7 1382.8M1591 1392.3L1916.2 1454.8M1961.8 1397.4L1737.4 1441.3M1961.1 1397.3L2096.9 1466.8M1961.9 1397.9L1602.7 1465.1M1891.2 1408.9L1845.9 1441.6M1890.8 1407.7L1859 1590.6M1891.2 1408.1L1784.3 1612M1889.5 1408.2L2038.8 1600.4M1990.6 1424L2093.2 1417.4M1737.2 1439.2L1845 1439.2M1786.7 1445.3L2045.2 1455.6M1787.2 1445.4L1888.4 1493.5M1784.9 1445.2L1706 1577.3M1788.1 1445.6L1859.9 1589.8M1845 1440.3L1963.1 1566.2M1917.6 1452.8L2040.8 1598.8M1809.1 1487.4L1711.1 1524.2" stroke="#c3a8dc" stroke-width="0.65" fill="none"/>
<path d="M1907 1062L1915.4 1453.8M1849.6 1105L1890.7 1356M1974.3 1125.5L2030.3 1230.5M1975.7 1125L1991.1 1424M1974.7 1125.1L2039.1 1599.9M1657.4 1153L1890.3 1407.6M1657.4 1153L2045.2 1456.6M1657.9 1152.8L1809.6 1487.2M1773.8 1182.8L2086 1276.1M1772.4 1182.3L1590 1390.3M1772.3 1182.5L1601.1 1462.8M1773.2 1183.6L2083 1537.6M1774.5 1182.7L2040.5 1599.2M1858.5 1202L2196.3 1426.7M1858.5 1202L1602.4 1463.6M1858 1201.8L1707.3 1578.2M1671.8 1206.6L2044.6 1457.5M1671.7 1206.4L2012.7 1548.7M1672.9 1205.5L1859 1590.3M1783.4 1230.8L1720.4 1687.9M1783.9 1230.9L1945.8 1703.9M2030.9 1230.4L2085.5 1277M2032.2 1230L2040.6 1599.8M1543.6 1281.3L1786.7 1446.3M1544 1280.9L1858.9 1590.1M1543.6 1281.3L1783.4 1611.5M2085.8 1276.6L2108.2 1298.1M2085.3 1276.6L2096.9 1465.9M2108.5 1298.5L1708.1 1578.8M2108.5 1298.6L1601.7 1590.1M2108.2 1298.1L1783.4 1611.5M1778.3 1338.7L2196.3 1426.7M1830.6 1337.3L1601 1589.2M1830.5 1337.5L1720.4 1687.8M1945.8 1330.8L1720.9 1688M2001.6 1347L1601.7 1590M1745.8 1381.6L1562.4 1509.8M1591.2 1391.3L1707.8 1578.4M1590.2 1391.4L1600.4 1589.7M2044.6 1383.8L2196.2 1427.2M2093.2 1417.4L2196.3 1426.7M2092.9 1417L1720.6 1687.6M1737.2 1440.3L1658.8 1637.2M1916 1453.5L1720.5 1687.7M2045.6 1457L1755.8 1718.7M2097.8 1465.6L2124 1508.1M1602.3 1464.1L1963 1566.7M1602.4 1463.6L1858.5 1590.5M1602.7 1463.2L1783.7 1611.1M1809.1 1487.4L1658.8 1637.2M1993.1 1485.1L1659 1637.7M2123.6 1507.9L1711.1 1523.7M2123.8 1508.9L2013.6 1548.5M1562.7 1510.2L1711.1 1524.2M1899.1 1527.1L1945.3 1704M2012.9 1547.8L1945.3 1703.7M1858.4 1590L1658.7 1636.7M1782.6 1610.8L1720.1 1687.3" stroke="#bdd78c" stroke-width="0.65" fill="none"/>
<path d="M1773.3 1183.7L1945.5 1331.2M1773.6 1183.3L1992.9 1484.6M1858.5 1202L1725.1 1321M1859 1202.1L1831.5 1337.8M1858.5 1202L2013.4 1548M1857.5 1202.3L1962.1 1566.5M1672.7 1205.3L1990.9 1423.6M1672.8 1205.4L1845.4 1440M1672 1206L1844.6 1440.6M1783.4 1231.1L1830.5 1337.9M1783.6 1231.4L2044.4 1383.8M1783.9 1230.9L1961.6 1396.4M1784.3 1230.6L1890.7 1407.3M1784.4 1230.8L1845.5 1440.2M1783.4 1231L1844.5 1440.4M1784.6 1230.1L2045.9 1455.8M1783.9 1230.9L1992.9 1484.6M1783.9 1230.9L1711.1 1524.2M1784.9 1230.7L1859.5 1590.3M1783.9 1230.9L1858.5 1590.5M1878.2 1235.5L1657.9 1370.2M1878.7 1233.4L2045.7 1382.1M1877.4 1235L2044.4 1383.7M1878.7 1234.4L1917.4 1453.6M1877.7 1234.6L1916.4 1453.8M1878.1 1234.2L2097.8 1465.5M1877.7 1234.6L1809.1 1487.4M1878.2 1234.4L1993.4 1484.4M1879.1 1235.4L1712.5 1525M1877.2 1234.3L1710.6 1523.9M1877.7 1234.6L1899.6 1527M1876.7 1234.7L1898.6 1527.1M1878.2 1234.7L1783.9 1611.6M2031 1229.5L1778.1 1338.2M2030.4 1229.3L1808.3 1486.7M2029.6 1228.6L1807.5 1486M2030.7 1229.9L1992.4 1484.5M2031.2 1230L2013.4 1548M1612.6 1254.2L1962 1395.4M1612.5 1254.7L1890.6 1407.1M1611.9 1255.6L1844.7 1440.7M1612.2 1255.2L1916.4 1453.8M1613 1254.5L1809.9 1486.7M1672.8 1265L1987.3 1275.2M1672.8 1265L1945.8 1330.8M1672.8 1265L2001.3 1346.6M1672.6 1265.5L2045 1457.1M1672.4 1265.3L1808.7 1487.7M1987.3 1275.2L2108.2 1298.1M1987.2 1274.7L1725 1320.5M1987.6 1275.6L1737.5 1440.7M1988 1276L1787.4 1447.1M1986.6 1274.4L1710.4 1523.4M1988.3 1275.1L2014.4 1547.9M1987.8 1275.3L1941.2 1609.7M1985.7 1275L1939.1 1609.4M2085.7 1276.1L1778.2 1338.2M2086.2 1277L1962 1396.8M2085.4 1276.2L1961.2 1396M2085.5 1276.2L1890 1407.2M2085.4 1276.3L1990.2 1423.7M2086.4 1277.5L1845.6 1441.2M2085.8 1276.6L1845 1440.3M2086.9 1277.7L1917.5 1454.9M2085.4 1276.2L1916 1453.4M2086.3 1276.7L2045.7 1456.7M2085.3 1276.5L2044.7 1456.5M2085.2 1275.8L1808.5 1486.6M2086.2 1276.9L1858.9 1590.8M2108.2 1298.1L1831 1337.7M2108.6 1298.5L1991 1424.4M2108.5 1298.5L1809.4 1487.8M1725.3 1320L1831.2 1336.7M1725.1 1320.5L2001.3 1346.1M1724.5 1320.1L1656.8 1368.4M1724.9 1321.5L2045 1457.1M1724.7 1321.4L1962.7 1566.6M1726 1320.5L1859.4 1590M1725.6 1320.9L1783.9 1611.4M1724.3 1321.6L1939.9 1610.2M1778.3 1338.7L1945.8 1330.8M1778.3 1339.7L1945.8 1331.8M1778.1 1340.3L1891 1357.5M1778.7 1338.4L1900 1526.7M1777.6 1339.5L2012.7 1548.8M1776.9 1340.3L2012 1549.6M1779.1 1338L1963.9 1565.5M1777.5 1339.4L1962.3 1566.9M1778.3 1338.7L1707.8 1578.4M1778.3 1338.7L1940.7 1609.6M1831.1 1336.1L2001.4 1345M1831 1337.7L1591.2 1391.3M1830.9 1338.2L2044.6 1383.8M1831 1337.7L2093.2 1417.4M1830 1337.3L1785.7 1445.9M1829.1 1336.9L1784.8 1445.5M1831.4 1337.4L1916.8 1453.5M1831.5 1337.8L1809.6 1487.5M1831.5 1336.8L2124.1 1507.5M1831.5 1337.6L1859 1590.4M1830.5 1337.8L1858 1590.6M1830.5 1337.9L1940.2 1609.8M1945.7 1330.3L1746 1381.5M1946.2 1331.1L1890.7 1407.9M1946.3 1330.6L1991.1 1423.8M1945.8 1330.8L2093.2 1417.4M1946.5 1330L2098.1 1465.1M1945.1 1331.6L2096.7 1466.7M1947.3 1331.2L1901.1 1527.4M1945.3 1330.7L1899.1 1526.9M1946.7 1330.2L2084.3 1536.7M1944.9 1331.4L2082.5 1537.9M1945.3 1330.5L1782.9 1611.2M2001.3 1347.1L1680 1355.5M2000.8 1346.5L1990.1 1423.9M2001.8 1347.5L1845.5 1441.2M2001.3 1346.6L1845 1440.3M2000.5 1347.3L2096.6 1466.6M2001.4 1347.1L1602.5 1464.1M2001.6 1347L1809.4 1487.8M2001.3 1346.6L1899.6 1527M2002.7 1347.4L1859.9 1591.3M1999.9 1345.8L1857.1 1589.7M2001.3 1346.6L1940.7 1609.6M1891.1 1355.4L1591.1 1390.8M1890.9 1356.4L1961.3 1396.9M1891 1356.4L2093 1417.9M1891.1 1356.4L2196.2 1427.2M1891.7 1356.2L1845.5 1440.6M1891.2 1355.9L2045.2 1456.6M1891.2 1355.9L1809.1 1487.4M1891.2 1355.9L1992.9 1484.6M1889.6 1357.2L1991.3 1485.9M1891.2 1355.9L2123.6 1508.4M1890.6 1356.8L2123 1509.3M1890.5 1355.1L1710.4 1523.4M1890.7 1356.1L1962.6 1566.4M1889.9 1356.7L2038.3 1600.6M1679.8 1356L1961.4 1397.4M1680.8 1354.3L1809.9 1486.7M1680 1355L1858.5 1590.5M1658 1368.4L1963.7 1565.3M1656.8 1370.2L1962.5 1567.1M1746.5 1381.7L1787.1 1446M1591.2 1391.8L2044.7 1383.8M1591.3 1390.3L1890.4 1406.6M1591.2 1391.3L1890.3 1407.6M1590.9 1392.3L1786.4 1447.3M1591.1 1391.8L1844.9 1440.8M1591.2 1391.3L1916.4 1453.8M1591 1391.8L1887.7 1494.9M2045 1382.9L2093.5 1417M2045.2 1383.3L2045.7 1456.6M2044.3 1382.3L1808.7 1486.4M2046.2 1383.6L2014.9 1548.3M2045.2 1383.4L2013.9 1548.1M2044.4 1382.9L1783.1 1611.1M2045.2 1383.3L2040.1 1599.8M1962 1398.5L1737.6 1442.4M1961.2 1394.3L1736.8 1438.2M1962.1 1395.5L2097.9 1465M1961.7 1396.9L1602.5 1464.1M1961.1 1395.5L1710.6 1523.3M1890.4 1407.1L1990.7 1423.5M1890 1409.2L1990.3 1425.6M1890.6 1408L1845.3 1440.7M1889.4 1406.3L1844.1 1439M1890.3 1407.6L1562.7 1510.2M1889.8 1407.5L1858 1590.4M1890.3 1407.6L1783.4 1611.5M1891.1 1407L2040.4 1599.2M1990.5 1423L2093.1 1416.4M1990.8 1424.5L1809.3 1487.9M1990.6 1424L1887.9 1494.4M1990.6 1424L1940.7 1609.6M2093.3 1418.4L1737.3 1441.3M2093.1 1416.4L1737.1 1439.3M2093.2 1417.9L1845 1440.8M2093.3 1417.9L1809.2 1487.9M2093.2 1417.4L1887.9 1494.4M1737.2 1440.3L1845 1440.3M1737.2 1441.3L1845 1441.3M1737 1439.3L1602.2 1462.6M1737.4 1439.8L2013.6 1547.5M1737.2 1440.3L1707.8 1578.4M1737 1440.8L2039.4 1600.3M1786.6 1445.8L1844.9 1439.8M1786.8 1446.8L1845.1 1440.8M1786.7 1446.3L1916.4 1453.8M1786.7 1447.3L2045.2 1457.6M1786.7 1446.3L1887.9 1494.4M1786.6 1446.8L2123.5 1508.9M1787.6 1446.8L1708.7 1578.9M1785.3 1447L1857.1 1591.2M1844.8 1440.8L1992.7 1485.1M1845.4 1439.3L2083.8 1536.3M1844.6 1441.3L2083 1538.3M1845.8 1439.6L1963.9 1565.5M1845.5 1440L1941.2 1609.3M1917 1455.8L1809.7 1489.4M1916.1 1452.8L1808.8 1486.4M1916.8 1452.8L1993.3 1483.6M1916.4 1453.8L1992.9 1484.6M1916.4 1453.8L2083.4 1537.3M1916.8 1453.4L2013.8 1547.6M1916 1454.2L2013 1548.4M1915.4 1454.2L1962.1 1566.6M1916 1453.5L1783 1611.2M1916.8 1453.5L2040 1599.5M1916 1454.1L2039.2 1600.1M2045 1456.1L1899.4 1526.5M2045.2 1456.6L2013.4 1548M2046.1 1457.2L1941.6 1610.2M2045.2 1456.6L1940.7 1609.6M2097.4 1465.9L2013.4 1548M1602.4 1463.6L1887.9 1494.4M1602.3 1464.6L1887.8 1495.4M1809.5 1488.4L1711.5 1525.2M1809.2 1486.9L2013.5 1547.5M1809 1487.9L2013.3 1548.5M1809.1 1487.4L1963.1 1566.2M1809.6 1487.5L1783.9 1611.6M1808.7 1487.8L1940.3 1610M1887.9 1494.4L1899.6 1527M1886.9 1494.8L1898.6 1527.4M1887.4 1494.2L1858 1590.3M1887.4 1494.6L1940.2 1609.8M1992.4 1484.8L2039.1 1600M2123.2 1507.4L1962.7 1565.2M1899.9 1526.6L1963.4 1565.8M1898.8 1528.3L1962.3 1567.5M2013.5 1548.5L1783.5 1612M1858.4 1590L1783.3 1611M1858.1 1589L1783 1610" stroke="#a6c65c" stroke-width="0.65" fill="none"/>
<path d="M1909 1062L1917.4 1453.8M1850.1 1104.9L2196.3 1426.7M1773.2 1183L1590.8 1391M1774 1183.6L1602.8 1463.9M1857.9 1202.9L2195.7 1427.6M1857.7 1201.3L1601.6 1462.9M1672 1205.3L1479.3 1382M1783.1 1230.3L1601.6 1463M2030.2 1230L2038.6 1599.8M1543.2 1281.7L1858.1 1590.9M1542.8 1281.9L1782.6 1612.1M1987.2 1274.7L1479.6 1381.9M1479.5 1383.4L1737 1441.3M2097.9 1466.1L2040.1 1600M1783.4 1611.5L1720.9 1688M1940.6 1609.1L1658.7 1636.7M1907.7 1061.6L1849.8 1104.5M1907.6 1062.4L1974.8 1125.4M1850 1105.4L1975.1 1125.5M1479.7 1382.9L1591.2 1391.8M1480.1 1382.7L1544 1281.6M2085.4 1277L2107.8 1298.5M1720.6 1688.4L1755.1 1718.7" stroke="#a6a6a6" stroke-width="0.65" fill="none"/>
<path d="M1909.4 1061.4L2046.1 1382.7M1975.2 1125L2031.2 1230M1975.7 1124.9L2040.1 1599.7M1656.8 1153.8L2044.6 1457.4M1774.6 1182.1L1946.8 1329.6M1773.9 1182.9L1946.1 1330.4M1774.4 1182.7L1993.7 1484M1774 1183L2083.8 1537M1772.7 1183.9L2038.7 1600.4M1857.8 1201.2L1724.4 1320.2M1858 1201.9L1830.5 1337.6M1859.5 1201.6L2014.4 1547.6M1857.5 1202.4L2012.4 1548.4M1858.5 1202L1963.1 1566.2M1859 1202.2L1708.3 1578.6M1672.3 1206.7L1877.6 1235.6M1672.1 1206.1L1990.3 1424.4M1673.7 1204.8L1846.3 1439.4M1673.1 1205L2014.1 1547.3M1784.4 1230.7L1831.5 1337.5M1784.2 1230.4L2045 1382.8M1784.6 1230.1L1962.3 1395.6M1783.2 1231.7L1960.9 1397.2M1783.5 1231.2L1889.9 1407.9M1783.2 1231.7L2044.5 1457.4M1784.7 1230.2L1993.7 1483.9M1784.9 1231.2L1712.1 1524.5M1782.9 1230.6L1710.1 1523.9M1782.9 1231.1L1857.5 1590.7M1877.7 1234.6L1657.4 1369.3M1877.2 1233.7L1656.9 1368.4M1878 1234.2L2045 1382.9M1876.7 1235.8L2043.7 1384.5M1876.7 1234.8L1915.4 1454M1877.3 1235L2097 1466.3M1878.7 1234.9L1810.1 1487.7M1876.7 1234.3L1808.1 1487.1M1877.2 1234.8L1992.4 1484.8M1876.3 1233.8L1709.7 1523.4M1878.7 1234.5L1900.6 1526.9M2031.4 1230.5L1778.5 1339.2M2032.8 1231.4L1810.7 1488.8M2031.2 1230L1809.1 1487.4M2031.7 1230.1L1993.4 1484.7M2030.2 1229.9L2012.4 1547.9M1612.2 1255.2L1961.6 1396.4M1611.8 1256.2L1961.2 1397.4M1611.9 1255.7L1890 1408.1M1612.8 1254.3L1917 1452.9M1612.2 1255.2L1809.1 1487.4M1672.8 1266L1987.3 1276.2M1673 1264L1946 1329.8M1672.6 1266L1945.6 1331.8M1673.1 1264L2001.6 1345.6M1672.5 1266L2001 1347.6M1673 1264.5L2045.4 1456.1M1673.2 1264.7L1809.5 1487.1M1543.7 1280.8L2001.4 1346.1M1987.4 1275.7L1725.2 1321.5M1987 1274.8L1736.9 1439.9M1986.4 1273.9L1736.3 1439M1986.6 1274.4L1786 1445.5M1987.3 1275.2L1711.1 1524.2M1987.3 1275.2L2013.4 1548M2085.9 1277.1L1778.4 1339.2M2084.7 1275.5L1960.5 1395.3M2084.9 1275.3L1889.4 1406.3M2086.2 1276.9L1991 1424.3M2085.2 1275.7L1844.4 1439.4M2086.2 1277L1916.8 1454.2M2084.7 1275.5L1915.3 1452.7M2086.3 1276.6L2097.9 1465.9M2086.4 1277.4L1809.7 1488.2M2085.8 1276.6L1809.1 1487.4M2085.4 1276.3L1858.1 1590.2M2107.8 1297.7L1990.2 1423.6M2108.7 1298.1L2097.9 1465.9M2107.9 1297.7L1808.8 1487M1725.1 1321L1831 1337.7M1725.1 1321.5L2001.3 1347.1M1725.1 1321L1657.4 1369.3M1725.3 1320.5L2045.4 1456.1M1725.5 1320.6L1963.5 1565.8M1725.1 1321L1858.5 1590.5M1724.6 1321.1L1782.9 1611.6M1725.9 1320.4L1941.5 1609M1778.3 1337.7L1945.8 1329.8M1778.5 1337.1L1891.4 1354.3M1777.9 1339L1899.2 1527.3M1779.7 1337.1L2014.8 1546.4M1778.3 1338.7L2013.4 1548M1779.3 1339L1708.8 1578.7M1777.3 1338.4L1706.8 1578.1M1831 1338.2L2001.3 1347.1M1830.9 1339.3L2001.2 1348.2M1831.2 1338.7L1591.4 1392.3M1831.1 1337.2L2044.8 1382.8M1832.9 1338.5L1788.6 1447.1M1831 1337.7L1786.7 1446.3M1830.6 1338L1916 1454.1M1830.5 1337.6L1808.6 1487.3M1831 1337.7L2123.6 1508.4M1831.5 1337.5L1941.2 1609.4M1831.5 1337.9L1721.4 1688.2M1945.9 1331.3L1746.2 1382.5M1945.4 1330.5L1889.9 1407.3M1945.3 1331L1990.1 1424.2M1945.8 1330.8L2097.4 1465.9M1946.3 1330.9L1900.1 1527.1M1947.5 1329.6L2085.1 1536.1M1946.3 1331.1L1783.9 1611.8M2001.3 1346.1L1680 1354.5M2001.8 1346.7L1991.1 1424.1M2000.8 1345.7L1844.5 1439.4M2002.1 1345.9L2098.2 1465.2M2001.2 1346.1L1602.3 1463.1M2001 1346.2L1808.8 1487M2001 1346.2L1601.1 1589.2M2001.8 1346.9L1859 1590.8M2000.8 1346.3L1858 1590.2M2000.3 1346.4L1939.7 1609.4M1891.3 1356.4L1591.3 1391.8M1891.5 1355.4L1961.9 1395.9M1891.4 1355.4L2093.4 1416.9M1891.3 1355.4L2196.4 1426.2M1890.7 1355.6L1844.5 1440M1890.6 1356.8L2044.6 1457.5M1890.3 1355.3L1808.2 1486.8M1892 1355.2L1993.7 1483.9M1890.4 1356.6L1992.1 1485.3M1891.8 1355L2124.2 1507.5M1891.9 1356.7L1711.8 1525M1891.2 1355.9L1711.1 1524.2M1891.7 1355.7L1963.6 1566M1890.8 1356.2L2039.2 1600.1M1680 1355L1961.6 1396.4M1680 1355L1809.1 1487.4M1679.2 1355.6L1857.7 1591.1M1657.4 1369.3L1963.1 1566.2M1745.7 1382.3L1786.3 1446.6M1591.2 1389.7L2044.7 1381.7M1591.1 1392.3L1890.2 1408.6M1591.2 1391.3L1786.7 1446.3M1591.3 1390.8L1845.1 1439.8M1591.4 1390.3L1916.6 1452.8M1591.4 1390.8L1888.1 1493.9M1591 1391.8L1962.9 1566.7M1591.2 1391.3L1601.4 1589.6M2044.4 1383.7L2092.9 1417.8M2044.8 1382.8L2196.4 1426.2M2044.2 1383.3L2044.7 1456.6M2045.1 1384.3L1809.5 1488.4M2044.7 1383.3L1809.1 1487.4M2044.2 1383.2L2012.9 1547.9M2045 1383.7L1783.7 1611.9M1961.6 1396.4L1737.2 1440.3M1961.6 1396.4L2097.4 1465.9M1961.5 1395.9L1602.3 1463.1M1961.6 1396.4L1711.1 1524.2M1890.6 1406L1990.9 1422.4M1890.2 1408.1L1990.5 1424.5M1890 1407.2L1844.7 1439.9M1889.4 1407.1L1782.5 1611M1890.3 1407.6L2039.6 1599.8M1990.7 1425L2093.3 1418.4M1990.4 1423.5L1808.9 1486.9M1990 1423.1L1887.3 1493.5M1991.6 1424.3L1941.7 1609.9M2093.2 1417.4L1737.2 1440.3M2093.2 1416.9L1845 1439.8M2093.1 1416.9L1809 1486.9M2093.6 1418.4L1888.3 1495.4M2092.8 1416.4L1887.5 1493.4M2093.5 1417.8L1721.2 1688.4M2195.9 1425.7L1783 1610.5M2195.5 1426L2038.8 1599.1M1737.4 1441.3L1602.6 1464.6M1737 1440.8L2013.2 1548.5M1786.7 1446.3L2045.2 1456.6M1786.2 1447.2L1887.4 1495.3M1786.8 1445.8L2123.7 1507.9M1788.5 1447.4L1709.6 1579.5M1785.8 1445.8L1706.9 1577.9M1787.2 1446.1L1859 1590.3M1786.2 1446.5L1858 1590.7M1845.2 1439.8L1993.1 1484.1M1845 1440.3L2083.4 1537.3M1844.2 1441L1962.3 1566.9M1916.7 1454.8L1809.4 1488.4M1915.8 1451.8L1808.5 1485.4M1916 1454.8L1992.5 1485.6M1917.5 1452.7L2014.5 1546.9M1915.3 1454.9L2012.3 1549.1M1917.4 1453.4L1964.1 1565.8M1916.4 1453.8L1963.1 1566.2M1916.8 1454.1L1783.8 1611.8M1915.2 1454.8L2038.4 1600.8M1916.8 1454.1L1721.3 1688.3M2045.4 1457.1L1899.8 1527.5M2046.2 1456.9L2014.4 1548.3M2044.2 1456.3L2012.4 1547.7M2044.3 1456L1939.8 1609M2044.8 1456.2L1755 1717.9M1602.5 1462.6L1888 1493.4M1602.5 1463.1L1963.2 1565.7M1602.1 1464L1783.1 1611.9M1808.7 1486.4L1710.7 1523.2M1809.5 1485.9L2013.8 1546.5M1810.6 1487.7L1784.9 1611.8M1807.6 1487.1L1781.9 1611.2M1809.5 1487L1941.1 1609.2M1808.4 1486.7L1658.1 1636.5M1888.9 1494L1900.6 1526.6M1889.4 1494.9L1860 1591M1886.4 1493.9L1857 1590M1888.4 1494.2L1941.2 1609.4M1993.4 1484.4L2040.1 1599.6M2123.6 1508.9L1711.1 1524.7M2124 1509.4L1963.5 1567.2M2123.6 1508.4L1963.1 1566.2M1899.3 1527.4L1962.8 1566.6M1900.1 1526.9L1946.3 1703.8M2013.3 1547.5L1783.3 1611M2013.4 1548L2039.6 1599.8M2013.9 1548.2L1946.3 1704.1M1858.6 1591L1783.5 1612M1939.7 1609.7L1944.8 1704" stroke="#303030" stroke-width="0.65" fill="none"/>
<ellipse cx="1908" cy="1063.9" rx="16.1" ry="16.1" fill="#585858"/>
<ellipse cx="1908" cy="1061.1" rx="16.2" ry="15.7" fill="url(#gR)" stroke="#5e3a30" stroke-width="0.9"/>
<polyline points="1902,1063.2 1904,1067.6 1907.9,1066.7 1908.4,1068.8 1911.5,1073.1" fill="none" stroke="#c03030" stroke-width="1.2" opacity="0.7"/>
<polyline points="1900.6,1062.6 1901.2,1060.3 1902.4,1057.7 1904.3,1055.6 1906.6,1060" fill="none" stroke="#d0a020" stroke-width="1.2" opacity="0.7"/>
<polyline points="1901.7,1064.7 1902.4,1067.5 1902.1,1065 1902.9,1062.1 1905.5,1060.6" fill="none" stroke="#b040a0" stroke-width="1.2" opacity="0.7"/>
<polyline points="1903.7,1065.3 1907.8,1067.7 1910.4,1066.2 1910,1065.4 1915.5,1069.9" fill="none" stroke="#c03030" stroke-width="1.2" opacity="0.7"/>
<polyline points="1909,1061.8 1909.3,1063.6 1907.8,1067.3 1911,1064.1 1914.5,1068.4" fill="none" stroke="#c04080" stroke-width="1.2" opacity="0.7"/>
<ellipse cx="1908" cy="1053" rx="11" ry="6.4" fill="url(#hl)"/>
<ellipse cx="1850.1" cy="1106.8" rx="16.1" ry="16.1" fill="#585858"/>
<ellipse cx="1850.1" cy="1104" rx="16.2" ry="15.7" fill="url(#gR)" stroke="#5e3a30" stroke-width="0.9"/>
<polyline points="1851.3,1105.3 1850.6,1100.9 1849.8,1098.5 1851.7,1094.2 1856.8,1094.8" fill="none" stroke="#b040a0" stroke-width="1.2" opacity="0.7"/>
<polyline points="1851.5,1103.3 1853.3,1102.8 1856.4,1103 1862.2,1106.9 1862.6,1109.6" fill="none" stroke="#a0a030" stroke-width="1.2" opacity="0.7"/>
<polyline points="1845.3,1103.8 1850.1,1100.8 1854.7,1099.7 1855,1102.6 1855.1,1106.8" fill="none" stroke="#d0a020" stroke-width="1.2" opacity="0.7"/>
<polyline points="1844.2,1105.8 1846.7,1110 1852,1110 1850.7,1105.8 1849.9,1109.8" fill="none" stroke="#d0a020" stroke-width="1.2" opacity="0.7"/>
<polyline points="1845.4,1111.6 1847.7,1107.7 1847.4,1110.1 1853.1,1105.8 1852.5,1108.3" fill="none" stroke="#c04080" stroke-width="1.2" opacity="0.7"/>
<ellipse cx="1850.1" cy="1095.9" rx="11" ry="6.4" fill="url(#hl)"/>
<ellipse cx="1975.2" cy="1126.9" rx="16.1" ry="16.1" fill="#585858"/>
<ellipse cx="1975.2" cy="1124.1" rx="16.2" ry="15.7" fill="url(#gR)" stroke="#5e3a30" stroke-width="0.9"/>
<polyline points="1969,1130 1968.8,1131.4 1970.7,1128 1975.6,1124.8 1978.3,1122.3" fill="none" stroke="#c03030" stroke-width="1.2" opacity="0.7"/>
<polyline points="1967.4,1131.4 1971.7,1131.3 1973.3,1133.6 1977.6,1134.5 1976.3,1134.1" fill="none" stroke="#c03030" stroke-width="1.2" opacity="0.7"/>
<polyline points="1968.7,1131.8 1970,1133.8 1973.4,1136.2 1977.3,1133.9 1980.6,1132.7" fill="none" stroke="#c03030" stroke-width="1.2" opacity="0.7"/>
<polyline points="1975.9,1124.5 1975.4,1124.9 1974.8,1125.4 1977.4,1127.4 1982,1123.8" fill="none" stroke="#c04080" stroke-width="1.2" opacity="0.7"/>
<polyline points="1970.3,1131 1972.1,1128.4 1976.4,1128.3 1979.3,1132.1 1978.2,1130.7" fill="none" stroke="#c03030" stroke-width="1.2" opacity="0.7"/>
<ellipse cx="1975.2" cy="1116" rx="11" ry="6.4" fill="url(#hl)"/>
<ellipse cx="1657.4" cy="1154.9" rx="16.1" ry="16.1" fill="#585858"/>
<ellipse cx="1657.4" cy="1152.1" rx="16.2" ry="15.7" fill="url(#gR)" stroke="#5e3a30" stroke-width="0.9"/>
<polyline points="1652.6,1152.5 1655.4,1153.8 1657.8,1151.5 1659.6,1148.9 1662.6,1148.3" fill="none" stroke="#8a50b8" stroke-width="1.2" opacity="0.7"/>
<polyline points="1656.9,1158.3 1661,1160.9 1659.4,1162.8 1664.1,1161.1 1662.7,1164.1" fill="none" stroke="#a0a030" stroke-width="1.2" opacity="0.7"/>
<polyline points="1658.2,1157.1 1661.9,1155.2 1665.3,1157.8 1664.2,1158.8 1663.5,1160.8" fill="none" stroke="#b040a0" stroke-width="1.2" opacity="0.7"/>
<polyline points="1658.3,1158.5 1660.1,1155.2 1660.9,1150.8 1663.1,1153.4 1661.7,1157.6" fill="none" stroke="#b040a0" stroke-width="1.2" opacity="0.7"/>
<polyline points="1651.9,1153.4 1650.8,1155 1652.6,1155 1656.3,1153.3 1654.9,1152" fill="none" stroke="#d0a020" stroke-width="1.2" opacity="0.7"/>
<ellipse cx="1657.4" cy="1144" rx="11" ry="6.4" fill="url(#hl)"/>
<ellipse cx="1773.6" cy="1185.2" rx="16.1" ry="16.1" fill="#585858"/>
<ellipse cx="1773.6" cy="1182.4" rx="16.2" ry="15.7" fill="url(#gR)" stroke="#5e3a30" stroke-width="0.9"/>
<polyline points="1772.5,1187.2 1777,1186.7 1777.6,1182.8 1779.1,1184.9 1777.7,1183" fill="none" stroke="#a0a030" stroke-width="1.2" opacity="0.7"/>
<polyline points="1772.4,1182.8 1772.7,1185.5 1776.2,1183.6 1778.4,1185.4 1781.7,1188.3" fill="none" stroke="#d06020" stroke-width="1.2" opacity="0.7"/>
<polyline points="1771.4,1185.4 1776.1,1184.7 1781.5,1186.9 1785,1183 1787.6,1182.6" fill="none" stroke="#c04080" stroke-width="1.2" opacity="0.7"/>
<polyline points="1770,1187.2 1769.4,1184.6 1770.6,1180.8 1773.3,1183.8 1778.3,1185" fill="none" stroke="#a0a030" stroke-width="1.2" opacity="0.7"/>
<polyline points="1767.3,1182.1 1770.4,1179.2 1771.2,1180.3 1774.3,1179 1776.6,1175.5" fill="none" stroke="#d0a020" stroke-width="1.2" opacity="0.7"/>
<ellipse cx="1773.6" cy="1174.3" rx="11" ry="6.4" fill="url(#hl)"/>
<ellipse cx="1858.5" cy="1203.9" rx="16.1" ry="16.1" fill="#585858"/>
<ellipse cx="1858.5" cy="1201.1" rx="16.2" ry="15.7" fill="url(#gR)" stroke="#5e3a30" stroke-width="0.9"/>
<ellipse cx="1858.5" cy="1193" rx="11" ry="6.4" fill="url(#hl)"/>
<ellipse cx="1672.4" cy="1207.6" rx="16.1" ry="16.1" fill="#585858"/>
<ellipse cx="1672.4" cy="1204.8" rx="16.2" ry="15.7" fill="url(#gR)" stroke="#5e3a30" stroke-width="0.9"/>
<polyline points="1668.7,1203.6 1671.5,1207.3 1670.3,1208.8 1672.9,1204.3 1673.1,1200.9" fill="none" stroke="#b040a0" stroke-width="1.2" opacity="0.7"/>
<polyline points="1667.5,1207.4 1665.8,1210.5 1665.2,1214 1665.3,1218.1 1668,1221.3" fill="none" stroke="#d06020" stroke-width="1.2" opacity="0.7"/>
<polyline points="1668.1,1210.8 1669.2,1207.6 1670.7,1204.2 1673.1,1199.8 1672.7,1202.6" fill="none" stroke="#8a50b8" stroke-width="1.2" opacity="0.7"/>
<polyline points="1665.3,1205.8 1665.6,1208.1 1666.8,1203.9 1667.6,1199.9 1666.8,1199" fill="none" stroke="#a0a030" stroke-width="1.2" opacity="0.7"/>
<polyline points="1666.6,1205.7 1667.4,1205.1 1666.3,1209.3 1668.8,1210.5 1672.5,1211.3" fill="none" stroke="#a0a030" stroke-width="1.2" opacity="0.7"/>
<ellipse cx="1672.4" cy="1196.7" rx="11" ry="6.4" fill="url(#hl)"/>
<ellipse cx="1783.9" cy="1232.8" rx="16.1" ry="16.1" fill="#585858"/>
<ellipse cx="1783.9" cy="1230" rx="16.2" ry="15.7" fill="url(#gR)" stroke="#5e3a30" stroke-width="0.9"/>
<polyline points="1781.9,1230.2 1782.8,1227.5 1787.3,1225.4 1787.9,1222.1 1790.4,1220" fill="none" stroke="#a0a030" stroke-width="1.2" opacity="0.7"/>
<polyline points="1779,1229.5 1780.8,1226.7 1781,1230.6 1782.7,1232.8 1783.9,1236.3" fill="none" stroke="#d06020" stroke-width="1.2" opacity="0.7"/>
<polyline points="1776.7,1232.6 1776.5,1234.4 1780,1237.1 1782.3,1238 1787.4,1237.3" fill="none" stroke="#c04080" stroke-width="1.2" opacity="0.7"/>
<polyline points="1783,1232.6 1785.3,1231.5 1784.7,1231.5 1784.3,1232.3 1787.8,1233.1" fill="none" stroke="#c04080" stroke-width="1.2" opacity="0.7"/>
<polyline points="1776.1,1235.8 1776.5,1235.7 1781.1,1238.4 1785.1,1235.4 1784.5,1238.8" fill="none" stroke="#c04080" stroke-width="1.2" opacity="0.7"/>
<ellipse cx="1783.9" cy="1221.9" rx="11" ry="6.4" fill="url(#hl)"/>
<ellipse cx="1877.7" cy="1236.5" rx="16.1" ry="16.1" fill="#585858"/>
<ellipse cx="1877.7" cy="1233.7" rx="16.2" ry="15.7" fill="url(#gR)" stroke="#5e3a30" stroke-width="0.9"/>
<polyline points="1875.5,1239.3 1878.2,1234.8 1880.9,1238.2 1882.7,1242.2 1883.3,1240.6" fill="none" stroke="#c04080" stroke-width="1.2" opacity="0.7"/>
<polyline points="1873.5,1240.7 1873.6,1237.3 1878.5,1232.9 1883.7,1233.6 1882.4,1236.1" fill="none" stroke="#c03030" stroke-width="1.2" opacity="0.7"/>
<polyline points="1875.2,1240 1873.6,1238.8 1874.5,1236.3 1878.6,1233.1 1879,1229.4" fill="none" stroke="#d06020" stroke-width="1.2" opacity="0.7"/>
<polyline points="1870,1241.2 1874.9,1240 1876.2,1241.1 1878.8,1238.1 1880.4,1234.6" fill="none" stroke="#8a50b8" stroke-width="1.2" opacity="0.7"/>
<polyline points="1876.5,1234.4 1881.4,1238.2 1880.4,1236.5 1883.7,1239.9 1886.8,1236.7" fill="none" stroke="#b040a0" stroke-width="1.2" opacity="0.7"/>
<ellipse cx="1877.7" cy="1225.6" rx="11" ry="6.4" fill="url(#hl)"/>
<ellipse cx="2031.2" cy="1231.9" rx="16.1" ry="16.1" fill="#585858"/>
<ellipse cx="2031.2" cy="1229.1" rx="16.2" ry="15.7" fill="url(#gR)" stroke="#5e3a30" stroke-width="0.9"/>
<polyline points="2030.4,1227.8 2031.1,1230.5 2034.1,1234.6 2035.4,1238 2035,1238.4" fill="none" stroke="#b040a0" stroke-width="1.2" opacity="0.7"/>
<polyline points="2032.3,1233.3 2037.7,1231.5 2038.6,1235.8 2039.3,1240.2 2038.1,1238.3" fill="none" stroke="#c03030" stroke-width="1.2" opacity="0.7"/>
<polyline points="2026.6,1233.4 2025.8,1232.7 2025.9,1233.9 2028.3,1233.7 2027.9,1230.3" fill="none" stroke="#d06020" stroke-width="1.2" opacity="0.7"/>
<polyline points="2032,1236 2032.4,1231.6 2031.4,1227.1 2032.4,1226.5 2036,1225.6" fill="none" stroke="#d06020" stroke-width="1.2" opacity="0.7"/>
<polyline points="2030.6,1237 2034.6,1235.3 2034.6,1235.4 2037.7,1231.6 2038.9,1232.8" fill="none" stroke="#c04080" stroke-width="1.2" opacity="0.7"/>
<ellipse cx="2031.2" cy="1221" rx="11" ry="6.4" fill="url(#hl)"/>
<ellipse cx="1612.2" cy="1257.1" rx="16.1" ry="16.1" fill="#585858"/>
<ellipse cx="1612.2" cy="1254.3" rx="16.2" ry="15.7" fill="url(#gR)" stroke="#5e3a30" stroke-width="0.9"/>
<polyline points="1611.4,1254.2 1612.2,1253.5 1614.2,1252.1 1612.9,1251.1 1615.3,1254.8" fill="none" stroke="#c04080" stroke-width="1.2" opacity="0.7"/>
<polyline points="1609,1255.1 1614.5,1257.8 1615.1,1259.6 1617.2,1260.6 1621.8,1260.4" fill="none" stroke="#a0a030" stroke-width="1.2" opacity="0.7"/>
<polyline points="1604.9,1254 1606.1,1258.4 1611.7,1256.2 1611.9,1255.3 1611.6,1257.5" fill="none" stroke="#c04080" stroke-width="1.2" opacity="0.7"/>
<polyline points="1605.3,1258.3 1606.3,1255.7 1607.3,1258.3 1611.8,1262.2 1614,1266.8" fill="none" stroke="#d06020" stroke-width="1.2" opacity="0.7"/>
<polyline points="1609.6,1258.5 1611,1259.1 1615.6,1256.7 1616.7,1258.9 1615.5,1260.6" fill="none" stroke="#8a50b8" stroke-width="1.2" opacity="0.7"/>
<ellipse cx="1612.2" cy="1246.2" rx="11" ry="6.4" fill="url(#hl)"/>
<ellipse cx="1672.8" cy="1266.9" rx="16.1" ry="16.1" fill="#585858"/>
<ellipse cx="1672.8" cy="1264.1" rx="16.2" ry="15.7" fill="url(#gR)" stroke="#5e3a30" stroke-width="0.9"/>
<polyline points="1668.3,1267.1 1668.5,1269.4 1671.4,1266.5 1671.6,1262.4 1674.6,1263.2" fill="none" stroke="#d0a020" stroke-width="1.2" opacity="0.7"/>
<polyline points="1665.5,1265.2 1668.1,1261.2 1673.4,1262.9 1678.2,1262.5 1681.5,1258" fill="none" stroke="#c04080" stroke-width="1.2" opacity="0.7"/>
<polyline points="1667.8,1268.4 1668.2,1271.9 1671.3,1271.1 1674,1268.5 1678.5,1269" fill="none" stroke="#c04080" stroke-width="1.2" opacity="0.7"/>
<polyline points="1664.8,1266.5 1664,1270.1 1663.7,1267.8 1662.6,1267.6 1664.8,1265.2" fill="none" stroke="#d0a020" stroke-width="1.2" opacity="0.7"/>
<polyline points="1669.5,1263.8 1673.8,1267.7 1677.4,1267.6 1681.5,1268.5 1682.3,1266.8" fill="none" stroke="#b040a0" stroke-width="1.2" opacity="0.7"/>
<ellipse cx="1672.8" cy="1256" rx="11" ry="6.4" fill="url(#hl)"/>
<ellipse cx="1543.6" cy="1283.2" rx="16.1" ry="16.1" fill="#585858"/>
<ellipse cx="1543.6" cy="1280.4" rx="16.2" ry="15.7" fill="url(#gR)" stroke="#5e3a30" stroke-width="0.9"/>
<polyline points="1537.8,1282.6 1538.6,1283.3 1544.3,1282.8 1545.3,1278.9 1544.7,1276.6" fill="none" stroke="#c04080" stroke-width="1.2" opacity="0.7"/>
<polyline points="1545.1,1281 1543.9,1281.2 1544.7,1285.4 1548,1286 1550.1,1290" fill="none" stroke="#8a50b8" stroke-width="1.2" opacity="0.7"/>
<polyline points="1535.7,1282.5 1538.8,1285.2 1538.1,1286.6 1538.9,1290.7 1541.3,1294.9" fill="none" stroke="#b040a0" stroke-width="1.2" opacity="0.7"/>
<polyline points="1542.6,1283.7 1541.5,1287.7 1547,1287.7 1547.8,1288.8 1551.8,1291.2" fill="none" stroke="#b040a0" stroke-width="1.2" opacity="0.7"/>
<polyline points="1535.7,1282.8 1537.2,1286.9 1539.8,1287.3 1541.3,1288.8 1539.8,1292.2" fill="none" stroke="#c04080" stroke-width="1.2" opacity="0.7"/>
<ellipse cx="1543.6" cy="1272.3" rx="11" ry="6.4" fill="url(#hl)"/>
<ellipse cx="1987.3" cy="1277.1" rx="16.1" ry="16.1" fill="#585858"/>
<ellipse cx="1987.3" cy="1274.3" rx="16.2" ry="15.7" fill="url(#gR)" stroke="#5e3a30" stroke-width="0.9"/>
<polyline points="1984.7,1274.6 1985.3,1273.5 1989.8,1274.5 1990.5,1278.6 1989.7,1279.8" fill="none" stroke="#a0a030" stroke-width="1.2" opacity="0.7"/>
<polyline points="1980.4,1278.4 1982.8,1274.8 1985.2,1271.3 1990.7,1274.5 1990.8,1275.9" fill="none" stroke="#d06020" stroke-width="1.2" opacity="0.7"/>
<polyline points="1981.6,1273.6 1980.4,1269.4 1979.9,1271.2 1980.5,1268.8 1983.9,1272.8" fill="none" stroke="#d0a020" stroke-width="1.2" opacity="0.7"/>
<polyline points="1987.6,1279.4 1988.9,1283.4 1993.1,1279.3 1995.8,1279.5 1998.6,1280" fill="none" stroke="#c03030" stroke-width="1.2" opacity="0.7"/>
<polyline points="1984.7,1279.9 1988.9,1276.3 1991,1272 1989.4,1270.5 1989.9,1273.8" fill="none" stroke="#a0a030" stroke-width="1.2" opacity="0.7"/>
<ellipse cx="1987.3" cy="1266.2" rx="11" ry="6.4" fill="url(#hl)"/>
<ellipse cx="2085.8" cy="1278.5" rx="16.1" ry="16.1" fill="#585858"/>
<ellipse cx="2085.8" cy="1275.7" rx="16.2" ry="15.7" fill="url(#gR)" stroke="#5e3a30" stroke-width="0.9"/>
<polyline points="2085.5,1280.3 2089.5,1279.4 2088,1278.1 2088.4,1277 2089.2,1275.6" fill="none" stroke="#b040a0" stroke-width="1.2" opacity="0.7"/>
<polyline points="2084.4,1278.9 2085.3,1275.9 2084.5,1275.8 2082.9,1277.6 2083.3,1281" fill="none" stroke="#c03030" stroke-width="1.2" opacity="0.7"/>
<polyline points="2085.1,1276.4 2088.4,1276.8 2093.2,1280.2 2097.6,1280.6 2098.1,1283.5" fill="none" stroke="#b040a0" stroke-width="1.2" opacity="0.7"/>
<polyline points="2080.8,1276.8 2086,1280.7 2089.6,1281.6 2088.8,1285.6 2092.5,1283.6" fill="none" stroke="#c04080" stroke-width="1.2" opacity="0.7"/>
<polyline points="2078.7,1278.3 2078.2,1279.7 2082.5,1276.6 2087.5,1276.3 2092.3,1276.8" fill="none" stroke="#c04080" stroke-width="1.2" opacity="0.7"/>
<ellipse cx="2085.8" cy="1267.6" rx="11" ry="6.4" fill="url(#hl)"/>
<ellipse cx="2108.2" cy="1300" rx="16.1" ry="16.1" fill="#585858"/>
<ellipse cx="2108.2" cy="1297.2" rx="16.2" ry="15.7" fill="url(#gR)" stroke="#5e3a30" stroke-width="0.9"/>
<ellipse cx="2108.2" cy="1289.1" rx="11" ry="6.4" fill="url(#hl)"/>
<ellipse cx="1725.1" cy="1322.9" rx="16.1" ry="16.1" fill="#585858"/>
<ellipse cx="1725.1" cy="1320.1" rx="16.2" ry="15.7" fill="url(#gR)" stroke="#5e3a30" stroke-width="0.9"/>
<polyline points="1723,1321.4 1724.3,1324.9 1729.6,1323.8 1733.3,1327.2 1734.6,1324.6" fill="none" stroke="#c04080" stroke-width="1.2" opacity="0.7"/>
<polyline points="1720.2,1318.9 1723,1322.8 1722.8,1319.5 1723.3,1323 1728.1,1327" fill="none" stroke="#a0a030" stroke-width="1.2" opacity="0.7"/>
<polyline points="1726.5,1322.5 1727.8,1322.6 1730,1323.3 1728.4,1323.8 1727.5,1323.8" fill="none" stroke="#c04080" stroke-width="1.2" opacity="0.7"/>
<polyline points="1722.5,1320 1723.9,1321.5 1728.7,1323.7 1730,1327 1733.1,1329.8" fill="none" stroke="#8a50b8" stroke-width="1.2" opacity="0.7"/>
<polyline points="1720.8,1325.7 1726.4,1322.7 1727.7,1325 1728.2,1328.1 1730.3,1328.5" fill="none" stroke="#b040a0" stroke-width="1.2" opacity="0.7"/>
<ellipse cx="1725.1" cy="1312" rx="11" ry="6.4" fill="url(#hl)"/>
<ellipse cx="1778.3" cy="1340.6" rx="16.1" ry="16.1" fill="#585858"/>
<ellipse cx="1778.3" cy="1337.8" rx="16.2" ry="15.7" fill="url(#gR)" stroke="#5e3a30" stroke-width="0.9"/>
<polyline points="1770.4,1343.5 1772.3,1345.3 1775,1347 1779.4,1342.5 1779.8,1340.3" fill="none" stroke="#b040a0" stroke-width="1.2" opacity="0.7"/>
<polyline points="1770.7,1341.9 1769,1342.3 1771.7,1338.5 1776.9,1341.7 1777,1345.8" fill="none" stroke="#8a50b8" stroke-width="1.2" opacity="0.7"/>
<polyline points="1779.5,1337.9 1781.6,1337.3 1780.6,1333.8 1783.7,1332.7 1786.4,1330.5" fill="none" stroke="#d06020" stroke-width="1.2" opacity="0.7"/>
<polyline points="1772.5,1340.9 1772.4,1344 1771,1343 1776.8,1345.6 1777.1,1341.9" fill="none" stroke="#d06020" stroke-width="1.2" opacity="0.7"/>
<polyline points="1774.3,1336.4 1778.9,1338.7 1778.1,1338.4 1782.4,1337 1784.7,1332.8" fill="none" stroke="#a0a030" stroke-width="1.2" opacity="0.7"/>
<ellipse cx="1778.3" cy="1329.7" rx="11" ry="6.4" fill="url(#hl)"/>
<ellipse cx="1831" cy="1339.6" rx="16.1" ry="16.1" fill="#585858"/>
<ellipse cx="1831" cy="1336.8" rx="16.2" ry="15.7" fill="url(#gR)" stroke="#5e3a30" stroke-width="0.9"/>
<ellipse cx="1831" cy="1328.7" rx="11" ry="6.4" fill="url(#hl)"/>
<ellipse cx="1945.8" cy="1332.7" rx="16.1" ry="16.1" fill="#585858"/>
<ellipse cx="1945.8" cy="1329.9" rx="16.2" ry="15.7" fill="url(#gR)" stroke="#5e3a30" stroke-width="0.9"/>
<polyline points="1946.3,1332.8 1952,1330.2 1957.8,1331.5 1959.4,1335.5 1964.2,1337.8" fill="none" stroke="#8a50b8" stroke-width="1.2" opacity="0.7"/>
<polyline points="1938.9,1329.1 1937.6,1325.8 1941.6,1329.8 1942.6,1327.9 1946.6,1331" fill="none" stroke="#c04080" stroke-width="1.2" opacity="0.7"/>
<polyline points="1940.3,1332.3 1940.1,1332 1941.7,1328 1940.1,1327.6 1943,1323.9" fill="none" stroke="#c04080" stroke-width="1.2" opacity="0.7"/>
<polyline points="1938.2,1333.6 1942.6,1335.3 1945.6,1335.9 1945.5,1334.1 1946.4,1337.1" fill="none" stroke="#d06020" stroke-width="1.2" opacity="0.7"/>
<polyline points="1942.9,1332.7 1947.4,1332.2 1949.8,1333.9 1950.2,1338.4 1954.6,1335.6" fill="none" stroke="#d0a020" stroke-width="1.2" opacity="0.7"/>
<ellipse cx="1945.8" cy="1321.8" rx="11" ry="6.4" fill="url(#hl)"/>
<ellipse cx="2001.3" cy="1348.5" rx="16.1" ry="16.1" fill="#585858"/>
<ellipse cx="2001.3" cy="1345.7" rx="16.2" ry="15.7" fill="url(#gR)" stroke="#5e3a30" stroke-width="0.9"/>
<polyline points="1999.3,1347.5 2003.3,1349.8 2005.8,1350.5 2006.3,1347.2 2009.8,1344.6" fill="none" stroke="#8a50b8" stroke-width="1.2" opacity="0.7"/>
<polyline points="1995.9,1350.3 1999.4,1352.2 2002.3,1352.1 2007,1355.3 2006.4,1352.1" fill="none" stroke="#b040a0" stroke-width="1.2" opacity="0.7"/>
<polyline points="1993.6,1346 1995.4,1346.2 2001.1,1347.8 2006.4,1351.8 2005.8,1350.9" fill="none" stroke="#b040a0" stroke-width="1.2" opacity="0.7"/>
<polyline points="1998.5,1345.3 2001.4,1348.4 2006.1,1346.6 2005.1,1343.9 2010.4,1345.6" fill="none" stroke="#d0a020" stroke-width="1.2" opacity="0.7"/>
<polyline points="1995.3,1351.5 1998.5,1353.9 1999.7,1357.5 2002.7,1356.6 2003.1,1353.8" fill="none" stroke="#b040a0" stroke-width="1.2" opacity="0.7"/>
<ellipse cx="2001.3" cy="1337.6" rx="11" ry="6.4" fill="url(#hl)"/>
<ellipse cx="1891.2" cy="1357.8" rx="16.1" ry="16.1" fill="#585858"/>
<ellipse cx="1891.2" cy="1355" rx="16.2" ry="15.7" fill="url(#gR)" stroke="#5e3a30" stroke-width="0.9"/>
<polyline points="1889,1362 1892.3,1359.7 1897.7,1359.8 1896.3,1358.5 1901.2,1355.2" fill="none" stroke="#d06020" stroke-width="1.2" opacity="0.7"/>
<polyline points="1885.7,1358 1887.3,1359.2 1890.3,1362.1 1889.5,1364.8 1888.3,1368.1" fill="none" stroke="#d0a020" stroke-width="1.2" opacity="0.7"/>
<polyline points="1891.7,1353.7 1896.3,1354 1900.3,1354 1905.4,1358.3 1904.6,1361.1" fill="none" stroke="#b040a0" stroke-width="1.2" opacity="0.7"/>
<polyline points="1891.5,1353.8 1891.7,1355.3 1891.7,1354 1895.6,1354.2 1897.9,1355.9" fill="none" stroke="#d06020" stroke-width="1.2" opacity="0.7"/>
<polyline points="1892.6,1355.9 1891.7,1356.2 1894.4,1356.3 1894.1,1359.8 1897.3,1360.9" fill="none" stroke="#d06020" stroke-width="1.2" opacity="0.7"/>
<ellipse cx="1891.2" cy="1346.9" rx="11" ry="6.4" fill="url(#hl)"/>
<ellipse cx="1680" cy="1356.9" rx="16.1" ry="16.1" fill="#585858"/>
<ellipse cx="1680" cy="1354.1" rx="16.2" ry="15.7" fill="url(#gR)" stroke="#5e3a30" stroke-width="0.9"/>
<polyline points="1674.9,1359.8 1680,1355.8 1684.5,1354.9 1688.4,1353.3 1694,1353.3" fill="none" stroke="#a0a030" stroke-width="1.2" opacity="0.7"/>
<polyline points="1673.4,1352.9 1677.7,1353.7 1683,1351.9 1688.4,1349.1 1689.8,1351.4" fill="none" stroke="#a0a030" stroke-width="1.2" opacity="0.7"/>
<polyline points="1674.9,1357.4 1679.9,1359.1 1682.3,1355.6 1682.3,1354.1 1683.6,1358.2" fill="none" stroke="#b040a0" stroke-width="1.2" opacity="0.7"/>
<polyline points="1676.5,1358.4 1677.1,1355.3 1676.9,1355.1 1676.9,1358.2 1682.5,1360.3" fill="none" stroke="#a0a030" stroke-width="1.2" opacity="0.7"/>
<polyline points="1678.4,1360.5 1682.1,1364.3 1685,1363 1687.7,1365.5 1688.9,1364.5" fill="none" stroke="#d06020" stroke-width="1.2" opacity="0.7"/>
<ellipse cx="1680" cy="1346" rx="11" ry="6.4" fill="url(#hl)"/>
<ellipse cx="1657.4" cy="1371.2" rx="16.1" ry="16.1" fill="#585858"/>
<ellipse cx="1657.4" cy="1368.4" rx="16.2" ry="15.7" fill="url(#gR)" stroke="#5e3a30" stroke-width="0.9"/>
<polyline points="1650,1376.3 1654.6,1380.2 1653,1382.5 1653.6,1386.1 1652.8,1386.2" fill="none" stroke="#c03030" stroke-width="1.2" opacity="0.7"/>
<polyline points="1651,1371.6 1655.7,1373.5 1654.4,1376.5 1654,1379.8 1659.1,1378.8" fill="none" stroke="#8a50b8" stroke-width="1.2" opacity="0.7"/>
<polyline points="1654.7,1368.8 1655.6,1370.5 1656.3,1370.1 1655,1368.9 1657.9,1367.6" fill="none" stroke="#d0a020" stroke-width="1.2" opacity="0.7"/>
<polyline points="1654.6,1373.5 1659,1371.2 1659,1367.5 1663.1,1369.3 1668.3,1369.9" fill="none" stroke="#b040a0" stroke-width="1.2" opacity="0.7"/>
<polyline points="1652.3,1376.4 1651.4,1380.9 1652.2,1378.8 1656.3,1377.8 1655.5,1377" fill="none" stroke="#b040a0" stroke-width="1.2" opacity="0.7"/>
<ellipse cx="1657.4" cy="1360.3" rx="11" ry="6.4" fill="url(#hl)"/>
<ellipse cx="1746.1" cy="1383.9" rx="16.1" ry="16.1" fill="#585858"/>
<ellipse cx="1746.1" cy="1381.1" rx="16.2" ry="15.7" fill="url(#gR)" stroke="#5e3a30" stroke-width="0.9"/>
<polyline points="1738.8,1387.1 1738.2,1390.8 1736.9,1389.8 1738.5,1391.3 1739,1391.9" fill="none" stroke="#b040a0" stroke-width="1.2" opacity="0.7"/>
<polyline points="1740.2,1384.2 1739.8,1385 1741.2,1384.5 1744.6,1387.1 1743.4,1390.1" fill="none" stroke="#d06020" stroke-width="1.2" opacity="0.7"/>
<polyline points="1745.8,1382.6 1748.6,1386.8 1752.1,1390.3 1754.3,1394.4 1755.7,1391.1" fill="none" stroke="#b040a0" stroke-width="1.2" opacity="0.7"/>
<polyline points="1744.3,1381.3 1748.1,1378.7 1752.6,1376.8 1758.2,1379.8 1762.2,1383.6" fill="none" stroke="#8a50b8" stroke-width="1.2" opacity="0.7"/>
<polyline points="1745.3,1382.6 1745,1381.6 1747.3,1380.2 1748.1,1378.7 1748,1381" fill="none" stroke="#d06020" stroke-width="1.2" opacity="0.7"/>
<ellipse cx="1746.1" cy="1373" rx="11" ry="6.4" fill="url(#hl)"/>
<ellipse cx="1479.7" cy="1384.3" rx="16.1" ry="16.1" fill="#585858"/>
<ellipse cx="1479.7" cy="1381.5" rx="16.2" ry="15.7" fill="url(#gR)" stroke="#5e3a30" stroke-width="0.9"/>
<polyline points="1478,1382.8 1482,1382.7 1485.5,1382.4 1490.5,1385.4 1489.7,1387.9" fill="none" stroke="#b040a0" stroke-width="1.2" opacity="0.7"/>
<polyline points="1475.4,1389.4 1476.9,1393.7 1482.5,1391 1487.1,1393 1487.2,1396.4" fill="none" stroke="#8a50b8" stroke-width="1.2" opacity="0.7"/>
<polyline points="1479.7,1389.6 1480.5,1390.3 1483.7,1387.7 1487.1,1386.8 1486.9,1385.3" fill="none" stroke="#d06020" stroke-width="1.2" opacity="0.7"/>
<polyline points="1480.1,1380.4 1485.4,1378.6 1489.4,1381.3 1492.6,1382.2 1496.1,1384.1" fill="none" stroke="#8a50b8" stroke-width="1.2" opacity="0.7"/>
<polyline points="1475.3,1386.3 1479.6,1386.5 1479.5,1384.6 1480.2,1380.6 1483.4,1380.5" fill="none" stroke="#a0a030" stroke-width="1.2" opacity="0.7"/>
<ellipse cx="1479.7" cy="1373.4" rx="11" ry="6.4" fill="url(#hl)"/>
<ellipse cx="1591.2" cy="1393.2" rx="16.1" ry="16.1" fill="#585858"/>
<ellipse cx="1591.2" cy="1390.4" rx="16.2" ry="15.7" fill="url(#gR)" stroke="#5e3a30" stroke-width="0.9"/>
<ellipse cx="1591.2" cy="1382.3" rx="11" ry="6.4" fill="url(#hl)"/>
<ellipse cx="2044.7" cy="1385.2" rx="16.1" ry="16.1" fill="#585858"/>
<ellipse cx="2044.7" cy="1382.4" rx="16.2" ry="15.7" fill="url(#gR)" stroke="#5e3a30" stroke-width="0.9"/>
<polyline points="2038.7,1385.3 2044.2,1384.4 2044.3,1382.5 2044.3,1386 2045,1381.8" fill="none" stroke="#a0a030" stroke-width="1.2" opacity="0.7"/>
<polyline points="2042.9,1389.7 2046.5,1390.9 2048.1,1393.6 2053.1,1393.8 2055.4,1391.2" fill="none" stroke="#8a50b8" stroke-width="1.2" opacity="0.7"/>
<polyline points="2038.8,1380.9 2038.8,1378.9 2037.9,1379.7 2038.2,1378.8 2040.8,1382.6" fill="none" stroke="#b040a0" stroke-width="1.2" opacity="0.7"/>
<polyline points="2041.8,1383.6 2046.2,1386.2 2046.9,1383.1 2049.1,1383.8 2054.8,1384.7" fill="none" stroke="#c03030" stroke-width="1.2" opacity="0.7"/>
<polyline points="2039.4,1386.2 2043.2,1386 2047.3,1388.4 2048.7,1389.2 2052.8,1387.8" fill="none" stroke="#c04080" stroke-width="1.2" opacity="0.7"/>
<ellipse cx="2044.7" cy="1374.3" rx="11" ry="6.4" fill="url(#hl)"/>
<ellipse cx="1961.6" cy="1398.3" rx="16.1" ry="16.1" fill="#585858"/>
<ellipse cx="1961.6" cy="1395.5" rx="16.2" ry="15.7" fill="url(#gR)" stroke="#5e3a30" stroke-width="0.9"/>
<polyline points="1958.4,1394.7 1961.9,1398.5 1963.1,1399 1966.6,1401.4 1965.1,1402.7" fill="none" stroke="#c04080" stroke-width="1.2" opacity="0.7"/>
<polyline points="1959.4,1399.8 1960.5,1401.4 1964,1405.7 1965.4,1404.6 1967.6,1404.7" fill="none" stroke="#c04080" stroke-width="1.2" opacity="0.7"/>
<polyline points="1957.3,1394.2 1958.4,1395.9 1957.5,1394.4 1958.8,1392 1961.1,1388.4" fill="none" stroke="#c04080" stroke-width="1.2" opacity="0.7"/>
<polyline points="1961.6,1403 1964.5,1402.8 1967.3,1406.8 1968.2,1403.7 1973.1,1399.4" fill="none" stroke="#8a50b8" stroke-width="1.2" opacity="0.7"/>
<polyline points="1960.6,1398.4 1960,1395.4 1960.1,1398.5 1962.1,1399.7 1962.5,1403.1" fill="none" stroke="#8a50b8" stroke-width="1.2" opacity="0.7"/>
<ellipse cx="1961.6" cy="1387.4" rx="11" ry="6.4" fill="url(#hl)"/>
<ellipse cx="1890.3" cy="1409.5" rx="16.1" ry="16.1" fill="#585858"/>
<ellipse cx="1890.3" cy="1406.7" rx="16.2" ry="15.7" fill="url(#gR)" stroke="#5e3a30" stroke-width="0.9"/>
<polyline points="1884.4,1412.8 1883.5,1409.5 1888.1,1408 1891.6,1411.1 1891.1,1408.7" fill="none" stroke="#8a50b8" stroke-width="1.2" opacity="0.7"/>
<polyline points="1884.5,1411.6 1887,1412.4 1889.2,1413 1893,1411.6 1894.2,1411.9" fill="none" stroke="#c04080" stroke-width="1.2" opacity="0.7"/>
<polyline points="1885.7,1407.1 1889.5,1410.6 1892.3,1409.8 1892.1,1407.6 1893,1411.2" fill="none" stroke="#8a50b8" stroke-width="1.2" opacity="0.7"/>
<polyline points="1884.6,1413.6 1890.1,1413.8 1893.1,1414.8 1896.7,1412.3 1901.4,1411.6" fill="none" stroke="#c04080" stroke-width="1.2" opacity="0.7"/>
<polyline points="1890.8,1407.9 1894.4,1403.7 1897.4,1405.8 1901.9,1403.2 1906.7,1405.6" fill="none" stroke="#c04080" stroke-width="1.2" opacity="0.7"/>
<ellipse cx="1890.3" cy="1398.6" rx="11" ry="6.4" fill="url(#hl)"/>
<ellipse cx="1990.6" cy="1425.9" rx="16.1" ry="16.1" fill="#585858"/>
<ellipse cx="1990.6" cy="1423.1" rx="16.2" ry="15.7" fill="url(#gR)" stroke="#5e3a30" stroke-width="0.9"/>
<ellipse cx="1990.6" cy="1415" rx="11" ry="6.4" fill="url(#hl)"/>
<ellipse cx="2093.2" cy="1419.3" rx="16.1" ry="16.1" fill="#585858"/>
<ellipse cx="2093.2" cy="1416.5" rx="16.2" ry="15.7" fill="url(#gR)" stroke="#5e3a30" stroke-width="0.9"/>
<polyline points="2089.7,1418.8 2090.2,1422.8 2095.9,1425.6 2101.1,1427.1 2100.5,1423" fill="none" stroke="#8a50b8" stroke-width="1.2" opacity="0.7"/>
<polyline points="2090.3,1421.4 2094.9,1418.2 2100.2,1421.8 2100,1426.3 2104.9,1427.9" fill="none" stroke="#a0a030" stroke-width="1.2" opacity="0.7"/>
<polyline points="2088.1,1415.9 2087.3,1417.4 2088.3,1416.8 2092.2,1414.3 2092.9,1412.4" fill="none" stroke="#c04080" stroke-width="1.2" opacity="0.7"/>
<polyline points="2094.7,1421.4 2099.7,1424 2101.7,1419.6 2105.4,1419.8 2108.9,1419.4" fill="none" stroke="#d06020" stroke-width="1.2" opacity="0.7"/>
<polyline points="2085.3,1419 2088.1,1421.4 2092.1,1418.6 2091.4,1421.9 2092.8,1422.7" fill="none" stroke="#b040a0" stroke-width="1.2" opacity="0.7"/>
<ellipse cx="2093.2" cy="1408.4" rx="11" ry="6.4" fill="url(#hl)"/>
<ellipse cx="2196.3" cy="1428.6" rx="16.1" ry="16.1" fill="#585858"/>
<ellipse cx="2196.3" cy="1425.8" rx="16.2" ry="15.7" fill="url(#gR)" stroke="#5e3a30" stroke-width="0.9"/>
<polyline points="2190.8,1433.5 2193.3,1436.9 2192.4,1438.4 2194.7,1440.8 2200.1,1444.3" fill="none" stroke="#a0a030" stroke-width="1.2" opacity="0.7"/>
<polyline points="2191.9,1433.1 2197.4,1437.4 2196,1436.1 2201,1438.4 2201.1,1441.8" fill="none" stroke="#8a50b8" stroke-width="1.2" opacity="0.7"/>
<polyline points="2193.6,1429.7 2197.3,1431.9 2197.5,1429.9 2197.1,1431.7 2197.7,1433.2" fill="none" stroke="#a0a030" stroke-width="1.2" opacity="0.7"/>
<polyline points="2192.6,1428.7 2197.4,1430.2 2201.6,1429.7 2202.2,1427.5 2207.8,1424.2" fill="none" stroke="#d0a020" stroke-width="1.2" opacity="0.7"/>
<polyline points="2193.6,1424.6 2192.7,1424.1 2197.1,1426.5 2198.7,1427 2198.1,1428.2" fill="none" stroke="#c03030" stroke-width="1.2" opacity="0.7"/>
<ellipse cx="2196.3" cy="1417.7" rx="11" ry="6.4" fill="url(#hl)"/>
<ellipse cx="1737.2" cy="1442.2" rx="16.1" ry="16.1" fill="#585858"/>
<ellipse cx="1737.2" cy="1439.4" rx="16.2" ry="15.7" fill="url(#gR)" stroke="#5e3a30" stroke-width="0.9"/>
<polyline points="1730.6,1446.1 1730.7,1444.9 1731.6,1442.8 1732.4,1443.3 1732.9,1440.2" fill="none" stroke="#d0a020" stroke-width="1.2" opacity="0.7"/>
<polyline points="1736.7,1440.4 1739.5,1439.5 1738.5,1438.2 1737.5,1439.5 1741.7,1435.7" fill="none" stroke="#a0a030" stroke-width="1.2" opacity="0.7"/>
<polyline points="1731.9,1438 1736.9,1441.1 1736.8,1445.1 1740.2,1442.5 1744.8,1443.9" fill="none" stroke="#c04080" stroke-width="1.2" opacity="0.7"/>
<polyline points="1738.1,1441 1742.9,1438.9 1745,1435.5 1747.2,1432.5 1752.9,1428.5" fill="none" stroke="#a0a030" stroke-width="1.2" opacity="0.7"/>
<polyline points="1729.7,1442.2 1730.4,1440.3 1729.3,1440 1730,1442 1735.2,1444.5" fill="none" stroke="#d0a020" stroke-width="1.2" opacity="0.7"/>
<ellipse cx="1737.2" cy="1431.3" rx="11" ry="6.4" fill="url(#hl)"/>
<ellipse cx="1786.7" cy="1448.2" rx="16.1" ry="16.1" fill="#585858"/>
<ellipse cx="1786.7" cy="1445.4" rx="16.2" ry="15.7" fill="url(#gR)" stroke="#5e3a30" stroke-width="0.9"/>
<polyline points="1783.8,1450.3 1785.6,1453.7 1785.1,1453 1786.2,1454.6 1785.4,1456.3" fill="none" stroke="#c03030" stroke-width="1.2" opacity="0.7"/>
<polyline points="1782.1,1447.8 1787.4,1452.2 1792.4,1448.1 1795.6,1444.3 1796.6,1446" fill="none" stroke="#b040a0" stroke-width="1.2" opacity="0.7"/>
<polyline points="1785.2,1450.2 1785.2,1453.7 1788.4,1458.2 1794,1455.3 1795.5,1450.9" fill="none" stroke="#c04080" stroke-width="1.2" opacity="0.7"/>
<polyline points="1783.5,1448.3 1782.3,1451.9 1787.8,1451.4 1789.2,1448.1 1788.5,1444.9" fill="none" stroke="#a0a030" stroke-width="1.2" opacity="0.7"/>
<polyline points="1787.8,1453.1 1786.9,1453.4 1790.7,1453.5 1792,1457.6 1790.7,1458.7" fill="none" stroke="#c04080" stroke-width="1.2" opacity="0.7"/>
<ellipse cx="1786.7" cy="1437.3" rx="11" ry="6.4" fill="url(#hl)"/>
<ellipse cx="1845" cy="1442.2" rx="16.1" ry="16.1" fill="#585858"/>
<ellipse cx="1845" cy="1439.4" rx="16.2" ry="15.7" fill="url(#gR)" stroke="#5e3a30" stroke-width="0.9"/>
<polyline points="1845.1,1442.1 1845.6,1442.1 1847.8,1441.2 1848.8,1444.1 1848.5,1442.1" fill="none" stroke="#c04080" stroke-width="1.2" opacity="0.7"/>
<polyline points="1839.2,1444.9 1840.8,1442.9 1839.6,1441.5 1842.2,1443.7 1840.9,1446.1" fill="none" stroke="#b040a0" stroke-width="1.2" opacity="0.7"/>
<polyline points="1839.7,1446.8 1839.6,1447 1843.1,1450.9 1847.4,1450.1 1851.6,1451.4" fill="none" stroke="#c04080" stroke-width="1.2" opacity="0.7"/>
<polyline points="1843.7,1443.5 1843.3,1445.7 1844.1,1445.8 1846,1444.6 1851.3,1442.9" fill="none" stroke="#b040a0" stroke-width="1.2" opacity="0.7"/>
<polyline points="1838.2,1440.3 1839.6,1436 1840.9,1434.5 1843,1435.6 1844,1434.6" fill="none" stroke="#d0a020" stroke-width="1.2" opacity="0.7"/>
<ellipse cx="1845" cy="1431.3" rx="11" ry="6.4" fill="url(#hl)"/>
<ellipse cx="1916.4" cy="1455.7" rx="16.1" ry="16.1" fill="#585858"/>
<ellipse cx="1916.4" cy="1452.9" rx="16.2" ry="15.7" fill="url(#gR)" stroke="#5e3a30" stroke-width="0.9"/>
<polyline points="1917,1456.3 1919.7,1457 1924.9,1455.4 1923.9,1458.5 1925,1456.9" fill="none" stroke="#b040a0" stroke-width="1.2" opacity="0.7"/>
<polyline points="1909.5,1455.3 1907.9,1454.1 1911.3,1454.1 1915.5,1450 1918.1,1450.5" fill="none" stroke="#d0a020" stroke-width="1.2" opacity="0.7"/>
<polyline points="1916.5,1453.7 1916.4,1457.1 1920,1455.1 1923.8,1456.1 1923,1457.2" fill="none" stroke="#a0a030" stroke-width="1.2" opacity="0.7"/>
<polyline points="1916,1452.9 1917.2,1450.4 1921.9,1452.2 1921.4,1453.1 1925.2,1455.3" fill="none" stroke="#8a50b8" stroke-width="1.2" opacity="0.7"/>
<polyline points="1912.4,1454.2 1914.8,1458.4 1914.5,1461.9 1914.2,1465.5 1918.1,1463.7" fill="none" stroke="#b040a0" stroke-width="1.2" opacity="0.7"/>
<ellipse cx="1916.4" cy="1444.8" rx="11" ry="6.4" fill="url(#hl)"/>
<ellipse cx="2045.2" cy="1458.5" rx="16.1" ry="16.1" fill="#585858"/>
<ellipse cx="2045.2" cy="1455.7" rx="16.2" ry="15.7" fill="url(#gR)" stroke="#5e3a30" stroke-width="0.9"/>
<polyline points="2042.9,1460.7 2046.8,1461.8 2045.7,1458.3 2047.7,1462.7 2052.6,1463.4" fill="none" stroke="#d06020" stroke-width="1.2" opacity="0.7"/>
<polyline points="2045.2,1456.1 2048.5,1460.5 2047.3,1464.1 2047.1,1461.1 2052.2,1463.3" fill="none" stroke="#c04080" stroke-width="1.2" opacity="0.7"/>
<polyline points="2038,1455.5 2039.7,1454.7 2040.3,1456.2 2040.2,1453.8 2041.4,1455.6" fill="none" stroke="#d0a020" stroke-width="1.2" opacity="0.7"/>
<polyline points="2042.6,1457.6 2043.6,1453.1 2046.3,1449.1 2050.6,1450.6 2051.3,1452.6" fill="none" stroke="#d06020" stroke-width="1.2" opacity="0.7"/>
<polyline points="2043.1,1460.5 2044.9,1461.9 2044.3,1461.7 2045.4,1462.6 2046.3,1463.2" fill="none" stroke="#b040a0" stroke-width="1.2" opacity="0.7"/>
<ellipse cx="2045.2" cy="1447.6" rx="11" ry="6.4" fill="url(#hl)"/>
<ellipse cx="2097.4" cy="1467.8" rx="16.1" ry="16.1" fill="#585858"/>
<ellipse cx="2097.4" cy="1465" rx="16.2" ry="15.7" fill="url(#gR)" stroke="#5e3a30" stroke-width="0.9"/>
<polyline points="2091.1,1466.8 2090.2,1465.7 2092.3,1467.8 2093.8,1465.5 2098.4,1466.3" fill="none" stroke="#d0a020" stroke-width="1.2" opacity="0.7"/>
<polyline points="2089.7,1473.1 2093.4,1470.8 2097.8,1470.4 2100.4,1471.8 2104.8,1468.2" fill="none" stroke="#c03030" stroke-width="1.2" opacity="0.7"/>
<polyline points="2098.4,1470.7 2102.5,1475.2 2102.8,1471 2108.5,1474.4 2107.5,1471.1" fill="none" stroke="#d06020" stroke-width="1.2" opacity="0.7"/>
<polyline points="2094.1,1464.4 2097.9,1462.7 2098.6,1460.1 2100.2,1462.7 2100.7,1466.4" fill="none" stroke="#d0a020" stroke-width="1.2" opacity="0.7"/>
<polyline points="2092.6,1467.8 2093.9,1464.8 2093.7,1468.1 2094,1467.8 2095.5,1470.4" fill="none" stroke="#a0a030" stroke-width="1.2" opacity="0.7"/>
<ellipse cx="2097.4" cy="1456.9" rx="11" ry="6.4" fill="url(#hl)"/>
<ellipse cx="1602.4" cy="1465.5" rx="16.1" ry="16.1" fill="#585858"/>
<ellipse cx="1602.4" cy="1462.7" rx="16.2" ry="15.7" fill="url(#gR)" stroke="#5e3a30" stroke-width="0.9"/>
<polyline points="1600,1462.3 1601,1461 1603.2,1465.2 1608.3,1466.3 1614,1462.6" fill="none" stroke="#c03030" stroke-width="1.2" opacity="0.7"/>
<polyline points="1598.4,1469.8 1599.9,1471.4 1604.4,1474.2 1605.5,1471.8 1605.4,1470.1" fill="none" stroke="#d0a020" stroke-width="1.2" opacity="0.7"/>
<polyline points="1595.6,1462.1 1597,1459.6 1599.2,1461.7 1604.5,1463.3 1605.2,1461.1" fill="none" stroke="#a0a030" stroke-width="1.2" opacity="0.7"/>
<polyline points="1598.9,1466.2 1600,1464.8 1600.9,1467.1 1601.6,1463.4 1600.6,1460.6" fill="none" stroke="#8a50b8" stroke-width="1.2" opacity="0.7"/>
<polyline points="1603.4,1467.5 1603.2,1469.7 1608.2,1470.5 1613.6,1472.2 1616.3,1475.2" fill="none" stroke="#a0a030" stroke-width="1.2" opacity="0.7"/>
<ellipse cx="1602.4" cy="1454.6" rx="11" ry="6.4" fill="url(#hl)"/>
<ellipse cx="1809.1" cy="1489.3" rx="16.1" ry="16.1" fill="#585858"/>
<ellipse cx="1809.1" cy="1486.5" rx="16.2" ry="15.7" fill="url(#gR)" stroke="#5e3a30" stroke-width="0.9"/>
<polyline points="1804.7,1488.5 1804.9,1490.3 1807,1492.9 1807.1,1494.5 1809.7,1493.8" fill="none" stroke="#c03030" stroke-width="1.2" opacity="0.7"/>
<polyline points="1809.7,1492.9 1810.5,1495.8 1815.9,1496.5 1820,1493.3 1825.4,1489.1" fill="none" stroke="#d06020" stroke-width="1.2" opacity="0.7"/>
<polyline points="1808.6,1491.8 1808.7,1495.8 1808,1492.1 1810.6,1492.7 1813.9,1492.2" fill="none" stroke="#c04080" stroke-width="1.2" opacity="0.7"/>
<polyline points="1806.7,1486.3 1811.9,1489.5 1815.1,1490.2 1819.8,1491 1823.3,1490.1" fill="none" stroke="#a0a030" stroke-width="1.2" opacity="0.7"/>
<polyline points="1808,1492 1807,1494.5 1811.4,1492.9 1812.2,1488.8 1814.3,1492.7" fill="none" stroke="#b040a0" stroke-width="1.2" opacity="0.7"/>
<ellipse cx="1809.1" cy="1478.4" rx="11" ry="6.4" fill="url(#hl)"/>
<ellipse cx="1887.9" cy="1496.3" rx="16.1" ry="16.1" fill="#585858"/>
<ellipse cx="1887.9" cy="1493.5" rx="16.2" ry="15.7" fill="url(#gR)" stroke="#5e3a30" stroke-width="0.9"/>
<polyline points="1885.5,1493.6 1886.7,1496.5 1889.7,1493.6 1889.6,1495.2 1891.8,1492.8" fill="none" stroke="#8a50b8" stroke-width="1.2" opacity="0.7"/>
<polyline points="1884.8,1496.1 1885.2,1491.7 1883.7,1496 1886.5,1497.8 1891.8,1500.3" fill="none" stroke="#c03030" stroke-width="1.2" opacity="0.7"/>
<polyline points="1889.3,1497.2 1891.3,1500.2 1895.9,1496.7 1897.1,1493.2 1901,1491.8" fill="none" stroke="#8a50b8" stroke-width="1.2" opacity="0.7"/>
<polyline points="1879.7,1498.1 1880.8,1497.5 1884.5,1496.5 1886.9,1499.5 1886.5,1496.5" fill="none" stroke="#c03030" stroke-width="1.2" opacity="0.7"/>
<polyline points="1883.2,1497.9 1884.3,1499 1883,1502.1 1882,1505.5 1884.5,1509.3" fill="none" stroke="#c03030" stroke-width="1.2" opacity="0.7"/>
<ellipse cx="1887.9" cy="1485.4" rx="11" ry="6.4" fill="url(#hl)"/>
<ellipse cx="1992.9" cy="1486.5" rx="16.1" ry="16.1" fill="#585858"/>
<ellipse cx="1992.9" cy="1483.7" rx="16.2" ry="15.7" fill="url(#gR)" stroke="#5e3a30" stroke-width="0.9"/>
<polyline points="1994.1,1490.2 1995.6,1493.2 2001.2,1491.8 2002.1,1495.4 2003.5,1491.6" fill="none" stroke="#d0a020" stroke-width="1.2" opacity="0.7"/>
<polyline points="1992.3,1488.1 1992,1485.2 1995.3,1482.7 1997.1,1485.4 1997.1,1488.6" fill="none" stroke="#c03030" stroke-width="1.2" opacity="0.7"/>
<polyline points="1994.4,1487.3 1999.3,1490.7 2004.1,1490.9 2003.6,1488.9 2002.6,1485" fill="none" stroke="#d06020" stroke-width="1.2" opacity="0.7"/>
<polyline points="1991.4,1482.6 1991.9,1482 1992.7,1479.8 1996.3,1481.3 1996.8,1480.8" fill="none" stroke="#d0a020" stroke-width="1.2" opacity="0.7"/>
<polyline points="1993.4,1489.3 1997.1,1490.8 1995.6,1492.6 1994.1,1488.3 1994.2,1486.4" fill="none" stroke="#d0a020" stroke-width="1.2" opacity="0.7"/>
<ellipse cx="1992.9" cy="1475.6" rx="11" ry="6.4" fill="url(#hl)"/>
<ellipse cx="2123.6" cy="1510.3" rx="16.1" ry="16.1" fill="#585858"/>
<ellipse cx="2123.6" cy="1507.5" rx="16.2" ry="15.7" fill="url(#gR)" stroke="#5e3a30" stroke-width="0.9"/>
<polyline points="2119,1513.9 2119.1,1516.1 2122.5,1514.5 2122.1,1511.7 2125.9,1508.7" fill="none" stroke="#c03030" stroke-width="1.2" opacity="0.7"/>
<polyline points="2116.9,1507.2 2118.1,1506.1 2119,1503.8 2120.8,1502.1 2124.1,1501.1" fill="none" stroke="#c03030" stroke-width="1.2" opacity="0.7"/>
<polyline points="2120.8,1515.5 2125.3,1515.7 2127.7,1515.5 2127.7,1511.2 2131.4,1507.7" fill="none" stroke="#c03030" stroke-width="1.2" opacity="0.7"/>
<polyline points="2123.5,1511.8 2127.6,1510.9 2133,1512.6 2137.6,1509.4 2137.5,1511.3" fill="none" stroke="#a0a030" stroke-width="1.2" opacity="0.7"/>
<polyline points="2116.9,1512.6 2118.3,1509.1 2123.3,1506.7 2124.9,1505.4 2124.1,1502.7" fill="none" stroke="#c03030" stroke-width="1.2" opacity="0.7"/>
<ellipse cx="2123.6" cy="1499.4" rx="11" ry="6.4" fill="url(#hl)"/>
<ellipse cx="1562.7" cy="1512.1" rx="16.1" ry="16.1" fill="#585858"/>
<ellipse cx="1562.7" cy="1509.3" rx="16.2" ry="15.7" fill="url(#gR)" stroke="#5e3a30" stroke-width="0.9"/>
<polyline points="1556.7,1512.2 1559.9,1511.7 1562.4,1510.5 1566,1509.6 1566.4,1508.9" fill="none" stroke="#d0a020" stroke-width="1.2" opacity="0.7"/>
<polyline points="1558,1513.1 1557.6,1515.6 1561.8,1515.5 1561.9,1512.2 1563.3,1509.8" fill="none" stroke="#8a50b8" stroke-width="1.2" opacity="0.7"/>
<polyline points="1557.3,1510.8 1561.7,1506.9 1564.6,1509.8 1570.2,1505.5 1573.9,1509" fill="none" stroke="#b040a0" stroke-width="1.2" opacity="0.7"/>
<polyline points="1554.4,1515.9 1556,1517.6 1561.7,1519.6 1563,1518.1 1563.6,1517" fill="none" stroke="#b040a0" stroke-width="1.2" opacity="0.7"/>
<polyline points="1558.6,1512.2 1562.9,1512.8 1568.5,1513.3 1567.4,1515 1572,1513" fill="none" stroke="#d0a020" stroke-width="1.2" opacity="0.7"/>
<ellipse cx="1562.7" cy="1501.2" rx="11" ry="6.4" fill="url(#hl)"/>
<ellipse cx="1711.1" cy="1526.1" rx="16.1" ry="16.1" fill="#585858"/>
<ellipse cx="1711.1" cy="1523.3" rx="16.2" ry="15.7" fill="url(#gR)" stroke="#5e3a30" stroke-width="0.9"/>
<ellipse cx="1711.1" cy="1515.2" rx="11" ry="6.4" fill="url(#hl)"/>
<ellipse cx="1899.6" cy="1528.9" rx="16.1" ry="16.1" fill="#585858"/>
<ellipse cx="1899.6" cy="1526.1" rx="16.2" ry="15.7" fill="url(#gR)" stroke="#5e3a30" stroke-width="0.9"/>
<polyline points="1899,1532.3 1903.9,1530.2 1905.1,1529.8 1905.6,1527.9 1907.7,1524.4" fill="none" stroke="#c04080" stroke-width="1.2" opacity="0.7"/>
<polyline points="1895,1524.8 1897.7,1525.9 1902.7,1527.2 1902.6,1525.5 1903,1527.5" fill="none" stroke="#8a50b8" stroke-width="1.2" opacity="0.7"/>
<polyline points="1896.1,1529.8 1894.4,1526.7 1892.8,1527 1898.1,1523.2 1900.5,1523.3" fill="none" stroke="#a0a030" stroke-width="1.2" opacity="0.7"/>
<polyline points="1900.7,1528.3 1901.6,1530.2 1902.2,1527.8 1905.1,1525.2 1907.3,1527.4" fill="none" stroke="#c04080" stroke-width="1.2" opacity="0.7"/>
<polyline points="1892.2,1530 1895.3,1528.5 1897.6,1531.1 1899.5,1528.5 1902,1524.9" fill="none" stroke="#b040a0" stroke-width="1.2" opacity="0.7"/>
<ellipse cx="1899.6" cy="1518" rx="11" ry="6.4" fill="url(#hl)"/>
<ellipse cx="2083.4" cy="1539.2" rx="16.1" ry="16.1" fill="#585858"/>
<ellipse cx="2083.4" cy="1536.4" rx="16.2" ry="15.7" fill="url(#gR)" stroke="#5e3a30" stroke-width="0.9"/>
<polyline points="2083.5,1540.4 2082.3,1539.2 2081.9,1541.9 2080.7,1543.6 2080.9,1547.1" fill="none" stroke="#d06020" stroke-width="1.2" opacity="0.7"/>
<polyline points="2077.1,1540.3 2077.3,1540 2078.4,1541.4 2076.9,1542.1 2081.1,1544.1" fill="none" stroke="#c04080" stroke-width="1.2" opacity="0.7"/>
<polyline points="2084.3,1538.5 2089.7,1538.9 2090.7,1536 2093.5,1539 2096.7,1535.7" fill="none" stroke="#d06020" stroke-width="1.2" opacity="0.7"/>
<polyline points="2077.6,1543.4 2083.1,1544.3 2082.8,1546 2081.5,1545.2 2087.1,1544.6" fill="none" stroke="#c03030" stroke-width="1.2" opacity="0.7"/>
<polyline points="2078.9,1538.8 2080,1540.3 2085.3,1536.1 2088.3,1540.5 2088.5,1536.8" fill="none" stroke="#8a50b8" stroke-width="1.2" opacity="0.7"/>
<ellipse cx="2083.4" cy="1528.3" rx="11" ry="6.4" fill="url(#hl)"/>
<ellipse cx="2013.4" cy="1549.9" rx="16.1" ry="16.1" fill="#585858"/>
<ellipse cx="2013.4" cy="1547.1" rx="16.2" ry="15.7" fill="url(#gR)" stroke="#5e3a30" stroke-width="0.9"/>
<polyline points="2008.4,1554.3 2011.2,1554.4 2013.4,1550.3 2018,1552.6 2017.6,1551.7" fill="none" stroke="#c03030" stroke-width="1.2" opacity="0.7"/>
<polyline points="2010.1,1548.9 2014.4,1544.6 2019.2,1540.7 2022.7,1542.6 2023.2,1546.7" fill="none" stroke="#a0a030" stroke-width="1.2" opacity="0.7"/>
<polyline points="2011.7,1553.9 2013,1558.1 2014.1,1553.6 2014.1,1555.3 2016.9,1557.4" fill="none" stroke="#a0a030" stroke-width="1.2" opacity="0.7"/>
<polyline points="2008.4,1547 2013.2,1551 2015.8,1550.3 2021.4,1554.1 2025.8,1557.9" fill="none" stroke="#a0a030" stroke-width="1.2" opacity="0.7"/>
<polyline points="2007,1545.8 2011.6,1543.1 2013.3,1541.8 2016.4,1544.3 2021.8,1545.5" fill="none" stroke="#b040a0" stroke-width="1.2" opacity="0.7"/>
<ellipse cx="2013.4" cy="1539" rx="11" ry="6.4" fill="url(#hl)"/>
<ellipse cx="1963.1" cy="1568.1" rx="16.1" ry="16.1" fill="#585858"/>
<ellipse cx="1963.1" cy="1565.3" rx="16.2" ry="15.7" fill="url(#gR)" stroke="#5e3a30" stroke-width="0.9"/>
<polyline points="1961.5,1565.3 1966.5,1566.6 1972.1,1570.7 1973.8,1572.4 1978.3,1574.5" fill="none" stroke="#c04080" stroke-width="1.2" opacity="0.7"/>
<polyline points="1959.3,1573.2 1959.3,1569.3 1964.8,1571.6 1969.6,1568 1971.2,1572.1" fill="none" stroke="#c03030" stroke-width="1.2" opacity="0.7"/>
<polyline points="1960.7,1572.8 1964.8,1571.9 1967.2,1576 1969.7,1580.3 1968.8,1579.5" fill="none" stroke="#d0a020" stroke-width="1.2" opacity="0.7"/>
<polyline points="1961.4,1570.6 1965.9,1567.6 1968.4,1571 1968,1568.4 1970.1,1569.2" fill="none" stroke="#c03030" stroke-width="1.2" opacity="0.7"/>
<polyline points="1961.4,1567.4 1962.7,1563.3 1967.5,1559.5 1970.2,1561.5 1976,1558.9" fill="none" stroke="#8a50b8" stroke-width="1.2" opacity="0.7"/>
<ellipse cx="1963.1" cy="1557.2" rx="11" ry="6.4" fill="url(#hl)"/>
<ellipse cx="1707.8" cy="1580.3" rx="16.1" ry="16.1" fill="#585858"/>
<ellipse cx="1707.8" cy="1577.5" rx="16.2" ry="15.7" fill="url(#gR)" stroke="#5e3a30" stroke-width="0.9"/>
<ellipse cx="1707.8" cy="1569.4" rx="11" ry="6.4" fill="url(#hl)"/>
<ellipse cx="1601.4" cy="1591.5" rx="16.1" ry="16.1" fill="#585858"/>
<ellipse cx="1601.4" cy="1588.7" rx="16.2" ry="15.7" fill="url(#gR)" stroke="#5e3a30" stroke-width="0.9"/>
<polyline points="1598.6,1587.5 1597.4,1585.6 1596.4,1583 1594.9,1579.8 1597.1,1579.6" fill="none" stroke="#b040a0" stroke-width="1.2" opacity="0.7"/>
<polyline points="1602.1,1595.3 1602.1,1595.9 1602.8,1593 1608.3,1592.4 1612.7,1596.5" fill="none" stroke="#d06020" stroke-width="1.2" opacity="0.7"/>
<polyline points="1595.9,1587.7 1598.2,1588.9 1603.9,1590.9 1607.7,1589.3 1609.6,1587.5" fill="none" stroke="#c03030" stroke-width="1.2" opacity="0.7"/>
<polyline points="1601.9,1587.4 1607.7,1589.7 1610,1587.5 1612.2,1583.4 1616.8,1582.3" fill="none" stroke="#8a50b8" stroke-width="1.2" opacity="0.7"/>
<polyline points="1602.3,1589.1 1601.1,1585.8 1602.4,1581.6 1604.4,1577.8 1605.1,1574.1" fill="none" stroke="#8a50b8" stroke-width="1.2" opacity="0.7"/>
<ellipse cx="1601.4" cy="1580.6" rx="11" ry="6.4" fill="url(#hl)"/>
<ellipse cx="1858.5" cy="1592.4" rx="16.1" ry="16.1" fill="#585858"/>
<ellipse cx="1858.5" cy="1589.6" rx="16.2" ry="15.7" fill="url(#gR)" stroke="#5e3a30" stroke-width="0.9"/>
<polyline points="1859.5,1594.2 1860.8,1594.9 1861.7,1591.1 1863.3,1591.2 1865.3,1593.6" fill="none" stroke="#c04080" stroke-width="1.2" opacity="0.7"/>
<polyline points="1859.9,1597.6 1861.3,1593.8 1861.9,1590.3 1864.7,1589 1869.7,1591.9" fill="none" stroke="#b040a0" stroke-width="1.2" opacity="0.7"/>
<polyline points="1855.5,1596.8 1859.9,1597.8 1862,1601.3 1867.4,1603.2 1870.3,1600.4" fill="none" stroke="#d06020" stroke-width="1.2" opacity="0.7"/>
<polyline points="1858.2,1588.2 1862.5,1590.5 1863.9,1589.3 1868,1592.7 1870.6,1592.6" fill="none" stroke="#d0a020" stroke-width="1.2" opacity="0.7"/>
<polyline points="1860,1593.1 1859.6,1595.5 1864.7,1599.7 1864.3,1601.8 1869.1,1603" fill="none" stroke="#b040a0" stroke-width="1.2" opacity="0.7"/>
<ellipse cx="1858.5" cy="1581.5" rx="11" ry="6.4" fill="url(#hl)"/>
<ellipse cx="1783.4" cy="1613.4" rx="16.1" ry="16.1" fill="#585858"/>
<ellipse cx="1783.4" cy="1610.6" rx="16.2" ry="15.7" fill="url(#gR)" stroke="#5e3a30" stroke-width="0.9"/>
<polyline points="1775.3,1614.1 1777.6,1611.4 1778.4,1607 1780.4,1610 1780.5,1608" fill="none" stroke="#8a50b8" stroke-width="1.2" opacity="0.7"/>
<polyline points="1782.6,1618.1 1781.7,1616.8 1781.2,1619 1780.8,1615 1779.5,1619.1" fill="none" stroke="#b040a0" stroke-width="1.2" opacity="0.7"/>
<polyline points="1779.3,1613.5 1785,1613.8 1786.6,1616 1785.4,1616.8 1790.9,1620.8" fill="none" stroke="#c04080" stroke-width="1.2" opacity="0.7"/>
<polyline points="1776.9,1611.1 1778.1,1614.6 1778.9,1611.5 1778.5,1615.1 1781.5,1614.2" fill="none" stroke="#d06020" stroke-width="1.2" opacity="0.7"/>
<polyline points="1779.8,1612.3 1781.3,1607.9 1785.1,1606.3 1784.1,1607.6 1788.5,1603.4" fill="none" stroke="#a0a030" stroke-width="1.2" opacity="0.7"/>
<ellipse cx="1783.4" cy="1602.5" rx="11" ry="6.4" fill="url(#hl)"/>
<ellipse cx="1940.7" cy="1611.5" rx="16.1" ry="16.1" fill="#585858"/>
<ellipse cx="1940.7" cy="1608.7" rx="16.2" ry="15.7" fill="url(#gR)" stroke="#5e3a30" stroke-width="0.9"/>
<polyline points="1935.4,1609.1 1940.1,1606.3 1942.4,1604.1 1945.7,1602.6 1948.7,1599.3" fill="none" stroke="#d0a020" stroke-width="1.2" opacity="0.7"/>
<polyline points="1941.8,1608.7 1943.8,1608.8 1948.6,1611.7 1949,1608.5 1947.7,1604.4" fill="none" stroke="#a0a030" stroke-width="1.2" opacity="0.7"/>
<polyline points="1940.8,1615.1 1942.9,1617.6 1945.8,1616.4 1947.5,1615.9 1950.6,1612.1" fill="none" stroke="#b040a0" stroke-width="1.2" opacity="0.7"/>
<polyline points="1936.5,1607.3 1937.8,1606.4 1938.8,1609.2 1940,1608.7 1939.8,1604.5" fill="none" stroke="#b040a0" stroke-width="1.2" opacity="0.7"/>
<polyline points="1939,1613.8 1942.8,1613.2 1947.1,1614.6 1947,1615.7 1950.8,1614.8" fill="none" stroke="#d06020" stroke-width="1.2" opacity="0.7"/>
<ellipse cx="1940.7" cy="1600.6" rx="11" ry="6.4" fill="url(#hl)"/>
<ellipse cx="2039.6" cy="1601.7" rx="16.1" ry="16.1" fill="#585858"/>
<ellipse cx="2039.6" cy="1598.9" rx="16.2" ry="15.7" fill="url(#gR)" stroke="#5e3a30" stroke-width="0.9"/>
<polyline points="2034.3,1602.5 2039.4,1606.8 2037.9,1608.3 2036.6,1612.3 2035.8,1612.2" fill="none" stroke="#d0a020" stroke-width="1.2" opacity="0.7"/>
<polyline points="2035.9,1601.3 2040.7,1598.3 2040,1602.6 2039.8,1602.7 2044.4,1600" fill="none" stroke="#a0a030" stroke-width="1.2" opacity="0.7"/>
<polyline points="2031.5,1599 2034.2,1600 2038.7,1599.7 2044.1,1597.5 2043.5,1601.3" fill="none" stroke="#a0a030" stroke-width="1.2" opacity="0.7"/>
<polyline points="2034.8,1601 2038.9,1604.9 2038.1,1605.7 2039.1,1603 2039.1,1607.1" fill="none" stroke="#c03030" stroke-width="1.2" opacity="0.7"/>
<polyline points="2035.3,1604.2 2040.7,1601.8 2040.3,1601.3 2038.9,1602.9 2039.3,1607" fill="none" stroke="#c04080" stroke-width="1.2" opacity="0.7"/>
<ellipse cx="2039.6" cy="1590.8" rx="11" ry="6.4" fill="url(#hl)"/>
<ellipse cx="1658.8" cy="1639.1" rx="16.1" ry="16.1" fill="#585858"/>
<ellipse cx="1658.8" cy="1636.3" rx="16.2" ry="15.7" fill="url(#gR)" stroke="#5e3a30" stroke-width="0.9"/>
<polyline points="1653,1639.8 1654.9,1644 1656.2,1646.8 1660.9,1642.5 1666.3,1642.8" fill="none" stroke="#a0a030" stroke-width="1.2" opacity="0.7"/>
<polyline points="1652.4,1638.1 1653.6,1641.5 1652.6,1637.8 1652.7,1642.2 1656.1,1641.7" fill="none" stroke="#8a50b8" stroke-width="1.2" opacity="0.7"/>
<polyline points="1652.1,1638.5 1650.7,1636.6 1653.8,1636.8 1655.1,1634.1 1653.8,1632.5" fill="none" stroke="#a0a030" stroke-width="1.2" opacity="0.7"/>
<polyline points="1659,1642 1663.2,1643.2 1667.3,1640.6 1669.7,1637.8 1673.1,1637.9" fill="none" stroke="#d06020" stroke-width="1.2" opacity="0.7"/>
<polyline points="1654.7,1643.7 1655.2,1647.1 1658.1,1645.4 1663.1,1641.2 1666.5,1637.2" fill="none" stroke="#d0a020" stroke-width="1.2" opacity="0.7"/>
<ellipse cx="1658.8" cy="1628.2" rx="11" ry="6.4" fill="url(#hl)"/>
<ellipse cx="1720.9" cy="1689.9" rx="16.1" ry="16.1" fill="#585858"/>
<ellipse cx="1720.9" cy="1687.1" rx="16.2" ry="15.7" fill="url(#gR)" stroke="#5e3a30" stroke-width="0.9"/>
<ellipse cx="1720.9" cy="1679" rx="11" ry="6.4" fill="url(#hl)"/>
<ellipse cx="1755.4" cy="1720.2" rx="16.1" ry="16.1" fill="#585858"/>
<ellipse cx="1755.4" cy="1717.4" rx="16.2" ry="15.7" fill="url(#gR)" stroke="#5e3a30" stroke-width="0.9"/>
<polyline points="1756,1719.2 1760.5,1715.1 1766,1712.6 1765.9,1714 1768.1,1710.4" fill="none" stroke="#a0a030" stroke-width="1.2" opacity="0.7"/>
<polyline points="1754.7,1717.2 1755.1,1718.7 1754.8,1714.5 1754.9,1711.1 1755.2,1711.3" fill="none" stroke="#c04080" stroke-width="1.2" opacity="0.7"/>
<polyline points="1754.5,1723.3 1755.7,1725.7 1758.7,1722.7 1759.5,1719.5 1762.5,1719.8" fill="none" stroke="#c03030" stroke-width="1.2" opacity="0.7"/>
<polyline points="1748.9,1716.5 1753.2,1718.1 1756.3,1721.9 1756.4,1718.1 1761.6,1715.4" fill="none" stroke="#c04080" stroke-width="1.2" opacity="0.7"/>
<polyline points="1751.3,1725.3 1756.5,1722.8 1756.3,1722.9 1755.1,1726.3 1753.7,1730.1" fill="none" stroke="#a0a030" stroke-width="1.2" opacity="0.7"/>
<ellipse cx="1755.4" cy="1709.3" rx="11" ry="6.4" fill="url(#hl)"/>
<ellipse cx="1945.8" cy="1705.8" rx="16.1" ry="16.1" fill="#585858"/>
<ellipse cx="1945.8" cy="1703" rx="16.2" ry="15.7" fill="url(#gR)" stroke="#5e3a30" stroke-width="0.9"/>
<polyline points="1938.7,1703.8 1944,1705.8 1946.3,1707.7 1946.1,1707.3 1949.6,1703.7" fill="none" stroke="#b040a0" stroke-width="1.2" opacity="0.7"/>
<polyline points="1942.5,1709.8 1947.5,1709.8 1947,1712.2 1946.3,1710 1945,1706.1" fill="none" stroke="#d06020" stroke-width="1.2" opacity="0.7"/>
<polyline points="1943.3,1701.7 1946.5,1702.9 1950.8,1704.5 1954.8,1702.2 1959.8,1700.2" fill="none" stroke="#c03030" stroke-width="1.2" opacity="0.7"/>
<polyline points="1940.8,1703 1943.2,1702.7 1943.1,1701.3 1947.6,1703.2 1948.5,1700.5" fill="none" stroke="#c04080" stroke-width="1.2" opacity="0.7"/>
<polyline points="1942.7,1703.4 1942.4,1707.8 1947.1,1706.1 1952.2,1705.8 1954.5,1703.3" fill="none" stroke="#c03030" stroke-width="1.2" opacity="0.7"/>
<ellipse cx="1945.8" cy="1694.9" rx="11" ry="6.4" fill="url(#hl)"/>
<g font-family="'Liberation Sans', Arial, Helvetica, sans-serif" font-size="9.9" fill="#1c1c1c">
<text x="1923.8" y="1046.2">Tnfsf14</text>
<text x="1865.9" y="1089.1">Lta</text>
<text x="1991" y="1109.2">Ltb</text>
<text x="1673.2" y="1137.2">Ly96</text>
<text x="1789.4" y="1167.5">Nos2</text>
<text x="1874.3" y="1186.2">Cd40lg</text>
<text x="1688.2" y="1189.9">Tlr6</text>
<text x="1799.7" y="1215.1">Tlr7</text>
<text x="1893.5" y="1218.8">Cd14</text>
<text x="2047" y="1214.2">Itgb2</text>
<text x="1628" y="1239.4">Tlr1</text>
<text x="1688.6" y="1249.2">Tlr9</text>
<text x="1559.4" y="1265.5">Tirap</text>
<text x="2003.1" y="1259.4">Ccl7</text>
<text x="2101.6" y="1260.8">Ccl24</text>
<text x="2124" y="1282.3">Ccl19</text>
<text x="1740.9" y="1305.2">Il1a</text>
<text x="1794.1" y="1322.9">Tlr4</text>
<text x="1846.8" y="1321.9">Tnf</text>
<text x="1961.6" y="1315">Ccl4</text>
<text x="2017.1" y="1330.8">Ccr7</text>
<text x="1907" y="1340.1">Ccl5</text>
<text x="1695.8" y="1339.2">Myd88</text>
<text x="1673.2" y="1353.5">Tlr3</text>
<text x="1761.9" y="1366.2">Tlr2</text>
<text x="1495.5" y="1366.6">Ripk2</text>
<text x="1607" y="1375.5">Tlr5</text>
<text x="2060.5" y="1367.5">Cxcr4</text>
<text x="1977.4" y="1380.6">Cxcl5</text>
<text x="1906.1" y="1391.8">Cxcl10</text>
<text x="2006.4" y="1408.2">Ccr2</text>
<text x="2109" y="1401.6">C3ar1</text>
<text x="2212.1" y="1410.9">Ccl8</text>
<text x="1753" y="1424.5">Il1b</text>
<text x="1802.5" y="1430.5">Il10</text>
<text x="1860.8" y="1424.5">Ccl2</text>
<text x="1932.2" y="1438">Cxcl2</text>
<text x="2061" y="1440.8">Ccl1</text>
<text x="2113.2" y="1450.1">Ccr3</text>
<text x="1618.2" y="1447.8">Il1r1</text>
<text x="1824.9" y="1471.6">Il6</text>
<text x="1903.7" y="1478.6">Cxcl1</text>
<text x="2008.7" y="1468.8">Cxcr2</text>
<text x="2139.4" y="1492.6">Ccl22</text>
<text x="1578.5" y="1494.4">Il23r</text>
<text x="1726.9" y="1508.4">Nfkb1</text>
<text x="1915.4" y="1511.2">Ccl3</text>
<text x="2099.2" y="1521.5">Ccr1</text>
<text x="2029.2" y="1532.2">C3</text>
<text x="1978.9" y="1550.4">Cxcl3</text>
<text x="1723.6" y="1562.6">Il1rn</text>
<text x="1617.2" y="1573.8">Il23a</text>
<text x="1874.3" y="1574.7">Csf1</text>
<text x="1799.2" y="1595.7">Crp</text>
<text x="1956.5" y="1593.8">Ccl12</text>
<text x="2055.4" y="1584">Kng1</text>
<text x="1674.6" y="1621.4">Il6ra</text>
<text x="1736.7" y="1672.2">Fos</text>
<text x="1771.2" y="1702.5">Il10rb</text>
<text x="1961.6" y="1688.1">C4b</text>
</g>
<text x="1453" y="1704.3" font-family="'Liberation Sans', Arial, Helvetica, sans-serif" font-size="25.5" font-weight="normal" text-anchor="start" fill="#111">p-value&lt; 1.0e-16</text>
<rect x="867.4" y="1762.9" width="640.6" height="42.7" fill="#000"/>
<text x="1186.9" y="1793.1" font-family="'Liberation Sans', Arial, Helvetica, sans-serif" font-size="21.9" font-weight="normal" text-anchor="middle" fill="#fff">Gene Ontology</text>
<text x="868.5" y="1742.7" font-family="'Liberation Sans', Arial, Helvetica, sans-serif" font-size="32.5" font-weight="bold" text-anchor="start" fill="#111">GO terms of clusters</text>
<g stroke="#dcdcdc" stroke-width="1">
<line x1="868.1" y1="1837.1" x2="1507.3" y2="1837.1"/>
<line x1="868.1" y1="1890.4" x2="1507.3" y2="1890.4"/>
<line x1="868.1" y1="1943.7" x2="1507.3" y2="1943.7"/>
<line x1="868.1" y1="1997" x2="1507.3" y2="1997"/>
<line x1="868.1" y1="2050.3" x2="1507.3" y2="2050.3"/>
<line x1="868.1" y1="2103.6" x2="1507.3" y2="2103.6"/>
<line x1="868.1" y1="2156.9" x2="1507.3" y2="2156.9"/>
<line x1="868.1" y1="2210.2" x2="1507.3" y2="2210.2"/>
<line x1="868.1" y1="2263.5" x2="1507.3" y2="2263.5"/>
<line x1="868.1" y1="2316.8" x2="1507.3" y2="2316.8"/>
<line x1="868.1" y1="2370.1" x2="1507.3" y2="2370.1"/>
<line x1="868.1" y1="2423.4" x2="1507.3" y2="2423.4"/>
<line x1="868.1" y1="2476.7" x2="1507.3" y2="2476.7"/>
<line x1="868.1" y1="2530" x2="1507.3" y2="2530"/>
<line x1="868.1" y1="2583.3" x2="1507.3" y2="2583.3"/>
<line x1="868.1" y1="2636.6" x2="1507.3" y2="2636.6"/>
<line x1="868.1" y1="2689.9" x2="1507.3" y2="2689.9"/>
<line x1="959.3" y1="1805.6" x2="959.3" y2="2721.4"/>
<line x1="1111.3" y1="1805.6" x2="1111.3" y2="2721.4"/>
<line x1="1263.3" y1="1805.6" x2="1263.3" y2="2721.4"/>
<line x1="1415.3" y1="1805.6" x2="1415.3" y2="2721.4"/>
</g>
<rect x="868.1" y="1805.6" width="639.2" height="915.8" fill="none" stroke="#333" stroke-width="1.5"/>
<g stroke="#333" stroke-width="1.5">
<line x1="861.6" y1="1837.1" x2="868.1" y2="1837.1"/>
<line x1="861.6" y1="1890.4" x2="868.1" y2="1890.4"/>
<line x1="861.6" y1="1943.7" x2="868.1" y2="1943.7"/>
<line x1="861.6" y1="1997" x2="868.1" y2="1997"/>
<line x1="861.6" y1="2050.3" x2="868.1" y2="2050.3"/>
<line x1="861.6" y1="2103.6" x2="868.1" y2="2103.6"/>
<line x1="861.6" y1="2156.9" x2="868.1" y2="2156.9"/>
<line x1="861.6" y1="2210.2" x2="868.1" y2="2210.2"/>
<line x1="861.6" y1="2263.5" x2="868.1" y2="2263.5"/>
<line x1="861.6" y1="2316.8" x2="868.1" y2="2316.8"/>
<line x1="861.6" y1="2370.1" x2="868.1" y2="2370.1"/>
<line x1="861.6" y1="2423.4" x2="868.1" y2="2423.4"/>
<line x1="861.6" y1="2476.7" x2="868.1" y2="2476.7"/>
<line x1="861.6" y1="2530" x2="868.1" y2="2530"/>
<line x1="861.6" y1="2583.3" x2="868.1" y2="2583.3"/>
<line x1="861.6" y1="2636.6" x2="868.1" y2="2636.6"/>
<line x1="861.6" y1="2689.9" x2="868.1" y2="2689.9"/>
<line x1="959.3" y1="2721.4" x2="959.3" y2="2728.9"/>
<line x1="1111.3" y1="2721.4" x2="1111.3" y2="2728.9"/>
<line x1="1263.3" y1="2721.4" x2="1263.3" y2="2728.9"/>
<line x1="1415.3" y1="2721.4" x2="1415.3" y2="2728.9"/>
</g>
<g font-family="'Liberation Sans', Arial, Helvetica, sans-serif" font-size="23.4" fill="#000" text-anchor="end">
<text x="855.6" y="1845.9">MF: interleukin−1 receptor binding</text>
<text x="855.6" y="1899.2">MF: cytokine activity</text>
<text x="855.6" y="1952.5">MF: chemokine receptor activity</text>
<text x="855.6" y="2005.8">MF: chemokine activity</text>
<text x="855.6" y="2059.1">MF: CCR chemokine receptor binding</text>
<text x="855.6" y="2112.4">CC: Toll−like receptor 2−Toll−like receptor 6 protein complex</text>
<text x="855.6" y="2165.7">CC: membrane raft</text>
<text x="855.6" y="2219">CC: extracellular space</text>
<text x="855.6" y="2272.3">CC: extracellular region</text>
<text x="855.6" y="2325.6">CC: external side of plasma membrane</text>
<text x="855.6" y="2378.9">CC: cell surface</text>
<text x="855.6" y="2432.2">BP: response to lipopolysaccharide</text>
<text x="855.6" y="2485.5">BP: neutrophil chemotaxis</text>
<text x="855.6" y="2538.8">BP: inflammatory response</text>
<text x="855.6" y="2592.1">BP: immune response</text>
<text x="855.6" y="2645.4">BP: chemotaxis</text>
<text x="855.6" y="2698.7">BP: chemokine−mediated signaling pathway</text>
</g>
<g font-family="'Liberation Sans', Arial, Helvetica, sans-serif" font-size="21.8" fill="#000" text-anchor="middle">
<text x="959.3" y="2750.8">ALL</text>
<text x="1111.3" y="2750.8">Cluster 1</text>
<text x="1263.3" y="2750.8">Cluster 2</text>
<text x="1415.3" y="2750.8">Cluster 3</text>
</g>
<circle cx="959.3" cy="1837.1" r="5.4" fill="#eba48c"/>
<circle cx="1415.3" cy="1837.1" r="5" fill="#eba48c"/>
<circle cx="959.3" cy="1890.4" r="10" fill="#eba48c"/>
<circle cx="1111.3" cy="1890.4" r="4.4" fill="#eba48c"/>
<circle cx="1263.3" cy="1890.4" r="5.4" fill="#eba48c"/>
<circle cx="1415.3" cy="1890.4" r="8.9" fill="#eba48c"/>
<circle cx="959.3" cy="1943.7" r="5.4" fill="#eba48c"/>
<circle cx="1415.3" cy="1943.7" r="5" fill="#eba48c"/>
<circle cx="959.3" cy="1997" r="8.5" fill="#eba48c"/>
<circle cx="1263.3" cy="1997" r="4.6" fill="#eba48c"/>
<circle cx="1415.3" cy="1997" r="7.3" fill="#eba48c"/>
<circle cx="959.3" cy="2050.3" r="6.3" fill="#eba48c"/>
<circle cx="1263.3" cy="2050.3" r="4" fill="#eba48c"/>
<circle cx="1415.3" cy="2050.3" r="5.4" fill="#eba48c"/>
<circle cx="1415.3" cy="2103.6" r="2.6" fill="#eba48c"/>
<circle cx="959.3" cy="2156.9" r="5.8" fill="#eba48c"/>
<circle cx="959.3" cy="2210.2" r="11.3" fill="#eba48c"/>
<circle cx="1263.3" cy="2210.2" r="6.3" fill="#eba48c"/>
<circle cx="1415.3" cy="2210.2" r="10.3" fill="#eba48c"/>
<circle cx="959.3" cy="2263.5" r="10.9" fill="#eba48c"/>
<circle cx="1111.3" cy="2263.5" r="4.8" fill="#e0a2b0"/>
<circle cx="1263.3" cy="2263.5" r="5.4" fill="#eba48c"/>
<circle cx="1415.3" cy="2263.5" r="9.7" fill="#eba48c"/>
<circle cx="959.3" cy="2316.8" r="7.7" fill="#eba48c"/>
<circle cx="1415.3" cy="2316.8" r="6.3" fill="#eba48c"/>
<circle cx="959.3" cy="2370.1" r="7.3" fill="#eba48c"/>
<circle cx="1415.3" cy="2370.1" r="6.5" fill="#eba48c"/>
<circle cx="1111.3" cy="2423.4" r="4" fill="#d9a0ba"/>
<circle cx="959.3" cy="2476.7" r="8.5" fill="#eba48c"/>
<circle cx="1263.3" cy="2476.7" r="4.6" fill="#eba48c"/>
<circle cx="1415.3" cy="2476.7" r="7.3" fill="#eba48c"/>
<circle cx="959.3" cy="2530" r="12.1" fill="#eba48c"/>
<circle cx="1111.3" cy="2530" r="4.4" fill="#eba48c"/>
<circle cx="1263.3" cy="2530" r="6.3" fill="#eba48c"/>
<circle cx="1415.3" cy="2530" r="11.3" fill="#eba48c"/>
<circle cx="959.3" cy="2583.3" r="10.9" fill="#eba48c"/>
<circle cx="1111.3" cy="2583.3" r="4" fill="#9098c8"/>
<circle cx="1263.3" cy="2583.3" r="6" fill="#eba48c"/>
<circle cx="1415.3" cy="2583.3" r="9.9" fill="#eba48c"/>
<circle cx="959.3" cy="2636.6" r="9.3" fill="#eba48c"/>
<circle cx="1263.3" cy="2636.6" r="5" fill="#eba48c"/>
<circle cx="1415.3" cy="2636.6" r="8.1" fill="#eba48c"/>
<circle cx="959.3" cy="2689.9" r="8.7" fill="#eba48c"/>
<circle cx="1263.3" cy="2689.9" r="4.4" fill="#eba48c"/>
<circle cx="1415.3" cy="2689.9" r="7.3" fill="#eba48c"/>
<text x="1548.4" y="2092.5" font-family="'Liberation Sans', Arial, Helvetica, sans-serif" font-size="26.4" font-weight="normal" text-anchor="start" fill="#000" textLength="198" lengthAdjust="spacing">Adjusted.P.value</text>
<defs><linearGradient id="pv" x1="0" y1="0" x2="0" y2="1">
<stop offset="0" stop-color="#27509b"/><stop offset="0.2" stop-color="#554492"/><stop offset="0.4" stop-color="#8b3b8b"/>
<stop offset="0.56" stop-color="#b4197e"/><stop offset="0.8" stop-color="#d3204a"/><stop offset="1" stop-color="#dc2c2c"/>
</linearGradient></defs>
<rect x="1547.9" y="2108.7" width="32.3" height="158.9" fill="url(#pv)"/>
<g stroke="#fff" stroke-width="1.2" opacity="0.8">
<line x1="1547.9" y1="2140" x2="1554.4" y2="2140"/><line x1="1573.7" y1="2140" x2="1580.2" y2="2140"/>
<line x1="1547.9" y1="2171.8" x2="1554.4" y2="2171.8"/><line x1="1573.7" y1="2171.8" x2="1580.2" y2="2171.8"/>
<line x1="1547.9" y1="2203.6" x2="1554.4" y2="2203.6"/><line x1="1573.7" y1="2203.6" x2="1580.2" y2="2203.6"/>
<line x1="1547.9" y1="2235.6" x2="1554.4" y2="2235.6"/><line x1="1573.7" y1="2235.6" x2="1580.2" y2="2235.6"/>
</g>
<g font-family="'Liberation Sans', Arial, Helvetica, sans-serif" font-size="21.7" fill="#000">
<text x="1593.8" y="2147.8">0.04</text>
<text x="1593.8" y="2179.6">0.03</text>
<text x="1593.8" y="2211.4">0.02</text>
<text x="1593.8" y="2243.4">0.01</text>
<text x="1593.8" y="2385.8">20</text>
<text x="1593.8" y="2417.9">40</text>
<text x="1593.8" y="2449.7">60</text>
</g>
<text x="1548.4" y="2346" font-family="'Liberation Sans', Arial, Helvetica, sans-serif" font-size="26.4" font-weight="normal" text-anchor="start" fill="#000">Genes</text>
<rect x="1547.9" y="2361.4" width="32.3" height="96.8" fill="#fdfdfd" stroke="#ededed" stroke-width="1"/>
<circle cx="1564.1" cy="2378.2" r="8.8" fill="#6c6c70" stroke="#5a5a5e" stroke-width="0.6"/>
<circle cx="1564.1" cy="2410.3" r="11.3" fill="#6c6c70" stroke="#5a5a5e" stroke-width="0.6"/>
<circle cx="1564.1" cy="2442.1" r="13.1" fill="#6c6c70" stroke="#5a5a5e" stroke-width="0.6"/>
</svg>
</body></html>
